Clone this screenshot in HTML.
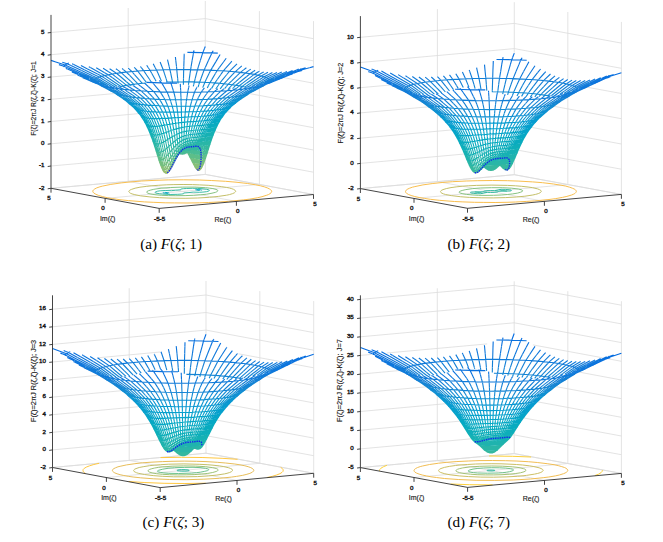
<!DOCTYPE html>
<html><head><meta charset="utf-8"><title>F(ζ; J)</title>
<style>
html,body{margin:0;padding:0;background:#fff}
svg{display:block}
path{fill:none;stroke-linecap:butt;stroke-linejoin:round}
.m path{stroke-width:1.12}
.tk text{font-family:"Liberation Sans",sans-serif;font-size:6.2px;fill:#1a1a1a;stroke:#1a1a1a;stroke-width:.4px}
.tk text.zl,.tk text.al{font-size:7px;stroke-width:.14px}
.cap{font-family:"Liberation Serif",serif;font-size:15.2px;fill:#000}
.it{font-style:italic}
</style></head><body>
<svg width="663" height="542" viewBox="0 0 663 542">
<rect width="663" height="542" fill="#fff"/>
<g><path d="M51 188.3l154.3-13.9M205.3 174.4l108.2 20.1M51 166l106.9-9.6M178.3 154.6l9.5-0.9M207.8 152.6l105.7 19.6M51 143.8l99.4-9M215.1 131.7l98.4 18.3M51 121.5l87.9-7.9M226.4 111.5l87.1 16.2M51 99.3l63.9-5.8M249.1 93.5l64.4 12M51 77l25-2.2M283 77.5l30.5 5.7M51 54.7l154.3-13.9M205.3 40.8l108.2 20.1M51 32.5l154.3-13.9M205.3 18.6l108.2 20.1M128.2 181.4l0-78.2M128.2 67.6l0-59.6M259.4 184.4l0-96.1M259.4 71.2l0-60.1M205.3 174.4l0-15M205.3 46.6l0-45.6M313.5 194.5l0-173.4M236.4 201.4l-108.2-20M105.1 198.4l154.3-14M51 188.3l154.3-13.9M205.3 174.4l108.2 20.1" stroke="#dcdcdc" stroke-width="0.8" fill="none"/>
<path d="M200.5 189.8l-1.7-0.3-2.4-0.1M163.2 192.4l-0.3 0.2 0.1 0.2 1 0.2 1.7 0.3 2.4 0.1M201.3 190.4l0.3-0.2-0.1-0.2-1-0.2M196.7 190.1l-1.2-0.3-0.3-0.2M164.8 192.3l3 0.4 1.2 0.3 0.3 0.2M199.7 190.5l-3-0.4" stroke="#07a9c3" stroke-width="0.95" fill="none"/>
<path d="M206.3 189.2l-4.3-0.5-4.6-0.3-5-0.1-5.7 0.2-3.4 0.2-2 0.3-0.5 0.2 0 0.6-5.3 0.4-4.1 0.5-6.2-0.2-5.1 0.3-2.5 0.4-1.4 0.4-0.8 0.3-0.3 0.4 0.1 0.3 0.4 0.2 1.5 0.5 2.4 0.5 3 0.3 7.6 0.4 7.7-0.2 3.4-0.2 2-0.3 0.5-0.2 0-0.6 5.3-0.4 4.1-0.5 6.2 0.2 3.6-0.2 3.5-0.4 2.2-0.6 0.5-0.2 0.3-0.4-0.1-0.3-0.7-0.4-2.3-0.6" stroke="#33b8a1" stroke-width="0.95" fill="none"/>
<path d="M212.9 188.6l-3.4-0.5-4-0.4-10.6-0.6-12.1 0-12.1 0.4-9.6 0.7-7.3 1.1-2.9 0.7-2.4 0.7-1.5 0.8-0.3 0.3-0.1 0.3 0.3 0.5 0.8 0.5 1.3 0.5 1.9 0.4 4.1 0.7 6.3 0.6 7.1 0.3 7.4 0.1 9.3-0.1 8.7-0.3 7-0.5 5.8-0.6 5.4-1 3.6-0.9 1.1-0.5 0.8-0.5 0.4-0.4-0.1-0.5-0.7-0.5-1.1-0.5-3.1-0.8" stroke="#7fbf7a" stroke-width="0.95" fill="none"/>
<path d="M226.4 187.4l-4.7-0.7-7.1-0.8-6.4-0.6-8.6-0.4-7.2-0.3-9.3-0.1-9.2 0.1-7.1 0.2-8.6 0.5-6.3 0.5-5.7 0.6-6.2 0.8-4.9 1-3.6 1.2-1.4 0.6-0.7 0.5-0.4 0.5-0.2 0.5 0.1 0.5 0.4 0.4 1 0.8 1.7 0.7 2.2 0.6 6.1 1.3 9.6 1.1 9.8 0.8 12.4 0.5 13 0.1 12.6-0.3 11.8-0.7 8.8-0.9 8.3-1.2 2.8-0.6 3-0.9 2-0.9 0.9-0.8 0.3-0.4 0-0.5-0.4-0.7-1.5-1-1.9-0.7-2.4-0.7-3-0.6" stroke="#c1bc60" stroke-width="0.95" fill="none"/>
<path d="M255.5 184.8l-7.9-1.3-11.6-1.3-10.4-0.9-14.3-0.8-12-0.5-15.6-0.2-15.5 0.1-12.2 0.4-14.4 0.7-10.7 0.9-9.7 1-10.4 1.5-8.3 1.7-2.6 0.7-3.2 1.1-2.2 1.2-1 0.8-0.6 0.8-0.1 0.8 0.4 0.8 0.7 0.8 2 1.2 2.9 1.2 3.8 1.1 4.7 1.1 5.5 0.9 6.2 1 9.5 1 16 1.3 8.7 0.4 12 0.5 9.3 0.1 12.5 0.1 12.4-0.2 9.1-0.3 11.6-0.6 8.3-0.5 14.9-1.5 6.5-0.8 7.5-1.3 4.7-1.1 4.8-1.5 1.8-0.7 1.4-0.8 1.3-1.2 0.4-0.8-0.1-0.8-0.6-0.8-0.4-0.4-1.2-0.8-1.6-0.8-3.2-1.2-4.1-1.1-5-1" stroke="#f8ba45" stroke-width="0.95" fill="none"/>
<g class="m">
<path d="M196.8 168.1l0.9 1.8 0.9 0.6 0.3-0.4M196 167.7l0.8 1.7 0.8 0.6 0.4-0.4M195.4 167.5l0.4 0.8 0.8 0.5M164.3 171.7l-1.1-0.9-0.5-1M165.1 172.9l-1.1-0.8-1-2.1M165.9 173.4l-1-0.8-1.2-2.5M168.1 171.5l-0.4 1-0.8 0.7-1-0.8-0.9-2M169.1 170.8l-0.4 0.9-0.8 0.7-0.9-0.9-0.4-1M169 170.9l-0.4-0.5M200.8 168l0.4-0.3M198.7 168.1l0.5 0.8 1 0.6 1.1-1.1 0.5-1M197.6 168l0.9 1.7 0.9 0.6 1.1-1 0.5-1.1M196.8 168.1l-0.8-0.4-0.3-0.4M197.6 168l-0.8 0.1M197.7 169.9l-0.9-0.5-1-1.1-0.8-1.2M167.3 172.6l0.4-0.1 1-0.8 1.1-1.4M199.6 168l-0.4 0.9-0.7 0.8-0.8 0.2M198.6 170.5l-1-0.5-1.3-1.7M164.3 171.7l0.8 1.2 0.8 0.5 1-0.2 1-0.8 1.4-2M200.8 168l-0.6 1.5-0.8 0.8-0.8 0.2M163 170.4l1 1.7 0.9 0.5 1-0.2 1.1-0.9 0.6-0.7M201.5 168l-0.2 0.4-0.8 0.9-0.4 0.1" stroke="#9abf6f"/>
<path d="M195.5 163.3l1.3 4.8M194.7 163.1l1.3 4.6M194 162.9l1 3.8 0.4 0.8M193.3 162.7l0.7 2.4 0.7 1.5 0.4 0.2M192.8 162.6l0.8 1.9 0.7 0.2M192.7 162l0.3 0.1M161.1 165.1l-0.2-0.5M162.9 169.3l-0.4-0.3-1.3-2.5-0.6-1.6M162.7 169.8l-0.8-1.5-1.1-3.1M163 170l-1.7-4.7M163.7 170.1l-1.3-4.3M165 170.4l-1.5-4.7M166.6 170.5l-0.6-1.4-0.9-3.1M170.5 168.6l-0.7 1.7-0.8 0.6M168.6 170.4l-0.4-0.4-1-2.4-0.4-1.7M171.7 166.4l-0.8 2-0.7 0.5-0.7-0.9-0.7-1.9M171.8 166.3l-0.3 0.1-0.3-0.4M201.2 163.6l0.5 0.1 0.4-0.4M199.1 163.9l1.2 1.8 1 0.4 1.2-1.1 1.1-2.1M197.8 163.5l1 2.5 1 1.6 1 0.4M201.2 167.7l0.8-0.7 1.3-2.6 0.6-1.6M197 163.4l1.2 3.9 0.5 0.8M201.8 167.4l0.8-1.6 1.1-3.3M196.1 163.2l1.5 4.8M201.5 167.1l0.3-0.5M195.9 165.3l-0.7-0.4-0.9-0.9-1.2-1.7M197.8 163.5l-0.5 1.1-0.6 0.6-0.8 0.1M195.7 167.3l-1.7-2.2-1.7-3.3M169.5 169.8l1-1.2 1.6-2.8M199.3 163.9l-0.5 2.1-0.6 1.3-0.6 0.7M195 167.1l-2.6-5.1M169.8 170.3l2.3-4.2M200.6 164.1l-0.3 1.6-0.7 2.3M195.2 166.6l-0.2-0.5M194.3 164.7l-0.3-0.5M169.3 170.4l2.5-4.4M201.7 163.7l-0.9 4.3M162.3 168l0.7 2.4M167.6 170.8l1.9-2.8 1.1-2M202.8 163.6l-0.8 3.4-0.5 1M160.9 165.5l1 2.8 0.8 1.2 1 0.6 1.1-0.2 1.2-0.8 2.1-2.7M203.6 163.4l-0.3 1-0.7 1.4-0.8 0.8" stroke="#87bf77"/>
<path d="M194.3 158.5l1.2 4.8M193.6 158.2l1.1 4.9M193 158.1l1 4.8M192.4 158.5l0.9 4.2M191.7 158.2l1.1 4.4M191 158l0.8 2.9 0.6 1.1 0.3 0M190.4 157.9l0.7 1.4M160.9 164.6l-1.9-4.5M160.6 164.9l-1.7-4.8M160.8 165.2l-1.5-4.8M161.3 165.3l-1.2-4.3M162.4 165.8l-1.3-4.9M163.5 165.7l-1.1-4.3M165.1 166l-1.1-4.5M166.8 165.9l-1.1-4.6M171.8 165.9l-0.1 0.5M168.8 166.1l-1.2-4.4M172.8 164.3l-0.7 1.8-0.3 0.2M171.2 166l-0.3-0.5-1.2-3.9M174.2 161.6l-0.8 2-0.5 0.2-0.6-1-0.3-1.1M199.3 159.3l0.6 0.9 1 0.9 1.1 0 1.3-1.1 0.8-1.5M198.2 159.4l1.4 3 1 1.1 0.6 0.1M202.1 163.3l0.9-0.7 1.4-2.5 0.6-1.4M197.2 159.2l1.9 4.7M203.6 162.9l1.9-4.6M196.5 159.2l1.3 4.3M203.9 162.8l1.6-4.8M195.7 158.6l1.3 4.8M203.7 162.5l1-3.3M195 158.4l1.1 4.8M195.1 161.7l-0.8-0.3-0.8-0.7-2.3-3.3M197.2 159.2l-0.4 1.1-0.5 0.9-0.6 0.5-0.6 0M193.1 162.3l-2.8-5M198.7 159.4l-0.5 2.7-0.4 1.4M192.3 161.8l-2.5-4.9M172.1 165.8l2.6-4.7M199.9 159.6l-0.6 4.3M192.4 162l-2.4-5.1M172.1 166.1l2.4-4.6M201 159.6l-0.4 4.5M171.8 166l2.3-4.6M202.1 159.5l-0.4 4.2M170.6 166l2.2-4.2M203.3 159.5l-0.5 4.1M160.5 163.6l0.4 1.9M168.1 166.4l2.8-4.5M204.5 159.1l-0.9 4.3M159.2 160.7l0.4 1.7 0.8 1.7 0.9 1.2 1.1 0.5 1.1-0.1 1.3-0.8 1.4-1.3 1.4-1.9M205.3 158.8l-0.4 1.3-0.8 1.3" stroke="#73bf7f"/>
<path d="M193.2 153.8l1.1 4.7M192.5 153.6l1.1 4.6M192 153.7l1 4.4M191.3 153.6l1.1 4.9M190.7 153.4l1 4.8M190 153.4l1 4.6M189.2 153.1l1.2 4.8M188.5 153l0.8 2.9 0.5 0.6M187.9 153l0.1 0.4 0.4 0.3M158.2 156.5l-0.6-1.6M159 160.1l-1.6-4.9M158.9 160.1l-1.3-4.5M159.3 160.4l-1.2-4.4M160.1 161l-1.3-5.1M161.1 160.9l-1.1-4.5M162.4 161.4l-1.1-5M164 161.5l-1.1-4.6M165.7 161.3l-1-4.5M167.6 161.7l-1-4.8M169.7 161.6l-0.9-4.3M174.4 160.7l-0.2 0.9M172 161.7l-1.1-4.6M175.4 159.1l-0.7 1.8-0.4 0.1-0.5-1.1-0.7-2.7M176.7 157l-0.6 1.3-0.3-0.1-0.4-1.1M199.3 154.9l0.7 0.7 1.1 0.5 1.1-0.3 1.3-1.2M197.9 154.7l1 1.8 1.1 1.4 1.1 0.7 1.1-0.1 1.2-1.2 1.7-2.9M197.1 154.9l2.2 4.4M204.1 158.5l0.6-0.9 1.6-3.7M196.3 154.6l1.9 4.8M205 158.7l1.9-5.2M195.6 154.2l1.6 5M205.5 158.3l1.6-5M195 154.3l1.5 4.9M205.5 158l1.4-4.9M194.4 154.2l1.3 4.4M193.7 153.8l1.3 4.6M193.4 154.4l-0.7-0.2-1.5-1.1M194.4 154.2l-0.5 0.2-0.5 0M194.2 157.9l-0.7-0.2-1.6-1.5-2.5-3.2M196.6 154.5l-0.4 1.6-0.4 0.9-0.4 0.6-0.6 0.3-0.6 0M191.2 157.4l-3-4.9M197.9 154.7l-0.3 3.1-0.4 1.4M190.3 157.3l-2.6-4.8M174.1 161.2l0.6-1M175.9 158.1l0.9-1.5M199 155.1l-0.3 4.3M189.8 156.9l-2.3-4.4M174.7 161.1l2.3-4.2M200 155.1l-0.1 4.5M190 156.9l-2.5-4.7M174.5 161.5l2.5-4.6M201.1 154.9l-0.1 4.7M174.1 161.4l2.4-4.5M202.2 154.8l-0.1 4.7M172.8 161.8l2.6-4.7M203.5 155.1l-0.2 4.4M170.9 161.9l2.6-4.6M204.9 154.9l-0.4 4.2M158.5 157.5l0.7 3.2M167.6 161.7l3.3-4.6M206.2 154.5l-0.2 1.7-0.7 2.6M157.7 156.2l1 2.1 1 1 1.1 0.6 1.3-0.1 1.3-0.7 2.3-1.9M206.8 153.7l-0.7 1.3" stroke="#5dbe89"/>
<path d="M183 153.9l0.8-0.3M191.3 149.3l0.3 0.3 0.9 1.9 0.7 2.3M190.7 149.1l0.4 0.4 0.8 1.9 0.6 2.2M190.5 149.3l0.7 1.8 0.8 2.6M190.1 149.5l0.4 1.1 0.8 3M189.8 150.1l0.9 3.3M189.2 150.4l0.8 3M188.7 151l0.5 2.1M188.1 151.1l0.4 1.9M187.5 151.6l0.4 1.4M181.5 153.9l-0.9-0.3M181.5 153.9l-1-0.3M181.4 153.9l-1.9-0.7M181.4 153.9l-2-0.7M181.4 153.9l-2-0.6M181.4 153.9l-2.1-0.6M181.4 153.9l-2.1-0.6M181.4 153.9l-1.1-0.2-1.6-0.6M181.4 154l-1.1-0.3-1.6-0.6M181.4 154l-1.1-0.2-1.5-0.6M181.4 154l-1-0.2-1.6-0.6M157.6 154.9l-1.5-4.3M181.4 154l-1-0.2-1.5-0.6M157.4 155.2l-1.4-4.6M181.4 154l-0.9-0.2-1.5-0.5M157.6 155.6l-1.3-4.4M181.5 154l-1-0.2-1.4-0.5M158.1 156l-1.2-4.5M181.5 154l-0.9-0.1-1.8-0.8M158.8 155.9l-1.2-4.6M181.5 154l-0.8-0.1-1.8-0.8M160 156.4l-1.2-4.6M181.6 154l-0.8-0.1-1.7-0.7M161.3 156.4l-1.1-4.6M181.6 154l-0.7-0.1-1.6-0.7M162.9 156.9l-0.9-4.5M181.7 154l-1.4-0.4-1.1-0.7M164.7 156.8l-1-4.7M181.7 154l-1.2-0.3-1-0.7M166.6 156.9l-0.9-4.5M181.8 154l-1.2-0.3-1.1-1M168.8 157.3l-0.9-4.6M181.8 154l-1-0.3-1.2-1.3M170.9 157.1l-0.8-4.3M181.9 154.1l-0.8-0.4-1.3-1.6M173.1 157.2l-0.8-4.4M182 154.1l-0.4-0.1-0.7-0.7-0.8-1.5M176.8 156.6l-0.1 0.4M175.4 157.1l-1-4.6M182 154.1l-0.2-0.1-0.6-0.7-0.8-1.9M178.2 154.3l-0.4 1.2-0.3 0.4-0.2-0.3-0.7-3.1M182.1 154.1l-0.5-0.7-0.7-2.3M179.4 152.5l-0.2 1-0.2 0.2-0.4-1.6M182.2 154.1l-0.3-0.7-0.4-2.7M182.2 154.1l-0.1-3.4M182.3 154.1l0.2-0.7 0.3-2.8M182.4 154.1l0.4-0.7 0.6-2.8M182.4 154.1l0.3-0.1 0.4-0.7 0.9-2.7M182.5 154.1l0.3-0.1 0.6-0.7 1.3-2.7M182.6 154.1l0.4-0.1 0.7-0.7 1.6-2.7M182.6 154l0.5 0 0.9-0.7 1-1.2 0.9-1.6M182.7 154l0.5-0.1 1.1-0.6 1.1-1.2 1.1-1.6M182.8 154l0.6-0.1 1.2-0.6 1.2-1.3 1.2-1.6M182.8 154l0.7-0.1 1.3-0.7 1.4-1.2 1.3-1.6M182.9 154l0.7-0.1 1.5-0.7 1.4-1.2 1.5-1.7M182.9 154l0.8-0.1 1.6-0.7 1.6-1.3 1.6-1.6M182.9 154l0.9-0.1 1.7-0.7 1.7-1.3 1.4-1.4M183 154l0.9-0.1 1.8-0.8 1.7-1.3 1.5-1.4M183 154l1-0.1 1.8-0.8 1.9-1.3 1.5-1.4M183.1 154l0.9-0.2 2-0.8 1.9-1.3 1.6-1.4M183.1 154l1-0.2 2-0.8 2-1.3 1.6-1.5M183.1 154l1-0.2 2.1-0.8 2-1.4 1.7-1.4M183.1 154l1.1-0.2 2-0.9 2.1-1.4 1.8-1.4M197.7 150.4l1 0.8 1.1 0.5 1 0 1.1-0.5 0.8-0.9M183.1 154l1.1-0.2 2.1-0.9 2.1-1.4 1.7-1.5M196.4 150.2l2.5 2.6 1.1 0.7 1 0.3 1.1-0.4 1.3-1.3 1.4-2.2M183.1 154l1.1-0.3 2.1-0.9 2.1-1.4 2.1-1.7M195.8 150.2l3.5 4.7M203.5 154.6l1.4-2.2 1.2-2.4M183.1 153.9l1.1-0.2 2.1-0.9 2.1-1.5 2.1-1.7M195.1 150l0.7 0.9 2.1 3.8M205.1 154.4l2.2-5.1M183.1 153.9l1.1-0.2 2.1-0.9 4.1-3.2M194.6 150l1.1 1.7 1.4 3.2M206.3 153.9l1.7-4.5M183.1 153.9l1-0.2 2.1-1 2.7-2.1M189.6 150.1l0.7-0.6M193.8 149.7l0.7 0.8 1.8 4.1M206.9 153.5l1.5-4.3M183.1 153.9l1-0.2 2-1 2.7-2.1M189.8 149.7l0.4-0.2M193.5 149.9l0.7 1 1.4 3.3M207.1 153.3l1.3-4.4M183.1 153.9l1.9-0.7 1.7-1M192.9 149.6l1 1.6 1.1 3.1M206.9 153.1l1.3-4.5M183 153.9l1-0.3 1.4-0.7M192.2 149.4l0.3 0.3 1 1.8 0.9 2.7M183 153.9l1.8-0.7M191.8 149.4l0.3 0.3 0.9 1.9 0.7 2.2M183 153.9l-1.6 0 1.1 0.2 0.6-0.1-0.1-0.1M183.8 153.6l-0.4-0.1M180.9 153.6l-0.5 0.1 0.1 0.1 1.6 0.2 1.8-0.1 0.3-0.2-0.4-0.1M184.7 153.1l-0.3 0M179.9 153.1l-0.6 0.2 0.3 0.2 2.6 0.2 2.7-0.2 0.3-0.2-0.5-0.2M178.8 153.1l2.1 0.2 3.1 0 2-0.3 0.3-0.2-0.3-0.2M179.5 152.7l3.1 0.1 2.6-0.1 1.9-0.3 0.3-0.2-0.3-0.2M179.8 152.1l3.3 0.1 3.1-0.2 2-0.4 0.2-0.2-0.3-0.2M180.4 151.4l6.4-0.2 2.1-0.3 0.5-0.3 0-0.2M191.6 149.6l-1.1-0.3M192.9 149.6l-1.3 0M192.5 151.5l-1.3-0.4-1.4-1M194.6 150l-0.7 1.2-0.9 0.4-0.5-0.1M191.2 153.1l-2.3-2.3M195.8 150.2l-0.3 2.3-0.6 1.3-0.5 0.4M189.4 153l-1.3-1.9M196.8 150.5l0 2.3-0.2 1.7M188.2 152.5l-0.6-0.8M197.7 150.4l0.2 1.3 0 3M187.7 152.5l-0.3-0.5M176.8 156.6l1.3-1.9 2.2-2.9M198.6 150.8l0.3 2 0.1 2.3M177 156.9l2.2-3.4 1.4-1.7M199.6 150.6l0.4 4.5M177 156.9l2-3.2 1.1-1.5M200.6 150.5l0.5 4.4M176.5 156.9l2.9-4.5M201.8 150.7l0.4 4.1M175.4 157.1l2.9-4.5M203.2 150.4l0.3 4.7M173.5 157.3l3.1-4.8M204.8 150.4l0.1 4.5M170.9 157.1l2.9-4.3M206.5 150.2l-0.3 4.3M156.5 151.3l0.7 3.3 0.5 1.6M165.7 157.2l3.9-4.5M208 149.8l-0.7 2.9-0.5 1M157.8 151.9l1.2 0.5 1.3-0.1 0.5-0.1" stroke="#48bb94"/>
<path d="M191 149l0.3 0.3M156.1 150.6l-1.6-4.9M156 150.6l-1.4-4.5M156.3 151.2l-1.5-4.9M156.9 151.5l-1.4-5.1M157.6 151.3l-1.2-4.5M158.8 151.8l-1.1-4.6M160.2 151.8l-1.1-4.5M162 152.4l-1.2-5M163.7 152.1l-1-4.6M165.7 152.4l-0.9-4.4M167.9 152.7l-0.9-4.6M170.1 152.8l-0.9-4.9M172.3 152.8l-0.7-4.5M174.4 152.5l-0.6-4.2M176.6 152.5l-0.6-4.7M178.6 152.1l-0.5-4.2M181.5 150.7l-0.1-0.4M180.8 150.9l-0.2 0.9-0.1 0-0.4-4.2M182.1 150.7l0-0.8M182 150.3l-0.1-2.4M182.8 150.6l0.1-1.4M183.2 148.8l0.1 0.5 0.2-1.8M183.4 150.6l0.5-2M184.4 148.5l0.3 0 0.3-1.1M184 150.6l0.5-1.5 0.5-0.9 0.2-0.1 0.7 0.1 0.4-0.7M184.7 150.6l0.6-1.6 0.6-0.9 0.3-0.2 1 0 0.6-0.7M185.3 150.6l0.8-1.6 0.7-1 0.4-0.2 1.2-0.1 0.6-0.5M185.9 150.5l0.9-1.5 0.9-1 0.5-0.3 1.4-0.1 0.7-0.5M186.5 150.5l1-1.6 1.1-1 0.5-0.2 1.7-0.2 0.5-0.3M187 150.4l1.2-1.6 1.2-1 0.6-0.2 1.9-0.2 0.6-0.3M187.5 150.4l1.4-1.6 1.3-1 0.7-0.3 2-0.2 0.7-0.3M188 150.3l1.5-1.6 1.4-1 0.8-0.3 2.2-0.2 1.1-0.6M188.5 150.3l1.5-1.7 1.6-1 0.8-0.2 2.4-0.3 1.2-0.5M188.6 150.5l2-1.9 1.6-1.1 0.9-0.2 2.5-0.2 1.3-0.5M188.9 150.4l2.1-1.9 1.8-1 0.9-0.2 2.7-0.1 0.9-0.2 0.9-0.5M189.2 150.4l2.2-1.9 1-0.6 0.9-0.4 0.9-0.1 2.8 0.1 1-0.2 0.9-0.4 0.7-0.6M189.5 150.3l2.3-1.9 0.9-0.5 1-0.3 1 0 2.9 0.4 1-0.1 0.9-0.3 1.1-0.8 0.7-0.9M189.7 150.2l2.4-1.8 1-0.5 1-0.2 1 0.1 3 1 1 0.1 1-0.3 1-0.7 1.8-2.2M189.9 150.2l2.4-1.8 1-0.4 1.1 0 1 0.3 3.1 1.6 1 0.2 1-0.1 1.1-0.7 1.2-1.3 1.7-2.5M190.1 150.1l1.3-1.1 1.1-0.6 1-0.2 1.1 0.1 1 0.5 2.1 1.6M202.7 150.3l1.9-2.5 1.3-2.5M190.1 150l1.4-1 1.1-0.5 1-0.2 1.1 0.4 1.7 1.5M204.8 149.9l2.3-4.6M190.5 149.7l1.1-0.7 1-0.5 1.1 0 1.1 0.6 1 1.1M206.1 150l2.1-4.9M190.5 149.6l1.1-0.7 1-0.3 1.1 0.2 1 0.8 0.4 0.4M207.3 149.3l1.9-4.7M190.4 149.6l1.1-0.7 1-0.2 1.1 0.3 1 1M208 149.4l1.6-4.8M190.3 149.5l1.1-0.6 1-0.2 1 0.5 0.4 0.5M208.4 149.2l1.6-5M190.2 149.5l1-0.6 1-0.1 1 0.6 0.3 0.5M208.4 148.9l1.5-4.8M191.4 148.8l0.5 0 1 0.8M208.2 148.6l0.5-1.7M191.1 148.8l0.5 0 0.6 0.6M191.2 148.8l0.6 0.6M181.1 150.7l6.9-0.4 2.3-0.4 0.2-0.2-0.3-0.2M182.1 149.9l6.1-0.4 3.1-0.4 0.3-0.1-0.4-0.1M182.9 149.2l5.3-0.4 3.9-0.4 0.5 0.1-0.2 0.2-1.2 0.1M183.9 148.6l8.8-0.7 0.6 0.1 0.4 0.5-0.3 0.7-0.5 0.4M184.5 148.3l8.8-0.8 0.8 0.2 0.5 0.6 0.2 0.8-0.2 0.9M184.7 148.2l7.7-0.8 1.8 0 0.9 0.4 0.3 0.5 0.2 0.5 0.2 1.4M184.9 148.2l2.7-0.4 5.6-0.5 1.4 0 1.1 0.4 0.4 0.4 0.3 0.7 0.4 1.7M180.4 151.3l1.2-1.1M182.4 149.6l2-1.1 2.4-0.6 8-0.7 1.3 0.3 0.5 0.4 0.8 1.5 0.3 1M180.3 151.8l1.7-1.5 1.3-1 2.6-1.1 2.5-0.5 6.4-0.6 1.6 0.1 0.6 0.3 0.6 0.5 0.5 0.8 0.5 2M180.6 151.8l1.4-1.4 1.3-1.1 1.4-0.8 2.8-0.9 3.4-0.4M194.1 146.9l2.4-0.1 0.8 0.2 0.7 0.3 0.6 0.6 0.5 1 0.5 1.7M180.1 152.2l1.8-2 1.5-1.2 1.5-0.9 1.4-0.6M198.5 146.7l1 0.9 0.6 1 0.5 1.9M179.4 152.4l2.5-2.8 1.6-1.3 1.2-0.7M200.2 146.4l0.9 1.5 0.7 2.8M178.3 152.6l1.9-2.5 2.5-2.4M202.3 146.5l0.5 1.5 0.4 2.4M176.6 152.5l1.7-2.4 2.1-2.3M204.2 146l0.4 1.8 0.2 2.6M173.8 152.8l3.5-4.6M206.3 145.8l0.2 4.4M169.6 152.7l3.8-4.5M208.4 145.7l-0.4 4.1M154.7 146.3l0.4 1.5 0.7 1.7 0.9 1.4 1.1 1M160.8 152.2l1-0.3 1.6-1 3.6-2.8M209.8 144.7l-0.4 1-0.7 1.2" stroke="#35b89f"/>
<path d="M154.5 144.7l-1.4-3.9M154.5 145.7l-1.6-4.8M154.6 146.1l-1.7-5M154.8 146.3l-1.3-4.4M155.5 146.4l-1.3-4.4M156.4 146.8l-1.2-4.6M157.7 147.2l-1.2-4.5M159.1 147.3l-1.1-4.5M160.8 147.4l-1-4.4M162.7 147.5l-1-4.6M164.8 148l-1-4.9M167 148.1l-0.9-4.5M169.2 147.9l-0.8-4.4M171.6 148.3l-0.8-4.4M173.8 148.3l-0.6-4.6M176 147.8l-0.5-4.3M178.1 147.9l-0.4-4.2M180.1 147.6l-0.3-4.4M181.9 147.9l-0.1-4.5M183.5 147.5l0.2-4.2M185 147.4l0.5-4.1M186.3 147.5l0.9-4.3M187.8 147.2l1.1-3.9M189 147.2l0.6-1.1 1-3.1M190.3 147.1l0.7-1.1 1.2-3.1M191.3 147.2l1.1-1.3 1.4-3.2M192.5 147.1l1.2-1.3 1.6-3.2M193.6 147l0.6-0.5 0.8-0.9 1.7-3.1M195 146.6l1.1-1.1 1.9-3.2M196 146.6l1.2-1.2 2-3.2M196.9 146.6l1.3-1.1 2.2-3.3M198.2 146.5l0.9-0.9 1.1-1.3 1.4-2.4M199.6 146.3l1.4-1.6 1.8-2.9M201.3 145.9l1.7-2.4 1.3-2.2M202.9 145.7l2.6-4.3M204.5 145.5l2.3-4.4M205.9 145.3l2.1-4.3M207.1 145.3l2.1-4.6M208.2 145.1l2-4.8M209.2 144.6l1.8-4.8M209.6 144.6l1.8-4.8M210 144.2l1.6-4.9M209.9 144.1l1.5-4.9M190.9 147.2l3.2-0.3M186.3 147.5l2.9-0.6 7.2-0.6 0.9 0 1.2 0.4M184.7 147.6l1.9-0.8 1.5-0.4 8-0.9 2.1 0 0.9 0.1 0.8 0.5 0.3 0.3M182.7 147.7l2.5-1.6 1.7-0.6 1.6-0.4 9.7-1 2 0.2 0.8 0.4 0.7 0.7 0.6 1.1M180.4 147.8l1.5-1.3 1.7-1.3 1.8-0.9 1.8-0.6 1.7-0.4M200.9 142.3l1.4 0.5 0.7 0.7 0.7 1 0.5 1.5M177.3 148.2l2.6-2.7 2.9-2.1M205.2 141.8l0.6 1.4 0.5 2.6M173.4 148.2l2.3-2.6 2-1.9M208.1 141.5l0.2 1.2 0.1 3M154.1 143.5l0.6 2.8M167 148.1l4.8-4.4M210.6 140.9l-0.2 1.7-0.6 2.1M154 142.1l1.5 1.3 1.3 0.4 1.5 0.1 2.5-0.7" stroke="#29b6a7"/>
<path d="M153.1 140.8l-1.8-4.8M152.9 140.9l-1.8-4.7M152.9 141.1l-1.5-4.5M153.5 141.9l-1.6-4.8M154.2 142l-1.4-4.4M155.2 142.2l-1.4-4.4M156.5 142.7l-1.4-5.1M158 142.8l-1.2-4.5M159.8 143l-1.2-4.7M161.7 142.9l-1.1-4.5M163.8 143.1l-1-4.6M166.1 143.6l-0.9-4.4M168.4 143.5l-0.8-4.6M170.8 143.9l-0.7-4.6M173.2 143.7l-0.7-4.6M175.5 143.5l-0.5-4.3M177.7 143.7l-0.4-4.4M179.8 143.2l-0.2-4.1M181.8 143.4l0-4.4M183.7 143.3l0.2-4.2M185.5 143.3l0.4-4.4M187.2 143.2l0.7-4.4M188.9 143.3l0.9-4.7M190.6 143l1-4.3M192.2 142.9l1.3-4.3M193.8 142.7l1.4-4.3M195.3 142.6l1.6-4.3M196.7 142.5l1.8-4.4M198 142.3l2-4.3M199.2 142.2l2.2-4.4M200.4 142.2l2.5-4.9M201.6 141.9l2.5-4.5M202.8 141.8l2.6-4.7M204.3 141.3l2.2-4.2M205.5 141.4l2.3-4.5M206.8 141.1l2.2-4.5M208 141l2.2-4.7M209.2 140.7l2-4.6M210.2 140.3l2-4.7M211 139.8l1.8-4.5M211.4 139.8l1.8-4.9M211.6 139.3l1.8-4.9M211.4 139.2l1.7-4.8M188.9 143.3l10.3-1.1 1.7 0.1M182.8 143.4l2.8-1.5 3.8-1 11.1-1.1 2.3 0.1 0.9 0.4 0.8 0.6 0.7 0.9M177.7 143.7l2.1-1.7 2-1.3 2.1-1.1 1.5-0.5M205.8 137.4l0.5 0.2 0.7 0.8 0.6 1.1 0.5 2M171.8 143.7l3.4-2.9 2.1-1.5M210.3 136.7l0.4 2.5-0.1 1.7M151.5 136.5l0.5 1.8 0.6 1.6 0.8 1.5 0.6 0.7M160.8 143.2l2.8-1.2 4.5-2.8M213 135.4l-0.5 1.2-0.6 1" stroke="#1fb3ae"/>
<path d="M151.3 136l-2-4.9M151.1 136.2l-1.8-4.8M151.4 136.6l-1.6-4.4M151.9 137.1l-1.7-4.8M152.8 137.6l-1.7-5M153.8 137.8l-1.6-5M155.1 137.6l-1.4-4.4M156.8 138.3l-1.5-4.9M158.6 138.3l-1.3-4.6M160.6 138.4l-1.2-4.5M162.8 138.5l-1-4M165.2 139.2l-1.1-4.9M167.6 138.9l-0.9-4.4M170.1 139.3l-0.8-4.5M172.5 139.1l-0.7-4.6M175 139.2l-0.6-4.4M177.3 139.3l-0.4-4.5M179.6 139.1l-0.2-4.8M181.8 139l0-4.5M183.9 139.1l0.2-4.8M185.9 138.9l0.4-4.3M187.9 138.8l0.6-4.6M189.8 138.6l0.8-4.1M191.6 138.7l1.1-4.4M193.5 138.6l1.2-4.5M195.2 138.4l1.5-4.5M196.9 138.3l1.7-4.5M198.5 138.1l1.8-4.5M200 138l2-4.6M201.4 137.8l2.1-4.5M202.9 137.3l2-4.1M204.1 137.4l2.4-4.7M205.4 137.1l2.5-4.7M206.5 137.1l2.6-4.9M207.8 136.9l2.4-4.7M209 136.6l2.5-4.9M210.2 136.3l2.4-4.8M211.2 136.1l2.2-4.7M212.2 135.6l2-4.6M212.8 135.3l2.1-4.9M213.2 134.9l2-4.9M213.4 134.4l1.8-4.8M213.1 134.4l0.3-1M185.4 139.1l2.5-0.8 2-0.3 12-1.2 2.5 0 1.4 0.6M177.3 139.3l2.2-1.4 2.3-1.1 2.2-0.9 2.2-0.7 3.8-0.7M205.8 133.2l1.5 0.1 1 0.4 0.8 0.6 0.7 0.9 0.5 1.5M168.1 139.2l4.1-2.5 3.3-1.8M213.1 131.9l0.1 2.3-0.2 1.2M150.4 132.8l1.1 0.9 1.3 0.7 1.5 0.4 1.6 0.2 1.8-0.1 2.4-0.5" stroke="#16b1b4"/>
<path d="M147.8 127.1l-0.5-1M149.3 131.1l-2.2-4.6M149.3 131.4l-1.9-4.1M149.8 132.2l-2.2-4.9M150.2 132.3l-2-4.8M151.1 132.6l-1.7-4.3M152.2 132.8l-1.7-4.4M153.7 133.2l-1.6-4.4M155.3 133.4l-1.5-4.4M157.3 133.7l-1.5-4.5M159.4 133.9l-1.3-4.3M161.8 134.5l-1.3-4.5M164.1 134.3l-1.1-4.3M166.7 134.5l-1-4.4M169.3 134.8l-0.9-4.5M171.8 134.5l-0.8-4.6M174.4 134.8l-0.6-4.6M176.9 134.8l-0.4-4.4M179.4 134.3l-0.3-4M181.8 134.5l-0.1-4.3M184.1 134.3l0.1-4.4M186.3 134.6l0.4-4.6M188.5 134.2l0.6-4M190.6 134.5l0.9-4.6M192.7 134.3l1.1-4.6M194.7 134.1l1.3-4.5M196.7 133.9l1.5-4.5M198.6 133.8l1.7-4.5M200.3 133.6l1.9-4.5M202 133.4l2.1-4.5M203.5 133.3l2.3-4.6M204.9 133.2l2.4-4.6M206.5 132.7l2.2-4.2M207.9 132.4l2.3-4.3M209.1 132.2l2.5-4.4M210.2 132.2l2.6-4.6M211.5 131.7l2.5-4.5M212.6 131.5l2.5-4.7M213.4 131.4l2.6-5.1M214.2 131l2.5-5.1M214.9 130.4l2.3-4.8M215.2 130l2.2-4.7M215.2 129.6l1.9-4.3M190 134.5l15.8-1.3M175.5 134.9l3.8-1.7 2.4-0.9 4.9-1.2 4.7-0.6 8.8-0.7 6.9-0.7 2.7-0.1 1 0.2 0.9 0.4 0.7 0.6 0.5 0.8 0.3 0.9M148.2 128.1l0.7 2.3 0.7 1.3 0.8 1.1M160.1 134.4l3.8-1.2 7.8-2.9M216.4 126.4l0 0.7-0.3 0.7-0.5 0.7" stroke="#0eaeba"/>
<path d="M146.5 124.5l-1.7-3M147.1 126.5l-2.3-4.5M147.4 127.3l-2.3-4.8M147.6 127.3l-1.7-3.8-0.6-1M148.2 127.5l-1.4-3.1-0.8-1.5M149.4 128.3l-1.4-3.2-0.8-1.5M150.5 128.4l-1-2.7-1.1-2M152.1 128.8l-1-2.7-1-2M153.8 129l-0.9-2.7-0.8-1.6M155.8 129.2l-0.9-2.8-0.7-1.6M158.1 129.6l-1.5-4.4M160.5 130l-1.3-4.5M163 130l-1.2-4.4M165.7 130.1l-1.2-4.3M168.4 130.3l-1-4.5M171 129.9l-0.8-4M173.8 130.2l-0.7-4.1M176.5 130.4l-0.5-4.4M179.1 130.3l-0.3-4.6M181.7 130.2l0-4.4M184.2 129.9l0.2-4M186.7 130l0.5-4.6M189.1 130.2l0.7-4.4M191.5 129.9l0.9-4.3M193.8 129.7l1.2-4.3M196 129.6l1.4-4.3M198.2 129.4l1.6-4.3M200.3 129.3l1.8-4.4M202.2 129.1l2.1-4.4M204.1 128.9l2.2-4.4M205.8 128.7l2.4-4.4M207.3 128.6l2.6-4.5M208.7 128.5l2.7-4.6M210.2 128.1l2.9-4.7M211.6 127.8l3-4.8M212.8 127.6l2.8-4.6M214 127.2l1.4-2.4 1.5-2.4M215.1 126.8l2.7-4.6M216 126.3l2.7-4.4M216.7 125.9l2.7-4.7M217.2 125.6l2.5-4.7M217.4 125.3l2.3-4.6M217.1 125.3l1.5-3.2M171.7 130.3l7.3-2.2 5.4-1.1 5.3-0.7 12.2-0.9 9.2-1 2.5 0 1.8 0.4 0.5 0.4 0.4 0.6 0.1 0.6M145.3 122.9l1.5 1.5 1.2 0.7 1.5 0.6 1.6 0.4 3.8 0.3 2.1-0.1 4.8-0.7" stroke="#09abbf"/>
<path d="M144.8 121.5l-0.5-1-2.6-3.8M144.8 122l-3.1-4.8M145.1 122.5l-3.2-5M145.3 122.5l-2.6-4.3M146 122.9l-2.5-4.5M147.2 123.6l-2.4-4.5M148.4 123.7l-2.3-4.6M150.1 124.1l-2.3-4.6M152.1 124.7l-2.2-4.8M154.2 124.8l-2.1-4.7M156.6 125.2l-1.9-4.4M159.2 125.5l-1.9-4.8M161.8 125.6l-1.6-4.3M164.5 125.8l-1.4-4.5M167.4 125.8l-1.3-4.3M170.2 125.9l-1-4.5M173.1 126.1l-0.8-4.7M176 126l-0.6-4.4M178.8 125.7l-0.3-4.1M181.7 125.8l-0.1-4.5M184.4 125.9l0.2-4.3M187.2 125.4l0.4-4.1M189.8 125.8l0.8-4.6M192.4 125.6l1-4.1M195 125.4l1.2-4.1M197.4 125.3l1.6-4.1M199.8 125.1l1.8-4.1M202.1 124.9l2-4.1M204.3 124.7l2.2-4.1M206.3 124.5l2.4-4.2M208.2 124.3l2.6-4.3M209.9 124.1l2.8-4.3M211.4 123.9l3.3-4.8M213.1 123.4l3.1-4.5M214.6 123l2.9-4.2M215.6 123l3.4-4.7M216.9 122.4l2.2-3.2 1.1-1.4M217.8 122.2l1.9-2.9 1.5-1.9M218.7 121.9l1.4-2.5 1.8-2.3M219.4 121.2l0.9-1.6 2.1-2.8M219.7 120.9l0.5-1 2.6-3.7M219.7 120.7l3.1-4.9M219.4 120.5l0.3-0.5M144.3 120.5l0.3 1 0.7 1.4M161.8 125.6l10.9-1.9 5.9-0.9 6-0.7 7.6-0.5M213.8 119.6l3.4-0.4 2.5 0.1 0.4 0.1 0.2 0.2-0.1 0.3-0.8 0.6" stroke="#06a8c4"/>
<path d="M141.7 116.7l-2.3-3.2M138.6 112.6l-0.4-0.4M141.7 117.2l-2-2.9-1.5-1.8M141.9 117.5l-1.6-2.5-1.5-1.7M142.7 118.2l-1.5-2.4-1.9-2.3M143.5 118.4l-1.2-1.9-1.8-2.3M144.8 119.1l-1.1-2-2.1-2.8M146.1 119.1l-0.8-1.5-2.1-2.8M147.8 119.5l-0.7-1.5-1.9-2.8M149.9 119.9l-0.8-1.6-1.9-2.9M152.1 120.1l-0.7-1.6-1.5-2.4M154.7 120.8l-0.9-2.2-1.5-2.5M157.3 120.7l-0.9-2.1-1-1.9M160.2 121.3l-1-2.7-1-2.1M163.1 121.3l-1-2.9-0.7-1.6M166.1 121.5l-1.4-4.3M169.2 121.4l-1.3-4.4M172.3 121.4l-0.9-4.1M175.4 121.6l-0.7-4.5M178.5 121.6l-0.3-4.1M181.6 121.3l-0.1-4M184.6 121.6l0.3-4.5M187.6 121.3l0.6-3.8M190.6 121.2l0.9-3.8M193.4 121.5l1.3-4.3M196.2 121.3l1.6-4.3M199 121.2l1.9-4.3M201.6 121l2.2-4.4M204.1 120.8l2.5-4.4M206.5 120.6l2.8-4.5M208.7 120.3l3.1-4.5M210.8 120l3.3-4.5M212.7 119.8l3.5-4.6M214.7 119.1l3.4-4.2M216.2 118.9l3.6-4.4M217.5 118.8l3.8-4.5M219 118.3l3.8-4.7M220.2 117.8l3.6-4.4M221.2 117.4l3.7-4.6M221.9 117.1l3.5-4.5M222.4 116.8l2.8-3.9 0.8-0.8M222.8 116.2l2.3-3.3 1.2-1.3M222.8 115.8l2-3M192.2 121.6l11.9-0.8 9.7-1.2M139.4 113.5l0.3 0.8 0.6 0.7 2 1.5 3 1.1 3.8 0.7 4.7 0.3 5.4 0 17.3-1M224.5 113.2l0.7-0.3-0.4-0.1" stroke="#06a4c9"/>
<path d="M138.2 112.2l-4.3-4.8M138.2 112.5l-3.9-4.4M138.8 113.3l-4.2-5M139.3 113.5l-3.7-4.5M140.5 114.2l-3.7-4.6M141.6 114.3l-3.6-4.6M143.2 114.8l-3.3-4.6M145.2 115.2l-3.2-4.6M147.2 115.4l-2.9-4.4M149.9 116.1l-3-4.8M152.3 116.1l-2.3-4M155.4 116.7l-2.5-4.4M158.2 116.5l-2.1-4.1M161.4 116.8l-2-4.3M164.7 117.2l-1.8-4.6M167.9 117l-1.3-3.8M171.4 117.3l-1.1-4.1M174.7 117.1l-0.7-3.9M178.2 117.5l-0.5-4.4M181.5 117.3l-0.1-4.2M184.9 117.1l0.3-4.1M188.2 117.5l0.7-4.6M191.5 117.4l1.1-4.6M194.7 117.2l1.4-4.1M197.8 117l1.8-4.1M200.9 116.9l2.1-4.2M203.8 116.6l2.6-4.3M206.6 116.4l2.9-4.3M209.3 116.1l2.9-4M211.8 115.8l3.2-4M214.1 115.5l3.5-4.1M216.2 115.2l3.8-4.3M218.1 114.9l4-4.3M219.8 114.5l4.3-4.4M221.3 114.3l4.5-4.6M222.8 113.6l4.3-4.2M223.8 113.4l4.5-4.5M224.9 112.8l4.6-4.6M225.4 112.6l4.7-4.8M226 112.1l4.3-4.6M226.3 111.6l4.3-4.9M226.7 110.5l0.4-0.4M176.5 117.6l21.5-1.1 8.9-0.6 9.7-1.2 7.9-1.5" stroke="#06a0cd"/>
<path d="M133.9 107.4l-0.8-0.8-4.4-3.8M134.3 108.1l-0.8-0.9-4.4-3.7M134.6 108.3l-4.7-4.2M135.6 109l-5.1-4.7M136.8 109.6l-4.7-4.5M138 109.7l-4.6-4.4M139.9 110.2l-4.5-4.4M142 110.6l-4.1-4.2M144.3 111l-3.7-4M146.9 111.3l-3.4-3.9M150 112.1l-3.7-4.6M152.9 112.3l-3.1-4.3M156.1 112.4l-2.9-4.2M159.4 112.5l-2.4-3.9M162.9 112.6l-1.9-3.6M166.6 113.2l-1.7-4.2M170.3 113.2l-1.5-4.4M174 113.2l-0.9-3.8M177.7 113.1l-0.5-4M181.4 113.1l0-4M185.2 113l0.3-4M188.9 112.9l0.8-3.9M192.6 112.8l1.3-4M196.1 113.1l1.7-4.2M199.6 112.9l2.1-4.1M203 112.7l2.4-3.9M206.4 112.3l2.6-3.8M209.5 112.1l1-1.5 2.2-2.6M212.2 112.1l1.4-1.8 2.3-2.5M215 111.8l1.5-1.8 2.5-2.5M217.6 111.4l1.5-1.8 3-2.7M220 110.9l1.6-1.6 2.9-2.7M222.1 110.6l1.7-1.7 3.1-2.7M224.1 110.1l1.6-1.6 3.5-2.9M225.8 109.7l1.6-1.6 3.6-3M227.1 109.4l1.7-1.7 3.5-2.9M228.3 108.9l1.6-1.6 3.6-2.9M229.5 108.2l1.2-1.3 4.2-3.3M230.1 107.8l1.1-1.2 4-3.3M230.3 107.5l1.2-1.3 4.4-3.7M231.4 105.9l0.9-0.8M133.1 106.6l0.4 0.6 0.7 0.7 2.3 1.2 3.4 1.1 4.4 0.8 5.4 0.6 6.1 0.3 17.9 0.2 23-0.6 10.6-0.6 6.3-0.6 8-1 5.8-1.2 3.3-1.2 0.5-0.3 0.3-0.4-0.1-0.3" stroke="#079cd0"/>
<path d="M128.7 102.8l-4-3.4-1.5-1M129.1 103.5l-4-3.4-1.9-1.4M129.9 104.1l-3.9-3.4-2-1.3M130.5 104.3l-3.4-3-1.9-1.3M132.1 105.1l-3.5-3.2-1.9-1.3M133.4 105.3l-3-2.8-1.9-1.4M135.4 105.8l-2.8-2.8-1.9-1.4M137.9 106.4l-2.9-2.9-1.8-1.4M140.6 107l-2.8-3-1.9-1.5M143.5 107.4l-2.7-3-1.8-1.5M146.3 107.5l-2.2-2.7-1.4-1.2M149.8 108l-2.2-2.9-1.3-1.2M153.2 108.2l-1.9-2.8-1.2-1.3M157 108.6l-1.8-3-1.1-1.3M161 109l-1.7-3.2-0.7-0.9M164.9 109l-2-4M168.8 108.8l-1.4-3.7M173.1 109.4l-1.2-4.3M177.2 109.1l-0.6-4M181.4 109.1l-0.2-4M185.5 109l0.4-4M189.7 109l0.9-3.9M193.9 108.8l1.3-3.8M197.8 108.9l1.9-4M201.7 108.8l2.3-4.1M205.4 108.8l2.9-4.3M209 108.5l3.4-4.2M212.7 108l3.5-4M215.9 107.8l4-4.1M219 107.5l4.3-4.1M222.1 106.9l4.3-3.9M224.5 106.6l3.8-3.4 1.5-1M226.9 106.2l4-3.4 1.4-1M229.2 105.6l4-3.3 1.4-1M231 105.1l4.1-3.3 1.5-1M232.3 104.8l4.5-3.6 1.5-0.9M233.5 104.4l4.6-3.7 1.4-0.9M234.9 103.6l4.1-3.4 1.5-1M235.2 103.3l4.5-3.7 1.4-0.9M235.9 102.5l4-3.4 1.9-1.3M124.6 99.1l0.1 0.3 0.4 0.7 0.9 0.6 2.6 1.2 4 1.1 2.4 0.5 5.8 0.9 6.8 0.7 11.7 0.7 8.5 0.3 13.5 0.1 13.5-0.2 8.6-0.3 12-0.8 6.9-0.8 6-0.9 6.8-1.4 1.7-0.6 2.2-1 0.7-0.6 0.2-0.5" stroke="#0a96d1"/>
<path d="M236.3 88.6l0.4-0.4M232.6 88.6l1.2-1.3M228.4 88.9l1.9-2.1M224.6 88.7l1.9-2.3M220.2 88.9l2.1-2.8M215.8 89l2.2-3.3M211.6 88.4l1.8-3M207.3 87.9l1.3-2.7M202.7 87.6l1.1-2.6M198.1 87.2l0.8-2.9M193.3 86.4l0.4-1.7M188.5 85.2l0-0.6M183.4 84.7l0-0.6M123.2 98.7l-6.9-4.6M124 99.4l-6.8-4.6M125.2 100l-6.7-4.6M126.7 100.6l-6.3-4.4M128.5 101.1l-6.4-4.5M130.7 101.6l-6.1-4.4M133.2 102.1l-5.6-4.3M135.9 102.5l-5-4M139 102.9l-4.5-3.8M142.7 103.6l-4.8-4.4M146.3 103.9l-4.2-4.2M150.1 104.1l-3.6-3.9M154.1 104.3l-3-3.7M158.6 104.9l-2.7-3.9M162.9 105l-2.4-4.1M167.4 105.1l-1.8-4M171.9 105.1l-1.2-3.8M176.6 105.1l-0.7-3.6M181.2 105.1l-0.1-3.5M185.9 105l0.4-3.5M190.6 105.1l1-3.8M195.2 105l1.5-3.8M199.7 104.9l2.1-4M204 104.7l2.6-3.7M208.3 104.5l3-3.7M212.4 104.3l3.6-4M216.2 104l4.3-4.1M219.9 103.7l4.4-4M223.3 103.4l5-4.2M226.4 103l5.7-4.4M229.8 102.2l5.2-3.9M232.3 101.8l5.8-4.1M234.6 101.3l6.3-4.3M236.6 100.8l6.5-4.4M238.3 100.3l6.8-4.6M239.5 99.8l6.8-4.5M240.5 99.2l6.9-4.5M241.1 98.7l7-4.7" stroke="#0f90d2"/>
<path d="M236.7 88.2l2.6-2.4 3.7-2.9M233.8 87.3l2.1-2.1 3.7-3M230.3 86.8l2-2.1 3.5-3.1M226.5 86.4l1.8-2.2 3.4-3.3M222.3 86.1l1.8-2.4 2.8-3.1M218 85.7l1.6-2.4 2.6-3.2M213.4 85.4l1.5-2.5 2.4-3.4M208.6 85.2l1.4-2.6 1.8-3M203.8 85l1.1-2.7 1.5-3.2M198.9 84.3l2-5.5M193.7 84.7l1.5-6.1M188.5 84.6l0.8-5.7M183.4 84.1l0.1-5.3M178.1 83.5l-0.4-4.7M172.7 82.9l-0.8-4M167.1 81.9l-1-3.3M161.4 81.1l-0.9-2.1M156.1 81.3l-1.1-2M151 81.7l-1.2-2M146.5 82.5l-2.1-2.7M142.3 83.3l-2.7-3M138.7 84.7l-3.7-3.9M134.6 85.1l-3.8-3.7M131.3 86l-1.2-1.3-3.7-3M127.5 86.1l-4.6-3.7M124.4 86.6l-4.7-3.5M120.8 86.5l-3.9-2.7M117.4 86.5l-3.4-2.2M114.4 86.5l-2.5-1.5M111.3 86.4l-1-0.6M116.3 94.1l-3-2-4.6-2.5M117.2 94.8l-2.9-2-4.7-2.5M118.5 95.4l-2.8-1.9-4.8-2.6M120.4 96.2l-2.9-2-4.6-2.5M122.1 96.6l-2.4-1.8-4.1-2.2M124.6 97.2l-2.3-1.8-4.2-2.3M127.6 97.8l-2.4-1.8-4.1-2.3M130.9 98.5l-2.3-1.9-3.5-2.1M134.5 99.1l-2.3-2-3.5-2.2M137.9 99.2l-1.7-1.6-3.4-2.3M142.1 99.7l-1.7-1.6-2.9-2.2M146.5 100.2l-1.6-1.7-2.7-2.2M151.1 100.6l-1.5-1.8-2.1-2M155.9 101l-1.4-1.9-2-2.2M160.5 100.9l-0.9-1.5-1.7-2.3M165.6 101.1l-0.7-1.6-1.2-2M170.7 101.3l-1.4-3.8M175.9 101.5l-0.8-4.1M181.1 101.6l-0.1-4.1M186.3 101.5l0.6-4M191.6 101.3l1.1-3.7M196.7 101.2l1.7-3.6M201.8 100.9l0.9-1.5 1.3-1.9M206.6 101l1.2-1.8 1.6-1.8M211.3 100.8l1.5-1.9 2.1-2M216 100.3l1.6-1.7 2.2-1.9M220.5 99.9l1.7-1.7 2.9-2.2M224.3 99.7l2.3-1.9 2.9-2M228.3 99.2l2.3-1.9 3.5-2.2M232.1 98.6l2.3-1.8 3.6-2.2M235 98.3l2.9-2.1 3.5-2M238.1 97.7l2.9-2 4.1-2.3M240.9 97l2.8-1.9 4.2-2.3M243.1 96.4l3-2 4.2-2.2M245.1 95.7l3-1.9 4.2-2.2M246.3 95.3l3.4-2.2 4.6-2.5M247.4 94.7l3.4-2.3 4.8-2.5M248.1 94l3.5-2.3 1.5-0.8M254.1 90.4l2.1-1.2M252.3 86.2l1-0.6M248 87l3.5-2.2M244.4 87.4l4.9-3.4M240.4 88l1.8-1.6 4.3-3.1M239.3 85.8l-7-1.1-8.2-1-9.2-0.8-10-0.6-10.6-0.4-10.9-0.1-17.4 0.2M146.3 83l-8.4 0.8-7.8 0.9-6.6 1.2-3.2 0.7M113.3 92.1l1 0.7 1.4 0.7 1.8 0.7 4.8 1.2 6.3 1.2 7.6 1 8.7 0.9 9.6 0.6 10.4 0.4 16.2 0.3 16.3-0.2 10.4-0.4 9.8-0.6 9-0.8 7.8-1 9.3-1.7 4.4-1.3 2.7-1.4 0.8-0.7M245.9 87.3l-6.6-1.5" stroke="#138ad3"/>
<path d="M243 82.9l7-5.3M239.6 82.2l6.8-5.5M235.8 81.6l6.1-5.5M231.7 80.9l5.4-5.2M226.9 80.6l5.3-5.7M222.2 80.1l4.6-5.6M217.3 79.5l3.7-5.3M211.8 79.6l3.6-6.1M206.4 79.1l2.8-5.8M200.9 78.8l2-5.6M195.2 78.6l1.4-5.6M189.3 78.9l0.8-5.8M183.5 78.8l0.1-5.8M177.7 78.8l-0.6-5.8M171.9 78.9l-1.2-5.8M166.1 78.6l-1.8-5.5M160.5 79l-2.6-5.9M155 79.3l-3.3-6M149.8 79.7l-3.9-5.7M144.4 79.8l-4.3-5.6M139.6 80.3l-5.1-5.7M135 80.8l-5.3-5.4M130.8 81.4l-6.1-5.6M126.4 81.7l-6.3-5.4M122.9 82.4l-7.1-5.5M119.7 83.1l-7.2-5.3M116.9 83.8l-7.8-5.3M114 84.3l-7.9-5.2M111.9 85l-8.1-5.1M110.3 85.8l-8.1-4.8M108 85.9l-7.1-4.1M104.7 85.2l-5.2-2.9M102.2 84.9l-3.1-1.7M99.8 84.3l-0.5-0.3M108.7 89.6l-8.8-4.7M109.6 90.3l-8.4-4.5M110.9 90.9l-7.9-4.2M112.9 91.7l-7.7-4.2M115.6 92.6l-7.7-4.2M118.1 93.1l-7.3-4.1M121.1 93.7l-6.6-3.9M125.1 94.5l-7.1-4.3M128.7 94.9l-6.1-3.9M132.8 95.3l-5.3-3.6M137.5 95.9l-5.2-3.8M142.2 96.3l-4.4-3.7M147.5 96.8l-4.3-3.9M152.5 96.9l-3.2-3.4M157.9 97.1l-2.8-3.7M163.7 97.5l-2.2-3.6M169.3 97.5l-1.3-3.2M175.1 97.4l-0.8-3.4M181 97.5l-0.2-3.5M186.9 97.5l0.5-3.5M192.7 97.6l1.1-3.3M198.4 97.6l1.9-3.6M204 97.5l2.6-3.8M209.4 97.4l3.5-4.1M214.9 96.9l3.8-3.7M219.8 96.7l4.4-3.7M225.1 96l4.7-3.6M229.5 95.8l5.8-4.1M234.1 95.1l5.8-3.8M238 94.6l6.5-4M241.4 94.2l7-4.1M245.1 93.4l7.2-4.1M247.9 92.8l7.8-4.3M250.3 92.2l7.8-4.2M252.3 91.6l8.3-4.5M254.3 90.6l8.3-4.3M255.6 89.9l8.4-4.5M256.2 89.2l0.5-0.2M257.8 88.4l1-0.5M259.8 87.3l2.6-1.4M264 85.1l1-0.6M263.7 83.7l1.5-0.8M259.9 84.7l4.7-2.7M255.8 85.7l7.6-4.5M253.3 85.6l8.4-5.2M251.5 84.8l8-5.1M249.3 84l7.4-5M246.5 83.3l7.1-5.1" stroke="#1484d4"/>
<path d="M250 77.6l4.2-3.2 3.8-2.3M246.4 76.7l3.6-3 3.7-2.5M241.9 76.1l3.5-3.1 3.6-2.6M237.1 75.7l3.3-3.3 3.2-2.5M232.2 74.9l2.9-3.1 3.1-2.7M226.8 74.5l2.6-3.2 2.5-2.5M221 74.2l2.4-3.3 2.3-2.7M215.4 73.5l1.8-3 2.1-2.9M209.2 73.3l1.6-3.2 1.5-2.5M202.9 73.2l1.3-3.3 1.2-2.7M196.6 73l1.7-6.2M190.1 73.1l1-6.5M183.6 73l0.2-6.4M177.1 73l-0.6-6.5M170.7 73.1l-1.5-6.4M164.3 73.1l-1.1-3.4-1.1-2.7M157.9 73.1l-1.4-3.1-1.4-2.6M151.7 73.3l-1.7-3-1.7-2.5M145.9 74l-2.2-3.4-2.2-2.7M140.1 74.2l-2.5-3.2-2.6-2.8M134.5 74.6l-2.7-3.1-2.8-2.6M129.7 75.4l-3.4-3.4-2.9-2.4M124.7 75.8l-3.5-3.2-3.4-2.5M120.1 76.3l-3.7-3-3.4-2.3M115.8 76.9l-3.7-2.9-4-2.5M112.5 77.8l-4.3-3.1-4-2.3M109.1 78.5l-4.4-3-4.1-2.3M106.1 79.1l-4.4-2.8-4.2-2.2M103.8 79.9l-4.6-2.8-4.3-2.1M102.2 81l-5-3-4.8-2.3M100.9 81.8l-5.1-3-4.9-2.1M99.5 82.3l-4.7-2.6-4.9-2.1M99.1 83.2l-4.7-2.6-4.9-2.1M99.3 84l-4.7-2.5-5-2.1M99.9 84.9l-4.6-2.5-5-2M101.2 85.8l-4.7-2.5-4.4-1.8M103 86.7l-4.7-2.5-4.9-2M105.2 87.5l-4.6-2.5-4.3-1.7M107.9 88.4l-4.6-2.6-4.1-1.7M110.8 89l-4.2-2.4-4.2-1.7M114.5 89.8l-4.2-2.4-4.2-1.8M118 90.2l-3.5-2.1-3.6-1.6M122.6 91l-3.5-2.2-3.4-1.6M127.5 91.7l-3.4-2.3-3-1.5M132.3 92.1l-2.9-2.2-3.1-1.6M137.8 92.6l-2.7-2.1-2.5-1.5M143.2 92.9l-2.1-2-2.5-1.6M149.3 93.5l-2-2.2-1.9-1.4M155.1 93.4l-1.4-1.8-1.7-1.5M161.5 93.9l-1.2-2-1.5-1.8M168 94.3l-0.9-2.2-0.9-1.5M174.3 94l-1-3.5M180.8 94l-0.1-3.5M187.4 94l0.6-3.4M193.8 94.3l0.7-2.1 0.8-1.6M200.3 94l1-2 1-1.4M206.6 93.7l1.4-1.9 1.6-1.7M212.9 93.3l1.6-1.8 1.7-1.4M218.7 93.2l2.1-2.1 2.4-1.6M224.2 93l2.7-2.3 2.4-1.5M229.8 92.4l2.9-2.2 2.6-1.4M235.3 91.7l2.9-2 3.2-1.6M239.9 91.3l3.4-2.2 3.2-1.5M244.5 90.6l3.6-2.1 3.6-1.7M248.4 90.1l4-2.3 3.7-1.6M252.3 89.3l4-2.2 3.9-1.6M255.7 88.5l4.1-2.2 4.4-1.8M258.1 88l4.7-2.5 4.4-1.8M260.6 87.1l4.7-2.5 4.4-1.7M262.6 86.3l4.7-2.5 4.4-1.8M264 85.4l4.7-2.5M269.8 82.5l0.6-0.2M271.5 81.8l0.5-0.2M273.1 81.2l0.6-0.3M265 84.5l1-0.5M269.2 82.3l5.4-2.3M267.5 82.6l2.6-1.4 4.9-2.1M265.2 82.9l4.7-2.6 4.9-2.1M264.6 82l4.6-2.6 4.8-2.2M263.4 81.2l4.6-2.7 4.8-2.2M261.7 80.4l4.5-2.8 4.9-2.3M259.5 79.7l4.4-2.9 4.3-2.1M256.7 79l4.5-3 4.1-2.3M253.6 78.2l4.3-3 4.3-2.5M254.2 74.4l-8.8-1.4-5-0.6-11-1.1-12.2-0.8-13-0.6-13.6-0.3-13.8-0.1-13.6 0.2-13.2 0.6-12.4 0.7-16.4 1.6-9.1 1.4-7.4 1.5-5.5 1.6-2 0.9-1.4 0.8-1 0.9-0.4 0.9 0.2 0.9 0.7 0.9 1.2 0.9 1.8 0.9 2.3 0.8 6 1.6 7.9 1.5 9.6 1.3 11 1.1 12.2 0.8 13 0.6 20.5 0.4 20.5-0.3 13.2-0.5 12.4-0.8 11.3-1 9.9-1.2 8.2-1.4 6.5-1.6 2.5-0.9 2-0.8 1.4-0.9M269.7 82l0.4-0.8-0.2-0.9-0.7-0.9-1.2-0.9-1.8-0.9-2.3-0.8-2.7-0.8-7-1.6" stroke="#137fd6"/>
<path d="M258 72.1l1.4-0.9M253.7 71.2l1.4-0.9M249 70.4l1.8-1.3M243.6 69.9l2.8-2.2M238.2 69.1l3.6-3.2M231.9 68.8l5.1-5M225.7 68.2l5.4-6.1M219.3 67.6l4.2-5.6M212.3 67.6l3.6-6M205.4 67.2l2.9-6.4M198.3 66.8l2-6.2M191.1 66.6l1-5.9M183.8 66.6l0.2-5.9M176.5 66.5l-0.7-5.9M169.2 66.7l-1.4-5.8M162.1 67l-2-5M155.1 67.4l-1.9-3.6M148.3 67.8l-1.6-2.5M141.5 67.9l-1.1-1.4M135 68.2l-0.8-0.8M129 68.9l-0.8-0.8M123.4 69.6l-1.3-1.1M117.8 70.1l-1.9-1.4M113 71l-3.4-2.3M108.1 71.5l-5-3.2M104.2 72.4l-8-4.7M100.6 73.2l-10.2-5.6M97.5 74.1l-10.4-5.4M94.9 75l-10.6-5.2M92.4 75.7l-10.8-5.1M90.9 76.7l-10.7-4.9M89.9 77.6l-10.8-4.8M89.5 78.5l-11-4.7M89.6 79.4l-11-4.6M90.3 80.4l-11.1-4.6M92.1 81.5l-9.4-3.8M93.4 82.2l-5.9-2.4M96.3 83.3l-4.2-1.7M99.2 84.1l-2.7-1.1M102.4 84.9l-1.6-0.7M106.1 85.6l-1-0.5M110.9 86.5l-1.5-0.7M115.7 87.2l-2-1M121.1 87.9l-3-1.5M126.3 88.3l-3.6-1.9M132.6 89l-5.1-3M138.6 89.3l-4.9-3.3M145.4 89.9l-4.8-3.7M152 90.1l-3.8-3.6M158.8 90.1l-2.5-3M166.2 90.6l-2.1-3.6M173.3 90.5l-1.1-3.4M180.7 90.5l-0.2-3M188 90.6l0.7-3.3M195.3 90.6l1.5-3.2M202.3 90.6l2.1-2.8M209.6 90.1l1.7-1.7M216.2 90.1l1.6-1.3M223.2 89.5l0.9-0.7M229.3 89.2l1-0.6M235.3 88.8l1-0.6M241.4 88.1l1-0.6M246.5 87.6l2.1-1M251.7 86.8l3.2-1.4M256.1 86.2l5.3-2.3M260.2 85.5l8.1-3.4M264.2 84.5l9.8-4M267.2 83.7l10.4-4.2M269.7 82.9l10.5-4.2M271.7 82l10.9-4.4M273.7 80.9l10.9-4.4M274.6 80l11.1-4.5M275 79.1l11-4.7M274.8 78.2l11.3-4.9M274 77.2l10.8-4.8M272.8 76.3l9-4.2M271.1 75.3l5.9-2.8M268.2 74.7l4.2-2.2M265.3 73.7l2.7-1.4M262.2 72.7l1.5-0.8" stroke="#117bd9"/>
<path d="M231.1 62.1l0.7-0.9M223.5 62l2.7-3.8M215.9 61.6l3.9-6.6M208.3 60.8l2.7-5.8M200.3 60.6l1.8-5.7M192.1 60.7l1.2-6.5M184 60.7l0.2-6.4M175.8 60.6l-0.4-3.6M167.8 60.9l-0.3-1.2M90.4 67.6l-1.6-0.8M87.1 68.7l-6.2-3.2M84.3 69.8l-10.6-5.2M81.6 70.6l-10.7-5M80.2 71.8l-11.3-5.1M79.1 72.8l-11.4-5M78.5 73.8l-11.1-4.7M78.6 74.8l-6.7-2.7M79.2 75.8l-1.7-0.7M133.7 86l-1-0.6M140.6 86.2l-2.3-1.8M148.2 86.5l-3.4-3.1M156.3 87.1l-3-3.6M164.1 87l-1.8-3.1M172.2 87.1l-0.9-2.9M180.5 87.5l-0.2-3.6M188.7 87.3l0.4-1.7M196.8 87.4l0.2-0.5M274 80.5l1.7-0.7M277.6 79.5l6-2.4M280.2 78.7l10.5-4.3M282.6 77.6l11-4.4M284.6 76.5l10.9-4.4M285.7 75.5l11-4.6M286 74.4l11.1-4.6M286.1 73.3l6.5-2.8M284.8 72.4l2.2-0.9" stroke="#0e76dc"/>
<path d="M219.8 55l0.3-0.5M211 55l0.9-2.1 1.3-2.2M202.1 54.9l0.7-2.3 1.8-4.4M193.3 54.2l0.7-3.9M184.2 54.3l0-0.6M73.7 64.6l-1.6-0.8M70.9 65.6l-3.8-1.8-4.8-1.6M68.9 66.7l-3.8-1.7-10.1-3.3M67.7 67.8l-3.8-1.6-5-1.6M67.4 69.1l-1.6-0.7M144.8 83.4l-0.4-0.4M153.3 83.5l-0.7-0.8-1.3-0.9M162.3 83.9l-0.6-1-2.1-2M171.3 84.2l-0.4-1.1-0.4-0.8M290.7 74.4l1.7-0.6M293.6 73.2l3.8-1.5 4.8-1.3M295.5 72.1l3.9-1.6 10.1-2.8M296.7 70.9l3.9-1.6 5-1.4M297.1 69.8l1.6-0.7M217.8 53.1l-15-0.5-15.4-0.2M68.9 63l-1.8 0.8-2 1.2-1.2 1.2-0.4 0.8M146.7 82.4l15 0.5 15.4 0.2M295.6 72.5l1.8-0.8 2-1.2 1.2-1.2 0.4-0.8" stroke="#0971de"/>
<path d="M204.6 48.2l0.7-1.7M55 61.7l-4-1.3M159.6 80.9l-0.4-0.4M309.5 67.7l4-1.1" stroke="#046ce0"/>
</g>
<path d="M167.2 172.7l0.4-0.1 0.4-0.3 0.5-0.4 0.4-0.5 0.5-0.6 0.5-0.7 0.5-0.8 0.5-0.9 0.6-1 0.5-1 0.6-1.1 0.5-1.2 0.6-1.1 0.6-1.2 0.6-1.2 0.6-1.1 0.6-1.2 0.7-1.1 0.6-1.1 0.6-1 0.7-1 0.6-0.9 0.7-0.8 0.6-0.8 0.7-0.7 0.6-0.7 0.7-0.6 0.6-0.5 0.7-0.4 0.7-0.4 0.6-0.3 0.7-0.3 0.6-0.2 0.6-0.2 0.7-0.1 0.6-0.1 0.6-0.1 0.6-0.1 0.6-0.1 0.6 0 0.6-0.1 0.6 0 0.5-0.1 0.6 0 0.5-0.1 0.5 0 0.5-0.1 0.5 0 0.5-0.1 0.4 0 0.5 0 0.4 0 0.4 0 0.4 0.1 0.4 0.1 0.3 0.1 0.3 0.2 0.3 0.2 0.3 0.3 0.3 0.4 0.2 0.4 0.3 0.5 0.2 0.5 0.2 0.7 0.1 0.7 0.2 0.8 0.1 0.8 0.1 0.9 0 1 0.1 1 0 1.1 0 1.1 0 1.1-0.1 1.1 0 1.1-0.1 1.1-0.2 1.1-0.1 1.1-0.1 1-0.2 0.9-0.2 0.9-0.3 0.8-0.2 0.7-0.3 0.6-0.3 0.5-0.3 0.3-0.3 0.3-0.4 0.1-0.3 0-0.4-0.1-0.4-0.3-0.4-0.4" stroke="#1422ee" stroke-width="1.4" stroke-dasharray="1.4 0.9" fill="none"/>
<path d="M51 14.9l0 173.4 108.2 20.1 154.3-13.9M47.7 188.8l3.3-0.5M47.7 166.5l3.3-0.5M47.7 144.2l3.3-0.4M47.7 122l3.3-0.5M47.7 99.7l3.3-0.4M47.7 77.4l3.3-0.4M47.7 55.2l3.3-0.5M47.7 32.9l3.3-0.4M51 188.3l0 4.4M105.1 198.4l0 4.4M159.2 208.4l0 4.4M236.4 201.4l0 4.4M313.5 194.5l0 4.4" stroke="#303030" stroke-width="0.9" fill="none"/>
<g class="tk"><text x="44.4" y="189.5" text-anchor="end">-2</text><text x="44.4" y="167.2" text-anchor="end">-1</text><text x="44.4" y="145" text-anchor="end">0</text><text x="44.4" y="122.7" text-anchor="end">1</text><text x="44.4" y="100.5" text-anchor="end">2</text><text x="44.4" y="78.2" text-anchor="end">3</text><text x="44.4" y="55.9" text-anchor="end">4</text><text x="44.4" y="33.7" text-anchor="end">5</text><text x="49" y="200.3" text-anchor="middle">5</text><text x="102.9" y="210.4" text-anchor="middle">0</text><text x="107.7" y="221" text-anchor="middle" class="al">Im(ζ)</text><text x="159.6" y="220.8" text-anchor="middle">-5-5</text><text x="237.8" y="213.3" text-anchor="middle">0</text><text x="222.9" y="221.6" text-anchor="middle" class="al">Re(ζ)</text><text x="315.1" y="206.1" text-anchor="middle">5</text><text transform="translate(36 98.5) rotate(-90)" text-anchor="middle" class="zl" textLength="74.5" lengthAdjust="spacingAndGlyphs">F(ζ)=2πJ R(ζ,ζ)-K(ζ); J=1</text></g>
<text class="cap" x="171.1" y="249" text-anchor="middle">(a) <tspan class="it">F</tspan>(<tspan class="it">ζ</tspan>; 1)</text></g>
<g><path d="M360.4 188.6l153.9-13.9M514.3 174.7l107.1 19.7M360.4 163.4l104.1-9.4M518.7 150.3l102.7 18.9M360.4 138.2l91.6-8.3M531.1 127.3l90.3 16.7M360.4 112.9l68.2-6.1M553.8 106.3l67.6 12.4M360.4 87.7l29.9-2.7M586.9 87.2l34.5 6.3M360.4 62.5l153.9-13.9M514.3 48.6l107.1 19.7M360.4 37.3l153.9-13.9M514.3 23.4l107.1 19.7M437.4 181.6l0-68M437.4 76.6l0-67.5M567.8 184.6l0-87.6M567.8 79.5l0-67.5M514.3 174.7l0-15M514.3 52.7l0-50.5M621.4 194.4l0-172.5M544.4 201.4l-107-19.8M414 198.4l153.8-13.8M360.4 188.6l153.9-13.9M514.3 174.7l107.1 19.7" stroke="#dcdcdc" stroke-width="0.8" fill="none"/>
<path d="M509.8 189.8l-4.4-0.4-4.3-0.1-6.5 1.3-3.8-0.1-3.8 0.2-2.9 0.4-0.7 0.3 0 0.3-11.8 0.3-0.9 0.2-0.4 0.3 0.2 0.2 0.7 0.3 2.4 0.4 3.6 0.3 3.5 0 6.5-1.3 3.3 0.1 3.6-0.1 3.4-0.4 0.8-0.4 0.2-0.1-0.1-0.2 11.8-0.3 0.9-0.2 0.4-0.3-0.3-0.3-1.4-0.4M502.3 190.5l-2.1-0.5-0.9-0.3M474.9 191.9l4.6 0.6 2.1 0.5 0.9 0.3M506.9 191.1l-4.6-0.6M497.1 190.9l-2.3-0.2M483.5 191.7l1.2 0.4 2.3 0.2M498.3 191.3l-1.2-0.4" stroke="#33b8a1" stroke-width="0.95" fill="none"/>
<path d="M518.3 189l-6.6-0.8-9.4-0.5-10.8 0-10.9 0.3-7.9 0.6-6.8 1-3.1 0.7-2 0.6-1.4 0.7-0.3 0.6 0.2 0.4 0.8 0.4 2.8 0.8 3.6 0.6 5.6 0.5 6.3 0.4 6.6 0.1 8.4-0.1 7.8-0.3 6.3-0.5 5.2-0.6 4.8-0.8 3.2-0.9 1.7-0.8 0.3-0.4-0.1-0.5-0.6-0.4-1-0.4-2.7-0.7" stroke="#7fbf7a" stroke-width="0.95" fill="none"/>
<path d="M532.6 187.7l-4.5-0.7-6.6-0.7-6-0.5-8.1-0.4-15.5-0.3-15.5 0.3-8.1 0.4-6 0.4-5.4 0.6-5.9 0.8-4.7 1-3.3 1-1.4 0.7-0.6 0.4-0.4 0.5-0.1 0.4 0.1 0.5 0.3 0.4 1 0.7 1.6 0.7 2.1 0.6 5.7 1.1 9 1.1 9.1 0.7 11.8 0.4 12.2 0.1 12-0.3 11.1-0.6 8.4-0.8 7.9-1.2 2.7-0.6 2.8-0.8 1.9-0.9 0.8-0.7 0.3-0.4 0-0.5-0.4-0.6-1.5-0.9-1.7-0.7-5.1-1.2" stroke="#c1bc60" stroke-width="0.95" fill="none"/>
<path d="M561 185.2l-7.5-1.2-11-1.3-10-0.8-13.6-0.8-11.5-0.4-14.8-0.2-14.8 0.2-11.6 0.3-13.8 0.7-10.3 0.8-9.3 1-9.9 1.4-8 1.7-2.5 0.6-3.1 1.1-2.2 1.1-0.9 0.8-0.6 0.8-0.1 0.7 0.3 0.8 0.7 0.8 1.8 1.1 2.8 1.1 3.6 1 4.4 1 5.3 0.9 5.9 0.9 9 1 15.3 1.2 8.3 0.4 11.5 0.4 8.8 0.1 11.9 0.1 11.9-0.2 8.6-0.3 11.2-0.6 7.9-0.5 14.3-1.4 6.2-0.8 7.2-1.3 4.5-1 4.7-1.4 1.7-0.7 1.4-0.7 1.2-1.2 0.4-0.7-0.1-0.8-0.5-0.8-0.4-0.4-1.1-0.7-1.6-0.7-3-1.1-3.9-1.1-4.7-0.9" stroke="#f8ba45" stroke-width="0.95" fill="none"/>
<g class="m">
<path d="M491.6 170.2l1.3-0.5M504.6 168.8l0.8 0.9 0.9 0.3 0.9-0.5M491.6 170.2l0.4-0.2M503.8 168.6l0.8 0.8 0.8 0.2 0.4-0.2M491.5 170.2l0.4-0.2M503.3 168.4l0.4 0.4 0.3 0.1M491.5 170.2l0.3-0.2M491.4 170.2l0.3-0.2M491.4 170.2l0.3-0.2M491.3 170.2l0.3-0.2M490.5 170.2l-0.3-0.2M490.4 170.2l-0.3-0.2M490.3 170.2l-0.3-0.2M490.3 170.2l-0.4-0.2M490.3 170.2l-0.4-0.2M490.2 170.2l-1.2-0.6M490.2 170.2l-1.8-0.8M490.1 170.2l-1.8-0.7M490.1 170.2l-1.9-0.7M490.1 170.2l-2-0.7M490.1 170.2l-2.1-0.7M490 170.2l-2-0.6M490 170.2l-2.1-0.6M490 170.3l-2.1-0.7M490 170.3l-2.1-0.6M490 170.3l-2-0.6M490.1 170.3l-2.1-0.6M490.1 170.3l-2-0.6M490.1 170.3l-2-0.5M490.1 170.3l-1.9-0.5M474 171.7l-1-0.4-0.7-0.8M490.2 170.3l-1.9-0.5M474.7 172.4l-0.9-0.3-1.1-1.3M490.2 170.3l-1.7-0.4M476.4 172.3l-0.9 0.5-0.9-0.3-1-1.3M490.2 170.3l-1.6-0.4M477.5 172l-0.3 0.3-0.8 0.4-0.9-0.3-0.9-1.2M490.3 170.3l-1.5-0.4M478.6 171.3l-0.5 0.6-0.7 0.4-0.8-0.3-0.6-0.8M490.3 170.3l-1.4-0.4M478.4 171.6l-0.3-0.2M490.4 170.3l-1.3-0.4M490.4 170.4l-1.1-0.4M490.5 170.4l-1-0.4M490.6 170.4l-0.9-0.4M490.6 170.4l-0.7-0.4M490.7 170.4l-0.6-0.4M490.7 170.4l-0.3-0.4M490.8 170.4l-0.2-0.4M490.9 170.4l-0.1-0.4M491 170.4l0.1-0.4M491 170.4l0.3-0.4M491.1 170.4l0.4-0.4M491.2 170.4l0.6-0.4M491.2 170.4l0.8-0.4M491.3 170.4l0.9-0.4M491.3 170.4l1.1-0.4M491.4 170.3l1.2-0.4M491.5 170.3l1.3-0.4M491.5 170.3l1.5-0.4M491.5 170.3l1.6-0.4M491.6 170.3l1.7-0.4M491.6 170.3l1.8-0.5M491.7 170.3l1.8-0.5M491.7 170.3l1.9-0.5M491.7 170.3l2-0.5M491.7 170.3l2.1-0.6M491.8 170.3l2-0.6M491.8 170.3l2.1-0.6M491.8 170.3l2.1-0.7M491.8 170.2l2.1-0.6M491.8 170.2l2-0.6M491.7 170.2l2.1-0.6M491.7 170.2l2-0.7M491.7 170.2l2-0.7M508.4 168.9l0.5-0.3M491.7 170.2l1.9-0.7M506.2 168.8l0.6 0.6 1 0.2 1-0.5 0.5-0.7M491.6 170.2l1.9-0.8M505.3 168.8l0.9 0.9 0.9 0.3 0.9-0.5 1.1-1.5M491.6 170.2l-1.6 0.1 1.2 0.1 0.5-0.1-0.1-0.1M489.4 169.9l-0.4 0.1 0.2 0.1 1.7 0.2 1.7-0.2 0.2-0.1-0.3-0.1M504.6 168.8l-1.3-0.5M505.3 168.8l-0.7 0M505.4 169.7l-0.8-0.3-1.9-1.5M476.4 172.3l0.8 0 0.9-0.4 1-0.6M507.1 169l-0.9 0.7-0.8 0M506.3 170l-1.4-0.7M503.7 168.3l-0.7-0.8M474 171.7l0.7 0.7 0.8 0.4 0.9-0.1 1-0.4 1.4-1.1M508.4 168.9l-0.6 0.7-0.7 0.4-0.8 0M472.8 171l1 1.1 0.8 0.4 0.9-0.1 1.1-0.4 0.7-0.5M509.1 168.7l-0.3 0.4-0.8 0.4-0.8 0" stroke="#48bb94"/>
<path d="M501.1 163.9l0.9 0.9 2.6 4M500.8 164.1l0.5 0.6 2.5 3.9M500.3 164l3 4.4M500.1 164.3l1.9 2.9 0.7 0.7 0.7 0.1M500 164.9l1 1.3 0.6 0.5 0.3 0M499.6 164.7l0.9 0.7M488.2 169.5l-0.5-0.3M488.1 169.5l-0.5-0.3M486.8 168.7l-0.4-0.3M488 169.5l-2-1.3-1.7-1.5M488 169.6l-2.1-1.3-1.7-1.5M487.9 169.6l-2.1-1.3-1.7-1.4M487.9 169.6l-2.1-1.2-1.7-1.5M487.9 169.7l-2.1-1.3-2.1-1.7M488 169.7l-2.1-1.2-2.1-1.7M488 169.7l-2.1-1.2-2.4-2M488.1 169.7l-2.1-1.1-2.3-2M471.3 168.1l-0.6-0.6-1.4-2.4M488.1 169.8l-1.9-1.2-2.6-2.2M472.4 170.2l-1.2-1.3-2-3.8M488.2 169.8l-1.9-1.1-2.5-2.2M472.3 170.5l-1.7-2.8-1-2.4M488.3 169.8l-1.8-1.1-2.7-2.4M472.7 170.8l-1.3-2.3-1.2-3M488.5 169.9l-1.8-1.1-2.6-2.5M473.6 171.2l-1.2-2.3-1.2-3M488.6 169.9l-1.6-1.1-2.9-2.8M474.6 171.2l-1.1-2.3-1.1-3M488.8 169.9l-1.6-1.1-3-3.1M478.9 171l-0.3 0.3M476 171.2l-1.4-2.8-0.7-2.2M488.9 169.9l-1.4-1-2.8-3.1M480.1 170l-1 1.3-0.7 0.3M478.1 171.4l-0.4-0.2-0.8-1.3-1.3-3.3M489.1 169.9l-1.3-1-2.8-3.3M481.5 168.6l-0.7 1-0.6 0.7-0.6 0.2-0.7-0.4-0.8-1.3-0.8-2.2M489.3 170l-1.1-1.1-2.3-3.1-0.6-0.5M482.8 167.3l-0.9 1.4-0.6 0.5-0.5 0.1-0.6-0.5-1.1-2.4M489.5 170l-1-1-2.5-3.8M484 166.1l-1 1.5-0.5 0.4-0.5-0.1-0.5-0.6-0.4-0.9M489.7 170l-0.8-1-1.9-3.5M484.2 166.5l-0.4 0.1-0.4-0.1M489.9 170l-0.7-1-1.5-3.5M490.1 170l-0.8-1.7-0.9-2.9M490.4 170l-0.6-1.7-0.6-2.9M490.6 170l-0.7-4.7M490.8 170l-0.1-4.7M491.1 170l0.4-4.7M491.3 170l0.4-1.7 0.5-3.1M491.5 170l0.7-1.7 0.8-3.1M491.8 170l0.9-1.7 1-3.1M492 170l1.1-1.7 1.4-3.2M492.2 170l1.4-1.7 1.6-3.2M492.4 170l1.6-1.8 1.9-3.2M492.6 169.9l0.6-0.4 1.2-1.3 2.1-3.2M492.8 169.9l0.7-0.4 1.3-1.3 2.3-3.3M493 169.9l0.7-0.4 1.4-1.4 2.5-3.1M493.1 169.9l0.8-0.5 1.6-1.3 2.6-3.1M493.3 169.9l0.8-0.5 1.7-1.4 2.8-3.1M493.4 169.8l0.9-0.4 1.8-1.4 2.9-3.2M493.5 169.8l0.9-0.5 1.9-1.4 3.1-3.2M493.6 169.8l1-0.5 1.9-1.4 3.2-3.2M493.7 169.8l1-0.5 2-1.5 3.3-3.2M493.8 169.7l1-0.5 2-1.5 3.4-3.1M493.8 169.7l1.1-0.5 2-1.5 3.5-3.2M493.9 169.7l1-0.6 2.1-1.5 3.5-3.1M493.9 169.6l2.1-1.2 4.9-4.3M493.9 169.6l2.1-1.3 4.9-4.2M507.5 164.3l1.1 0.1 1-0.3M493.8 169.6l2.1-1.3 4.9-4.2M505.3 164.2l2.1 1.2 1 0.2 1.1-0.2 1.1-0.7 0.6-0.8M493.8 169.6l2.1-1.4 4.8-4.1M504.1 164l3.1 2.4 1 0.4 1-0.1 1.1-0.6 1.2-1.5 0.6-1M493.7 169.5l2.1-1.3 4-3.7 1-0.7M503.3 164.1l0.5 0.3 3 2.9 1 0.6 1 0 1.1-0.6 1.2-1.4 1.4-2.5M493.7 169.5l0.5-0.3M495 168.6l0.3-0.2M502.5 163.9l1 0.7 2.9 3.4 1 0.7 1 0.2M508.9 168.6l0.5-0.3 1.2-1.4 2-4M501.6 163.8l0.5 0.2 0.9 0.8 3.2 4M509.3 168.4l0.6-0.8 1.7-3.5M501.2 163.8l0.4 0.2 0.9 0.9 2.8 3.9M488.4 169.4l-0.5 0.2 0.4 0.2 2.5 0.2 2.6-0.2 0.5-0.2-0.4-0.2M487 169l-0.1 0.1 0.1 0.1 0.6 0.2 3.2 0.2 3.3-0.2 0.8-0.2 0-0.1-0.1-0.2M486 168.2l-0.2 0.2 0.1 0.1 0.8 0.3 4.1 0.2 4.1-0.2 1-0.3 0.1-0.2-0.2-0.1M485 167.4l-0.2 0.1 0.1 0.2 1 0.3 4.9 0.3 5-0.3 1.1-0.3 0.1-0.2-0.2-0.2M483.7 166.7l0.7 0.4 1.7 0.2 5.8 0.2 5-0.4 1.1-0.4 0.1-0.1-0.3-0.2M483.8 166.3l3.8 0.3 6.9-0.1 3.9-0.5 0.7-0.3-0.3-0.3M484.2 165.7l3.7 0.1 7.7-0.3 3.8-0.5 0.8-0.3-0.4-0.2M501.1 163.9l-0.3 0M502.5 163.9l-1.4 0M502 164.8l-1.8-0.6M504.1 164l-0.6 0.6-0.5 0.2-1 0M502.8 166.1l-1.4-0.5-1.3-0.9M483.5 166.5l0.9-0.6M505.3 164.2l-0.5 1.1-0.4 0.4-0.9 0.5-0.7-0.1M503.7 167.6l-1.6-0.7-2.4-2.2M481.5 168.6l3.1-2.6M506.4 164.4l-0.3 1.3-0.7 1.3-0.5 0.4-0.5 0.2-0.7 0M503.3 168.3l-1.3-1.1-2.1-2.2M478.5 171.1l1.3-0.7 1-0.8 3.8-3.5M507.5 164.3l-0.3 2.1-0.4 0.9-0.4 0.7-0.5 0.6-0.6 0.2M502.7 167.9l-2.8-3.2M479.1 171.3l2.2-2.1 2.8-2.9M508.6 164.4l-0.4 2.4-0.4 1.1-0.7 1.1M503 167.5l-0.4-0.4M478.8 171.2l4.6-4.7M509.6 164.5l-0.4 2.2-0.8 2.2M472.2 169.8l0.6 1.2M477.3 171.5l1.6-1.4 3.3-3.6M510.6 164.2l-0.3 1.9-0.4 1.2-0.8 1.4M470.7 167.5l0.5 1.4 0.7 1.1 0.8 0.8 0.9 0.4 1 0 1.1-0.5 1.2-0.8 3.7-3.5M511.6 164.1l-0.5 1.8-0.5 1-0.7 0.7-0.8 0.4M469.5 165.6l0.4 1 0.7 1.1 0.8 0.8 1 0.4 1.1 0 1.1-0.5 2.7-1.8M512.2 163.9l-1 1.2-0.4 0.2" stroke="#35b89f"/>
<path d="M468.9 163.5l-0.6-1.1M467.8 161.4l-1-2.2M469.3 165.1l-2.4-5.4M469.2 165.1l-2.1-5.2M469.6 165.3l-2-5M470.2 165.5l-1.8-5M471.2 165.9l-1.7-5M472.4 165.9l-1.7-4.9M473.9 166.2l-1.6-5M475.6 166.6l-1.7-5.4M477.3 166.6l-1.6-5.3M479.1 166.4l-1.4-4.7M486 165.2l-0.5-0.3M484.3 165.8l-0.3 0.3M481.1 166.4l-1.5-5M487 165.5l-0.7-0.7-0.4-0.1-0.4 0.3-1.3 1.5M483.4 166.5l-0.5-0.7-0.5-1.4-0.8-3.2M487.7 165.5l-0.5-0.9-0.4-0.2-0.3 0.1-1.1 0.8-0.3 0-0.4-0.3-0.3-0.8-0.8-2.9M488.4 165.4l-0.6-1.3-0.3-0.1-0.8 0.3-0.3-0.2-0.5-1.3-0.3-1.4M489.2 165.4l-0.5-1.5-0.9-0.9-0.4-1.5M489.9 165.3l-0.2-1.6-0.7-2.4M490.7 165.3l-0.2-4.1M491.5 165.3l0.4-4.4M492.2 165.2l1-4.4M493 165.2l1.3-4.3M493.7 165.2l0.8-2.2 1.1-2.3M494.5 165.1l0.9-2.1 1.4-2.4M495.2 165.1l1.1-2.2 1.6-2.4M495.9 165l1.3-2.2 1.8-2.4M496.5 165l1.5-2.2 2.1-2.5M497.1 164.9l1.7-2.2 2.3-2.5M497.6 165l1.9-2.4 2.6-2.5M498.1 165l2.1-2.5 2.7-2.5M498.6 164.9l2.2-2.4 2.9-2.5M499 164.8l2.4-2.4 3.1-2.4M499.4 164.7l2.5-2.3 3.7-2.7M499.7 164.7l2.6-2.4 4.2-2.6M500 164.6l2.6-2.2 5-2.7M500.2 164.6l1.7-1.5 1-0.6 4.1-1.6 2-1.4M500.4 164.5l1.7-1.4 1-0.5 1.1-0.4 3.1-0.7 1-0.4 1.1-0.7 1.1-1M500.5 164.5l1.7-1.3 1.1-0.5 1-0.2 3.2-0.1 1-0.3 1.1-0.6 1.1-1 1.2-1.5M500.9 164.1l1.4-0.8 1-0.4 1.1 0 3.1 0.4 1.1-0.1 1-0.4 1.2-0.9 1.2-1.6 0.9-1.3M500.9 164.1l1.4-0.8 1-0.2 1.1 0.2 3.1 1M509.6 164.1l1.1-0.8 1.3-1.6 1.9-3.2M500.8 164.1l1.4-0.7 1 0 1.1 0.3 1 0.5M511.2 163.9l0.6-0.7 1.4-2.3 1.4-2.7M500.7 164.1l1.3-0.6 1.1 0.1 1 0.4M512.1 163.6l0.8-1.4 2.1-4.4M500.8 163.8l1-0.2 1 0.2 0.5 0.3M512.5 163.4l2.4-5.6M501 163.7l0.5-0.1 1 0.3M512.6 162.9l2.2-5.6M501.1 163.6l0.5 0.2M485.3 165.3l11.5-0.8 2.8-0.3 1.6-0.3-0.4-0.1M485.1 165l5.6-0.9 6.7-0.5 3.9-0.5 0.8 0 0.2 0.2-0.5 0.3-0.7 0M485.5 164.9l3.2-1 2.9-0.6 10.3-0.9 1 0.1 0.4 0.2-0.1 0.7-0.7 0.5M485.5 165l3-1.4 3.2-0.9 2.1-0.3 8.5-0.7 1.3 0.1 0.6 0.4 0.2 1.1-0.3 0.7M484.4 165.9l3.9-2.4 3.4-1.3 3.4-0.5 7.4-0.7 1.7 0.1 0.8 0.5 0.4 0.9-0.1 1.7M484.6 166l3.5-2.6 1.3-0.6 2.4-1 3.6-0.8 7.9-0.7 1.3 0.1 0.6 0.2 0.8 0.7 0.4 1.2 0 1.9M484.6 166.1l3.4-2.8 2.6-1.5 1.7-0.7M506.1 159.9l0.9 1 0.3 0.6 0.2 0.9 0 1.9M484.1 166.3l3.7-3.3 2.7-1.8M507.8 160l0.5 1.1 0.2 1 0.1 2.3M483.4 166.5l2.8-2.9 2.8-2.3M509.2 160l0.4 1.5 0 3M482.2 166.5l2.2-2.3 3-2.7M510.6 160l0.2 1.9-0.2 2.3M480.6 166.4l5-5M511.9 159.4l0.1 2.3-0.4 2.4M468.9 163.5l0.6 2.1M477.3 166.6l5.4-5M513.4 159l-0.2 1.9-0.3 1.3-0.7 1.7M467.2 159.7l0.6 2.2 0.6 1.3 0.7 1.1 0.9 0.8 1.1 0.3 1.1 0.1 1.3-0.4 1.3-0.7 3.9-2.8M514.6 158.5l-0.6 1.5-0.6 0.9" stroke="#29b6a7"/>
<path d="M466.3 157.1l-0.3-0.5M465.6 155.6l-0.3-0.6M466.8 159.2l-2.2-5.1M466.9 159.7l-2.2-5.3M467.1 159.9l-2.1-5.4M467.6 160.3l-1.9-5.4M468.4 160.5l-1.9-5.5M469.5 160.9l-1.8-5.6M470.7 161l-1.7-5.6M472.3 161.2l-1.6-5.4M473.9 161.2l-1.5-5.3M475.7 161.3l-1.3-4.9M477.7 161.7l-1.3-5.1M479.6 161.4l-1.1-5M481.6 161.2l-1.1-4.9M483.6 161.3l-0.9-5M485.6 161.4l-0.9-5.2M487.4 161.5l-0.7-5M489 161.3l-0.4-4.8M490.5 161.2l-0.1-4.7M491.9 160.9l0.3-4.6M493.2 160.8l0.6-4.6M494.3 160.9l0.6-2 0.5-2.6M495.6 160.7l0.7-2 0.7-2.7M496.8 160.6l0.9-2.1 0.9-2.6M497.9 160.5l1.2-2.1 1-2.7M499 160.4l1.4-2.1 1.2-2.7M500.1 160.3l1.5-2.1 1.4-2.7M501.1 160.2l1.7-2.1 1.5-2.7M502.1 160.1l1.8-2.1 1.6-2.8M502.9 160l2-2.1 1.8-2.8M503.7 160l2.1-2.2 1.9-2.7M504.5 160l2.2-2.1 2-2.8M505.6 159.7l1.8-1.7 2.4-3.3M506.5 159.7l1.6-1.4 1-1.1 1.7-2.4M507.6 159.7l2.1-2 2.2-3.2M509 159.5l1.1-1.1 1.2-1.5 1.7-2.6M510.5 159.4l1.2-1.6 2.5-3.9M511.9 159l3.3-5.5M512.9 159l3-5.4M513.9 158.5l2.8-5.5M514.6 158.2l2.3-5.1M515 157.8l2.2-5.2M514.9 157.8l2.2-5.5M492.3 161.1l3.4-0.7 7.6-0.7 1.6-0.1 1.2 0.3M490.5 161.2l1.4-0.6 2.8-0.8 9.4-1 1.7 0 0.7 0.1 0.6 0.3 0.7 0.8M489 161.3l3-1.5 2.9-0.9 10-1 1.8 0 1.4 0.4 0.5 0.5 0.6 1.2M487.4 161.5l3.1-2.1 3.1-1.2 3.1-0.7 9-0.8 1.9 0 1.5 0.5 0.6 0.5 0.4 0.7 0.5 1.6M485.6 161.4l3.2-2.5 1.7-0.9 1.6-0.8 3.3-0.9M509.1 155.2l1.1 0.4 0.6 0.5 0.5 0.8 0.4 0.9 0.2 1.6M482.7 161.6l4.2-3.5 2.7-1.6M512.7 154.8l0.6 2 0.1 2.2M467.1 159.1l0.1 0.6M478.7 161.6l4.3-3.5 2.2-1.7M515 154l0 2.4-0.4 2.1M465.2 155.1l0.8 2.5 0.6 1.2 0.8 1 1 0.7 1.1 0.4 1.2 0.1 1.4-0.3 1.5-0.6 1.6-0.9 4.3-2.8M516.7 153.6l-0.9 2-0.6 0.7" stroke="#1fb3ae"/>
<path d="M464.8 154l-2.4-5.3M464.6 154.1l-2.2-5.2M464.7 154.4l-2.2-5.4M465 154.5l-2-5.2M465.7 154.9l-2-5.3M466.5 155l-1.7-4.8M467.7 155.3l-1.8-5.3M469 155.4l-1.5-4.7M470.7 155.8l-1.6-5.1M472.4 155.9l-1.4-4.9M474.4 156.4l-1.4-5.4M476.4 156.6l-1.3-5.5M478.5 156.4l-1.2-5.1M480.5 156.3l-0.9-4.9M482.7 156.3l-0.9-4.9M484.7 156.2l-0.7-5.1M486.7 156.5l-0.5-5.3M488.6 156.5l-0.3-5.1M490.4 156.5l0-5.3M492.2 156.3l0.2-5.1M493.8 156.2l0.5-4.9M495.4 156.3l0.8-5.4M497 156l1-4.7M498.6 155.9l1.2-4.8M500.1 155.7l1.5-4.8M501.6 155.6l1.7-4.8M503 155.5l1.9-4.7M504.3 155.4l2.1-4.8M505.5 155.2l2.4-4.7M506.7 155.1l2.5-4.8M507.7 155.1l3-5.4M508.7 155.1l3.1-5.4M509.8 154.7l3.2-5.4M510.8 154.8l3.1-5.3M511.9 154.5l3.3-5.6M513 154.3l3.1-5.4M514.2 153.9l2.9-5.3M515.2 153.5l2.7-5.2M515.9 153.6l2.8-5.6M516.7 153l2.4-5.2M516.9 153.1l2.5-5.5M517.2 152.6l2.2-5.3M517.1 152.3l1.7-4.2M495.4 156.3l3.2-0.4 8.1-0.8 2.4 0.1M489.6 156.5l2.6-1.2 3.5-0.9 12-1.2 2.2-0.1 0.9 0.1 0.7 0.4 0.7 0.5 0.5 0.7M485.2 156.4l3.3-1.9 1.9-0.9 3.8-1.2 3.7-0.6 11.1-1 2.3-0.1 1.7 0.3 0.7 0.5 0.6 0.6 0.7 1.9M479.5 156.4l4.8-3 3.5-1.8M516.3 149.2l0.5 1.2 0.2 1-0.3 2.2M462.8 149.2l0.5 1.8 0.5 1.3 0.8 1.1 0.9 0.9 1 0.7 1.2 0.3 1.3 0.1 1.5-0.2 1.6-0.4 3.5-1.5 4-1.9M519 148.2l-0.5 1.2-0.5 0.8" stroke="#16b1b4"/>
<path d="M461.6 146.1l-0.2-0.5M460.6 144l-0.3-0.5M462.4 148.7l-2.6-5.6M462.4 148.9l-2.4-5.2M462.5 149l-2.4-5.4M463 149.3l-2.2-5.1M463.7 149.6l-2.1-5.2M464.8 150.2l-2-5.2M465.9 150l-1.7-4.7M467.5 150.7l-1.9-5.5M469.1 150.7l-1.6-5M471 151l-1.7-5.5M473 151l-1.4-4.9M475.1 151.1l-1.3-5M477.3 151.3l-1.1-4.8M479.6 151.4l-1.1-5.1M481.8 151.4l-0.9-5.3M484 151.1l-0.7-4.5M486.2 151.2l-0.5-4.8M488.3 151.4l-0.3-4.8M490.4 151.2l-0.1-4.6M492.4 151.2l0.2-5.1M494.3 151.3l0.5-5M496.2 150.9l0.7-4.9M498 151.3l1-5M499.8 151.1l1.2-5M501.6 150.9l1.5-4.9M503.3 150.8l1.7-4.9M504.9 150.8l1.9-5.1M506.4 150.6l2.2-5.1M507.9 150.5l2.4-5.2M509.2 150.3l2.6-5.2M510.7 149.7l2.5-4.7M511.8 149.7l2.6-4.8M513 149.3l2.8-4.9M513.9 149.5l3.2-5.5M515.2 148.9l2.9-5.1M516.1 148.9l3-5.3M517.1 148.6l2.8-5.1M517.9 148.3l2.9-5.4M518.7 148l2.5-5.1M519.1 147.8l2.6-5.4M519.4 147.6l2.6-5.6M519.4 147.3l2.4-5.4M519.2 147.1l0.6-1.6M487.8 151.6l2.6-1 2-0.6 4.1-0.7 15.2-1.5 2.2 0 0.9 0.2 0.7 0.4 0.8 0.8M479.6 151.4l6.3-2.9 4.4-1.3 2.8-0.6M516.8 144.5l1.4 0.6 0.5 0.5 0.5 1.4-0.2 1.2M460.2 143.5l0.5 1.8 0.6 1 0.8 1 1 0.7 1.2 0.6 1.3 0.4 1.4 0.1 3.4-0.3 3.8-1.1 3.8-1.2M521.6 142.7l-0.5 0.8-0.6 0.5" stroke="#0eaeba"/>
<path d="M459.6 142l-0.6-1M458.5 140l-1.3-2.4M459.8 143.1l-2.6-5M460 143.7l-2.6-5.2M460.1 143.6l-2.3-4.8M460.8 144.2l-2.4-5.1M461.6 144.4l-2.4-5.2M462.8 145l-2.3-5.3M464.2 145.3l-2.2-5.3M465.6 145.2l-1.9-4.9M467.5 145.7l-2-5.4M469.3 145.5l-1.7-4.8M471.6 146.1l-1.6-5.1M473.8 146.1l-1.4-4.9M476.2 146.5l-1.4-5.2M478.5 146.3l-1.1-4.9M480.9 146.1l-0.9-4.6M483.3 146.6l-0.7-5M485.7 146.4l-0.6-5.1M488 146.6l-0.3-5.2M490.3 146.6l-0.1-5.1M492.6 146.1l0.2-4.9M494.8 146.3l0.4-4.9M496.9 146l0.8-4.8M499 146.3l1.1-5.3M501 146.1l1.4-5.2M503.1 146l1.6-5.3M505 145.9l1.9-5.3M506.8 145.7l2.2-5.3M508.6 145.5l2.4-5.3M510.3 145.3l2.5-5.3M511.8 145.1l2.7-5.2M513.2 145l2.9-5.3M514.4 144.9l3.1-5.4M515.8 144.4l2.9-5M517.1 144l3-5.1M518.1 143.8l3.2-5.2M519.1 143.6l3.2-5.3M519.9 143.5l3.2-5.5M520.8 142.9l3.1-5.4M521.2 142.9l3.1-5.6M521.7 142.4l2.9-5.3M522 142l2.6-5.2M521.8 141.9l2.6-5.3M493.1 146.6l3.8-0.6 10.1-0.8 6.4-0.7 2.4-0.1 1 0.1M478 146.5l7.5-2.3 7.2-1.4 4.8-0.6 11-0.8 8.4-0.9 2.3-0.1 1.6 0.3 0.8 0.7 0.2 0.5-0.2 0.8M457.4 138.5l0.9 1.4 0.9 0.7 1.1 0.7 1.2 0.5 1.5 0.4 1.6 0.2 3.7-0.1 6.5-1" stroke="#09abbf"/>
<path d="M457.2 137.6l-3.2-5.2M457.2 138.1l-3.2-5.4M457.4 138.5l-3.2-5.5M457.8 138.8l-3.1-5.6M458.4 139.1l-2.8-5.3M459.2 139.2l-2.7-5.3M460.5 139.7l-2.6-5.3M462 140l-2.5-5.3M463.7 140.3l-2.4-5.3M465.5 140.3l-2.2-5.2M467.6 140.7l-1.9-5M470 141l-2-5.4M472.4 141.2l-1.8-5.1M474.8 141.3l-1.4-4.9M477.4 141.4l-1.4-5.1M480 141.5l-1.2-4.9M482.6 141.6l-1-5.2M485.1 141.3l-0.6-4.6M487.7 141.4l-0.4-5M490.2 141.5l0-5.1M492.8 141.2l0.2-4.4M495.2 141.4l0.5-4.8M497.7 141.2l0.8-4.8M500.1 141l1.1-4.8M502.4 140.9l1.4-4.8M504.7 140.7l1.6-4.6M506.9 140.6l1.8-4.7M509 140.4l2.1-4.7M511 140.2l2.3-4.7M512.8 140l2.5-4.7M514.5 139.9l2.7-4.7M516.1 139.7l3.1-5.2M517.5 139.5l3.3-5.2M518.7 139.4l3.5-5.4M520.1 138.9l3.6-5.3M521.3 138.6l3.4-5.1M522.3 138.3l3.5-5.3M523.1 138l3.5-5.3M523.9 137.5l3.4-5.2M524.3 137.3l3.5-5.5M524.6 137.1l3.2-5.3M524.6 136.8l3.2-5.5M456.9 136.7l0.3 1.4 0.2 0.4M474.8 141.3l7.5-1.4 7.9-1.1 5.3-0.5 14.8-1 11.8-1.4 1.7-0.1 1 0.3 0.1 0.2 0 0.3-0.8 0.5M456.8 134.4l3 0.8 4.3 0.4" stroke="#06a8c4"/>
<path d="M454 132.4l-0.9-1.4-3.1-4.2M454 132.7l-3.7-5.2M454.2 133l-3.7-5.3M454.7 133.2l-3.4-4.9M455.6 133.8l-3.5-5.4M456.5 133.9l-3.1-4.9M457.9 134.4l-3-5M459.5 134.7l-2.8-4.9M461.3 135l-2.6-4.9M463.3 135.1l-2.4-4.7M465.7 135.7l-2.5-5.1M468 135.6l-2.2-4.8M470.6 136.1l-1.9-4.8M473.4 136.4l-1.8-4.9M476 136.3l-1.5-4.9M478.8 136.6l-1.3-5.1M481.6 136.4l-1-5.1M484.5 136.7l-0.7-5M487.3 136.4l-0.4-4.5M490.2 136.4l-0.1-4.7M493 136.8l0.2-5.2M495.7 136.6l0.7-5.1M498.5 136.4l0.9-5.1M501.2 136.2l1.3-5M503.8 136.1l1.5-4.5M506.3 136.1l1.9-5M508.7 135.9l2.3-5M511.1 135.7l2.5-5M513.3 135.5l2.8-5.1M515.3 135.3l3-5M517.2 135.2l3.3-5.1M519.2 134.5l3.3-4.7M520.8 134.3l3.7-5.1M522.2 134l2.1-2.9 1.8-2.2M523.7 133.6l1.9-2.7 1.8-2.3M524.7 133.5l2-2.8 2.1-2.6M525.8 133l1.7-2.4 2.2-2.7M526.6 132.7l1.6-2.2 2.2-2.8M527.3 132.3l1.3-1.9 2.6-3.3M527.8 131.8l1-1.4 2.7-3.6M527.8 131.8l0.9-1.4 3.1-4.2M527.8 131.3l3.7-5.3M453.1 130.6l0.3 1.1 0.5 0.8 1.7 1.3 1.2 0.6M464.1 135.6l6.4-0.1 16.7-1.3 22.8-1.3 9.2-1 9.2-1.6" stroke="#06a4c9"/>
<path d="M450 126.8l-1.7-2.2-2.8-3M450.3 127.5l-1.7-2.3-2.7-3M450.5 127.7l-1.3-1.9-2.7-3M451.3 128.3l-1.3-1.9-3-3.5M452.1 128.4l-1-1.4-2.9-3.5M453.4 129l-0.9-1.5-3-3.8M454.9 129.4l-0.9-1.5-2.8-3.7M456.7 129.8l-0.9-1.5-2.7-3.7M458.7 130.1l-0.8-1.5-2.6-3.6M460.9 130.4l-0.8-1.5-2.3-3.4M463.2 130.6l-0.7-1.5-2.1-3.4M465.8 130.8l-0.7-1.6-1.7-3.1M468.7 131.3l-0.9-2.1-1.5-2.9M471.6 131.5l-0.9-2.2-1.2-2.7M474.5 131.4l-1.8-4.7M477.5 131.5l-1.6-5M480.6 131.3l-1.1-4.3M483.8 131.7l-0.9-5M486.9 131.9l-0.5-5.2M490.1 131.7l-0.1-4.5M493.2 131.6l0.3-4.5M496.4 131.5l0.6-4.5M499.4 131.3l1-4.4M502.5 131.2l1.3-4.5M505.3 131.6l1.8-4.9M508.2 131.1l2.1-4.6M511 130.9l2.3-4.6M513.6 130.7l2.9-5M516.1 130.4l3.2-4.9M518.3 130.3l2.2-3.2 1.4-1.9M520.5 130.1l2.3-3.3 1.4-1.8M522.5 129.8l2.4-3.4 1.6-1.7M524.5 129.2l2.4-3.1 1.5-1.7M526.1 128.9l2.5-3.1 1.5-1.7M527.4 128.6l2.6-3.1 1.7-1.8M528.8 128.1l2.4-3 2-2M529.7 127.9l2.5-3 2-2.1M530.4 127.7l2.5-3.1 2.1-2.2M531.2 127.1l2.2-2.8 2.3-2.5M531.5 126.8l2.1-2.7 2.3-2.6M531.8 126.2l1.7-2.4 2.8-3M448.2 124.2l0.4 1 1.4 1.2 2.5 1.1 1.5 0.4 1.8 0.4 4.3 0.6 5 0.3 5.6 0.1 12.7-0.2 16.6-0.6 15.3-0.9 7.5-0.8 5.8-1 2.6-0.7 1.7-0.5 0.7-0.5-0.1-0.3" stroke="#06a0cd"/>
<path d="M444.7 120.1l-0.4-0.4M445.5 121.6l-3.5-3.9-1.3-1.2M445.9 122.2l-3.5-3.9-1.8-1.6M446.5 122.8l-3.4-3.9-1.8-1.6M447 122.9l-3-3.5-1.7-1.5M448.2 123.5l-2.9-3.5-1.7-1.6M449.5 123.7l-2.7-3.2-1.7-1.7M451.2 124.2l-2.6-3.3-1.6-1.6M453.1 124.6l-2.4-3.2-1.6-1.7M455.3 125l-2.3-3.3-1.5-1.6M457.8 125.5l-2.2-3.4-1.5-1.8M460.4 125.7l-2.1-3.3-1.1-1.4M463.4 126.1l-2.1-3.5-1-1.4M466.3 126.3l-1.8-3.5-1-1.5M469.5 126.6l-1.7-3.6-0.9-1.5M472.7 126.7l-2-4.6M475.9 126.5l-1.5-4.4M479.5 127l-1.4-4.8M482.9 126.7l-0.9-4.6M486.4 126.7l-0.5-4.6M490 127.2l-0.1-5.1M493.5 127.1l0.3-5.1M497 127l0.8-5M500.4 126.9l1.3-5M503.8 126.7l1.7-4.9M507.1 126.7l2.1-5.1M510.3 126.5l2.5-5M513.3 126.3l3-5M516.5 125.7l3.1-4.6M519.3 125.5l3.3-4.7M521.9 125.2l3.7-4.7M524.2 125l4.1-4.8M526.5 124.7l4.3-4.9M528.4 124.4l4.6-5M530.1 124.1l4.8-5.1M531.7 123.7l4.9-5.1M533.2 123.1l4.8-4.9M534.2 122.8l4.1-4.2 1.3-1.2M535 122.4l4.1-4.3 1.3-1.1M535.7 121.8l3.9-4.1 1.3-1.2M535.9 121.5l4-4.2 1.3-1.2M536.3 120.8l0.4-0.4M537.4 119.5l0.8-0.9M442 117.7l0.4 0.6 0.7 0.6 0.9 0.5 2.8 1.1 3.9 0.9 4.9 0.7 5.7 0.5 6.5 0.4 18.3 0.3 19-0.4 10.5-0.6 6.3-0.6 5.6-0.7 6.6-1.2 4.2-1.2 1.3-0.9 0.3-0.4" stroke="#079cd0"/>
<path d="M440.7 116.5l-6.2-5.6M440.6 116.7l-5.7-5.2M441.3 117.3l-5.6-5.2M442.3 117.9l-5.5-5.2M443.6 118.4l-5.3-5.1M445.1 118.8l-5-4.9M447 119.3l-4.8-4.9M449.1 119.7l-4.5-4.8M451.5 120.1l-4.2-4.7M454.1 120.3l-3.8-4.5M457.2 121l-4.1-5.2M460.3 121.2l-3.7-5.1M463.5 121.3l-3.2-4.8M466.9 121.5l-2.8-4.8M470.7 122.1l-2.6-5.1M474.4 122.1l-2.1-4.9M478.1 122.2l-1.5-4.9M482 122.1l-1.1-4.7M485.9 122.1l-0.6-4.6M489.9 122.1l-0.2-4.6M493.8 122l0.4-4.5M497.8 122l0.8-4.6M501.7 121.9l1.3-4.6M505.5 121.8l1.6-4.2M509.2 121.6l2.1-4.2M512.8 121.5l2.5-4.4M516.3 121.3l2.9-4.5M519.6 121.1l3.4-4.6M522.6 120.8l4-4.8M525.6 120.5l4.3-4.8M528.3 120.2l4.7-5M530.8 119.8l5-5M533 119.4l5.4-5.2M534.9 119l5.7-5.2M536.6 118.6l5.6-5M538 118.2l5.8-5.1M539.6 117.4l5.5-4.9M540.4 117l5.7-5M540.9 116.5l6.2-5.4M541.2 116.1l6.2-5.6" stroke="#0a96d1"/>
<path d="M434.5 110.9l-6.6-5M434.9 111.5l-6.5-5M435.7 112.1l-6.4-4.9M436.8 112.7l-0.8-0.8-5.7-4.3M438.3 113.3l-0.8-0.8-5.6-4.2M440.1 113.9l-0.8-0.8-5.6-4.4M442.2 114.4l-0.8-0.8-5.4-4.4M444.6 114.9l-0.8-0.8-4.9-4.1M447.3 115.4l-0.8-0.9-4.8-4.2M450.3 115.8l-0.8-0.9-4.3-4M453.1 115.8l-4.5-4.6M456.6 116.1l-4-4.3M460.3 116.5l-3.8-4.6M464.1 116.7l-3.1-4.3M468.1 117l-2.8-4.6M472.3 117.2l-2.3-4.6M476.6 117.3l-1.7-4.3M480.9 117.4l-1.3-4.5M485.3 117.5l-0.7-4.6M489.7 117.5l-0.1-4.5M494.2 117.5l0.4-4M498.6 117.4l0.9-4M503 117.3l1.3-4M507.1 117.6l2.1-4.7M511.3 117.4l2.5-4.5M515.3 117.1l3.2-4.7M519.2 116.8l3.5-4.5M523 116.5l3.9-4.5M526.6 116l4.4-4.7M529.9 115.7l4.6-4.6M533 115.2l5.2-4.8M535.8 114.8l5.3-4.7M538.4 114.2l5.8-4.8M540.6 113.8l5.9-4.7M542.2 113.6l1.2-1.2 5.3-3.9M543.8 113.1l1.3-1.2 5.6-4.2M545.1 112.5l1.3-1.1 5.8-4.3M546.1 112l1.3-1.2 5.6-4.1M547.1 111.1l6.6-5M547.4 110.5l2.8-2.2M553.5 105.8l0.5-0.3M433.6 110.1l0.5 0.7 0.8 0.6 1.1 0.5 3.3 1.2 4.5 1 5.7 0.8 6.7 0.8 11.7 0.7 8.5 0.4 13.3 0.1 13.5-0.2 8.6-0.3 11.9-0.9 6.9-0.7 6-0.9 6.8-1.5 1.7-0.5 2.3-1.1 0.6-0.5 0.3-0.6" stroke="#0f90d2"/>
<path d="M547.3 96l1.4-1.2M543.3 96.4l2-2.2M539 96.7l2.7-3M534.8 96.8l2.9-3.6M530.3 97l3.2-4.3M526.1 96.6l2.9-4.4M521.6 96.4l2.6-4.6M517 96.1l2.3-4.6M512.4 95.5l1.7-4.3M507.6 94.8l1.2-3.9M502.7 94.2l0.7-3.4M497.6 93l0.3-2.4M492.3 91.8l0-1.2M427.9 105.9l-5.2-3.9M428.4 106.5l-6.1-4.5-1-0.7M429.3 107.2l-6.1-4.5-1-0.6M430.3 107.6l-5.7-4.3-1-0.6M431.9 108.3l-5.5-4.3-1-0.6M433.7 108.7l-5.1-4-1-0.7M436 109.2l-4.9-3.9-1-0.7M438.9 110l-4.9-4.1-0.9-0.7M441.7 110.3l-4.4-3.9-0.9-0.7M445.2 110.9l-4.3-4-0.9-0.7M448.6 111.2l-3.7-3.8-1-0.7M452.6 111.8l-3.5-4-1-0.7M456.5 111.9l-3-3.7-0.8-0.8M461 112.4l-2.8-3.8-0.8-0.9M465.3 112.4l-2.2-3.5-0.7-0.9M470 112.6l-2.2-4M474.9 113l-1.8-4.2M479.6 112.9l-1.1-4M484.6 112.9l-0.6-3.9M489.6 113l-0.1-4M494.6 113.5l0.4-4.5M499.5 113.4l1-4.5M504.3 113.3l1.6-4.5M509.2 112.9l2.1-4.2M513.8 112.9l2.6-4.5M518.5 112.4l2.6-3.8 0.7-0.8M522.7 112.3l3.2-4 0.8-0.8M526.9 112l3.6-4.1 0.8-0.7M531 111.3l3.8-3.8 0.9-0.7M534.5 111.1l4.4-4.1 0.9-0.7M538.2 110.4l4.4-3.9 1-0.7M541.1 110.1l5-4.1 1-0.7M544.2 109.4l5-4 1-0.6M546.5 109.1l6.5-4.9M548.7 108.5l6.6-4.9M550.7 107.7l6.6-4.8M552.2 107.1l6.7-4.8M553 106.7l7.1-5.1M553.7 106.1l7.1-5.2M554 105.5l2.8-2.2M551.1 95.8l0.5-0.3M547.8 95.6l-10.9-1.6-13.3-1.2-15.2-0.8-16.6-0.2M422 101.6l1.2 1.1 1.4 0.6 4 1.4 5.4 1.2 10.9 1.5 8.6 0.8 9.6 0.7 10.3 0.4 16.1 0.3 16.2-0.3 10.4-0.4 9.8-0.6 8.9-0.8 7.8-1 9.4-1.7 4.3-1.3 2.8-1.3 0.7-0.7M549.5 95.9l-1.7-0.3" stroke="#138ad3"/>
<path d="M548.7 94.8l7.2-6.1M545.3 94.2l7.1-6.3M541.7 93.7l6.3-6.2M537.7 93.2l6.1-6.5M533.5 92.7l5.3-6.3M529 92.2l4.5-6.1M524.2 91.8l4.1-6.3M519.3 91.5l3.3-6.2M514.1 91.2l2.9-6.4M508.8 90.9l2.1-6.1M503.4 90.8l1.5-6.2M497.9 90.6l0.8-6.4M492.3 90.6l0.2-6.5M486.8 90.6l-0.5-6.4M481 89.5l-0.9-5.3M475.1 88.6l-1.1-3.9M468.9 87.1l-0.9-2.2M463.3 87.6l-1.3-2.7M458.3 88.6l-1.8-3.1M453.5 89.6l-2.7-3.9M449.5 91l-3.7-4.6M445.4 92l-4.7-5.3M441.7 93l-5.5-5.6M438.3 94l-6.6-6.2M434.4 94.1l-6.8-5.8M430.7 94.4l-6.4-5.3M427.5 94.7l-6.6-5M423.7 94.4l-5.2-3.8M420.6 94.4l-4.4-3.1M417.6 94.2l-3.4-2.3M414.3 93.7l-1.5-1M420.7 100.7l-1.5-1M414.7 97l-2-1.2M421.3 101.3l-8.8-5.2M422.2 102.1l-8.6-5.2M423.6 102.7l-8.7-5.2M425.4 103.4l-8.2-5M427.6 104l-7.9-4.9M430.1 104.6l-7.6-4.8M433.1 105.2l-7.5-4.9M436.4 105.7l-6.8-4.6M440 106.2l-6.3-4.6M443.9 106.7l-5.5-4.4M448.1 107.1l-5-4.3M452.7 107.4l-4.7-4.4M457.4 107.7l-4.1-4.3M462.4 108l-3.3-4.1M467.8 108.6l-2.9-4.5M473.1 108.8l-2.4-4.7M478.5 108.9l-1.6-4.4M484 109l-0.9-4.4M489.5 109l-0.2-4.1M495 109l0.5-4.2M500.5 108.9l1.2-4.4M505.9 108.8l2.1-4.7M511.3 108.7l2.6-4.5M516.4 108.4l3.5-4.7M521.8 107.8l3.8-4.3M526.7 107.5l4.2-4.2M531.3 107.2l4.8-4.3M535.7 106.8l5.5-4.5M539.8 106.3l6-4.5M543.6 105.8l6.3-4.4M547.1 105.3l6.7-4.5M550.2 104.8l7.4-4.8M553 104.2l7.9-5.1M555.3 103.6l8.1-5M557.3 102.9l8.6-5.2M558.9 102.3l8.5-5.2M560.1 101.6l8.7-5.3M560.8 100.9l9-5.5M567.9 92.6l0.5-0.4M563.9 93.5l2.9-2M560.2 94l4.4-3.1M555.6 95l6.7-5M551.6 95.5l7.8-6.2" stroke="#1484d4"/>
<path d="M555.9 88.7l7.2-6M552.4 87.9l6.5-5.9M548 87.5l6.4-6.2M543.8 86.7l5.6-6M538.8 86.4l5.3-6.3M533.5 86.1l5-6.5M528.3 85.5l4.2-6.4M522.6 85.3l3.7-6.6M517 84.8l2.9-6.4M510.9 84.8l2.4-6.7M504.9 84.6l1.6-6.7M498.7 84.2l0.9-6.5M492.5 84.1l0.2-6.4M486.3 84.2l-0.5-6.5M480.1 84.2l-1.2-6.4M474 84.7l-2-6.7M468 84.9l-2.7-6.6M462 84.9l-3.2-6.3M456.5 85.5l-4-6.5M450.8 85.7l-4.4-6.3M445.8 86.4l-5.2-6.5M440.7 86.7l-5.6-6.2M436.2 87.4l-6.2-6.3M431.7 87.8l-6.5-6M427.6 88.3l-6.8-5.8M424.3 89.1l-7.4-5.9M420.9 89.7l-7.5-5.7M418.5 90.6l-8.1-5.8M416.2 91.3l-8.3-5.7M414.2 91.9l-8.3-5.4M412.8 92.7l-8.4-5.4M411.5 93.2l-8.1-5M408.6 92.5l-5.6-3.4M408.7 93.3l-1-0.6M406.7 92.1l-3.6-2.1M412.5 96.1l-8.7-5.2M413.6 96.9l-8.6-5.2M414.9 97.5l-8.2-4.9M417.2 98.4l-8.2-5M419.7 99.1l-8-4.9M422.5 99.8l-7.5-4.8M425.6 100.3l-6.9-4.6M429.6 101.1l-6.8-4.7M433.7 101.6l-6.3-4.5M438.4 102.3l-6.1-4.6M443.1 102.8l-5.5-4.6M448 103l-4.7-4.3M453.3 103.4l-4.1-4.3M459.1 103.9l-3.7-4.5M464.9 104.1l-3.1-4.4M470.7 104.1l-2.3-4.2M476.9 104.5l-1.7-4.4M483.1 104.6l-1-4.5M489.3 104.9l-0.2-4.7M495.5 104.8l0.6-4.6M501.7 104.5l1.3-4.4M508 104.1l1.9-4.1M513.9 104.2l2.7-4.4M519.9 103.7l3.2-4.2M525.6 103.5l3.8-4.3M530.9 103.3l4.6-4.5M536.1 102.9l5.2-4.5M541.2 102.3l5.5-4.4M545.8 101.8l6.1-4.5M549.9 101.4l6.8-4.8M553.8 100.8l7.3-4.8M557.6 100l7.4-4.7M560.9 99.1l7.5-4.6M563.4 98.6l8.1-4.9M565.9 97.7l8.1-4.8M567.4 97.1l8.6-5.1M568.8 96.3l8.6-5.1M569.8 95.4l7-4.2M576.1 90l2.6-1.5M572.5 91.1l5.5-3.5M568.4 92.2l8.4-5.4M566.8 91.5l8.2-5.6M564.6 90.9l8.2-5.8M562.3 90l7.7-5.7M559.4 89.3l7.4-5.8M562.6 83l-8.7-1.3-4.9-0.6-10.9-1.1-12.1-0.8-13-0.6-13.5-0.3-13.7 0-13.6 0.2-13.1 0.6-12.3 0.7-16.4 1.7-9.1 1.3-7.4 1.5-5.5 1.6-2 0.8-1.5 0.9-0.9 0.9-0.5 0.9 0.2 0.8 0.6 0.9 1.2 0.9 1.8 0.8 2.2 0.9 2.8 0.8 6.9 1.5 8.7 1.4 10.2 1.1 11.6 1 12.5 0.6 13.3 0.5 20.5 0.1 20.2-0.5 12.8-0.6 11.8-0.9 10.6-1.1 9.1-1.4 7.4-1.5 5.5-1.6 2-0.8 1.8-1.2M578.2 89.2l-0.1-0.4-0.6-0.9-1.2-0.9-1.8-0.8-5-1.6-6.9-1.6" stroke="#137fd6"/>
<path d="M563.1 82.7l4.7-3.2M558.9 82l4.7-3.4M554.4 81.3l5-3.9M549.4 80.7l5.6-4.8M544.1 80.1l6.4-6.1M538.5 79.6l6-6.6M532.5 79.1l5.1-6.4M526.3 78.7l4.5-6.7M519.9 78.4l3.7-6.8M513.3 78.1l2.7-6.6M506.5 77.9l2-6.8M499.6 77.7l1.1-6.4M492.7 77.7l0.2-6.6M485.8 77.7l-0.7-6.6M478.9 77.8l-1.6-6.8M472 78l-2.4-6.9M465.3 78.3l-2.9-6.3M458.8 78.6l-3-4.9M452.5 79l-3-4.1M446.4 79.4l-3-3.5M440.6 79.9l-3.2-3.3M435.1 80.5l-3.8-3.5M430 81.1l-4.8-4M425.2 81.8l-6.3-4.8M420.8 82.5l-8.5-6M416.9 83.2l-9.4-6.1M413.4 84l-9.7-5.9M410.4 84.8l-10.4-6M407.9 85.6l-10.4-5.7M405.9 86.5l-11.1-5.9M404.4 87.3l-11.2-5.7M403.4 88.2l-11.1-5.5M403 89.1l-11.3-5.4M403.1 90l-11.2-5.3M403.8 90.9l-11.2-5.3M405 91.7l-11.1-5.1M406.7 92.6l-10.1-4.7M409 93.4l-7.9-3.6M411.7 94.2l-6.2-2.9M415 95l-5.3-2.5M418.7 95.7l-4.7-2.3M422.8 96.4l-4.6-2.4M427.4 97.1l-5-2.7M432.3 97.7l-5.5-3.2M437.6 98.2l-6.3-3.9M443.3 98.7l-6.2-4.3M449.2 99.1l-5.2-4M455.4 99.4l-4.3-3.8M461.8 99.7l-3.5-3.8M468.4 99.9l-2.7-3.8M475.2 100.1l-1.8-3.7M482.1 100.1l-1.1-4M489.1 100.2l-0.2-3.6M496.1 100.2l0.6-4M503 100.1l1.4-3.7M509.9 100l2.4-4M516.6 99.8l2.8-3.6M523.1 99.5l2.9-2.8M529.4 99.2l2.9-2.4M535.5 98.8l2.9-2.1M541.3 98.4l3.1-2.1M546.7 97.9l3.8-2.3M551.9 97.3l4.7-2.7M556.7 96.6l6.2-3.2M561.1 96l8.4-4.3M565 95.3l9.3-4.6M568.4 94.5l10-4.7M571.5 93.7l10-4.7M574 92.9l10.7-5M576 92l10.8-5M577.4 91.2l10.9-5.1M584.3 87.5l5.4-2.5M579.3 89.2l0.6-0.3M580.9 88.4l9.2-4.4M578.7 88.5l11.2-5.5M578 87.6l11.2-5.6M576.8 86.8l11.1-5.8M575 85.9l10.2-5.5M572.8 85.1l7.9-4.5M570 84.3l6.3-3.8M566.8 83.5l5.3-3.4" stroke="#117bd9"/>
<path d="M544.5 73l1.2-1.3M537.6 72.7l3-3.7M530.8 72l4.2-6.3M523.6 71.6l3.6-6.7M516 71.5l2.8-6.6M508.5 71.1l2-6.9M500.7 71.3l1.1-7.1M492.9 71.1l0.3-7.2M485.1 71.1l-0.6-6.5M477.3 71l-0.7-3.4M469.6 71.1l-0.4-1.1M407.5 77.1l-2-1.3M403.7 78.1l-5.6-3.5M400 78.8l-9.8-5.7M397.5 79.9l-10.9-6M394.8 80.6l-10.5-5.5M393.2 81.6l-10.7-5.4M392.3 82.7l-11.2-5.5M391.7 83.7l-11.3-5.5M391.9 84.7l-10.8-5.1M392.6 85.6l-5.9-2.7M393.9 86.6l-2.1-1M437.1 94.4l-1-0.6M444 95.1l-2.8-2.2M451.1 95.6l-4.3-3.9M458.3 95.9l-3.9-4.2M465.7 96.1l-2.7-3.8M473.4 96.4l-2.1-4.1M481 96.1l-1-3.4M488.9 96.6l-0.3-4.1M496.7 96.2l0.6-3.4M504.4 96.4l0.8-2.1M512.3 96l0.3-0.5M574.3 90.7l2-1M578.4 89.8l5.3-2.5M581.5 89l10.1-4.7M584.7 87.9l10.3-4.8M586.8 87l10.9-5M588.3 86.1l11.4-5.3M589.7 85l10.8-5.1M590.1 84l11.3-5.4M589.9 83l10.8-5.2M589.2 82l5.9-3M587.9 81l2.1-1.1" stroke="#0e76dc"/>
<path d="M527.2 64.9l1.7-3.2M518.8 64.9l2-5 1.3-2.2M510.5 64.2l1.3-4.5 0.8-2.2M501.8 64.2l1.3-7M493.2 63.9l0.1-3M386.6 73.9l-5.2-2.9M384.3 75.1l-7.8-4.2-4.3-1.6M382.5 76.2l-8-4.1-4.5-1.6M381.1 77.2l-7.9-3.9-4.4-1.6M380.4 78.2l-5.4-2.6M454.4 91.7l-1.5-1.7M463 92.3l-2-2.9-1.3-1M471.3 92.3l-1.3-2.6-1.1-1.3M480 92.7l-0.8-2.9-0.5-1M488.6 92.5l-0.1-1.8M595 83.1l5.4-2.5M597.7 82l7.6-3.6 4.3-1.3M599.7 80.8l7.6-3.5 4.5-1.5M600.5 79.9l8.1-3.8 4.4-1.4M601.4 78.6l5.4-2.5M526.7 60.2l-14.9-0.5-15.3-0.2M378.2 70.2l-1.7 0.7-2 1.2-1.3 1.2-0.4 0.8M455.1 89.2l14.9 0.5 15.3 0.2M603.6 79.2l1.7-0.8 2-1.1 1.3-1.2 0.4-0.8" stroke="#0971de"/>
<path d="M512.6 57.5l1.7-4.4M372.2 69.3l-0.6-0.2M370 70.5l-9.6-3.5M368.8 71.7l-0.6-0.1M468.9 88.4l-1.4-1.7M609.6 77.1l0.6-0.2M611.8 75.8l9.6-3M613 74.7l0.6-0.2" stroke="#046ce0"/>
</g>
<path d="M474.8 172.5l0.3 0.2 0.4 0.1 0.4 0 0.4-0.1 0.4-0.1 0.5-0.2 0.4-0.2 0.5-0.3 0.5-0.4 0.5-0.5 0.5-0.5 0.5-0.5 0.5-0.6 0.6-0.6 0.6-0.6 0.5-0.6 0.6-0.7 0.6-0.6 0.6-0.7 0.6-0.6 0.7-0.6 0.6-0.6 0.6-0.6 0.7-0.5 0.6-0.6 0.7-0.4 0.6-0.5 0.7-0.4 0.6-0.3 0.7-0.4 0.6-0.3 0.7-0.2 0.6-0.2 0.7-0.2 0.6-0.2 0.7-0.1 0.6-0.1 0.6-0.1 0.7-0.1 0.6-0.1 0.6 0 0.6-0.1 0.6 0 0.5-0.1 0.6 0 0.6 0 0.5-0.1 0.5 0 0.6-0.1 0.5 0 0.4-0.1 0.5 0 0.5-0.1 0.4 0 0.4-0.1 0.4 0 0.4 0 0.4 0 0.3 0.1 0.4 0.1 0.3 0.1 0.3 0.1 0.2 0.2 0.3 0.2 0.2 0.2 0.2 0.3 0.2 0.3 0.2 0.4 0.1 0.4 0.1 0.5 0.1 0.4 0.1 0.6 0 0.5 0 0.6 0 0.5 0 0.6 0 0.6-0.1 0.6-0.1 0.6-0.1 0.6-0.1 0.6-0.2 0.5-0.2 0.5-0.2 0.5-0.2 0.4-0.2 0.3-0.3 0.3-0.3 0.3-0.3 0.2-0.3 0.1-0.3 0-0.4 0-0.4-0.1-0.4-0.2-0.4-0.2" stroke="#1422ee" stroke-width="1.4" stroke-dasharray="1.4 0.9" fill="none"/>
<path d="M360.4 16.1l0 172.5 107.1 19.7 153.9-13.9M357.1 189l3.3-0.4M357.1 163.8l3.3-0.4M357.1 138.6l3.3-0.4M357.1 113.4l3.3-0.5M357.1 88.2l3.3-0.5M357.1 63l3.3-0.5M357.1 37.7l3.3-0.4M360.4 188.6l0 4.4M414 198.4l0 4.4M467.5 208.3l0 4.4M544.4 201.4l0 4.4M621.4 194.4l0 4.4" stroke="#303030" stroke-width="0.9" fill="none"/>
<g class="tk"><text x="353.8" y="189.8" text-anchor="end">-2</text><text x="353.8" y="164.6" text-anchor="end">0</text><text x="353.8" y="139.4" text-anchor="end">2</text><text x="353.8" y="114.1" text-anchor="end">4</text><text x="353.8" y="88.9" text-anchor="end">6</text><text x="353.8" y="63.7" text-anchor="end">8</text><text x="353.8" y="38.5" text-anchor="end">10</text><text x="358.4" y="200.6" text-anchor="middle">5</text><text x="411.8" y="210.4" text-anchor="middle">0</text><text x="416.6" y="221" text-anchor="middle" class="al">Im(ζ)</text><text x="467.9" y="220.7" text-anchor="middle">-5-5</text><text x="546" y="213.3" text-anchor="middle">0</text><text x="531.1" y="221.6" text-anchor="middle" class="al">Re(ζ)</text><text x="623" y="206" text-anchor="middle">5</text><text transform="translate(343.2 103.1) rotate(-90)" text-anchor="middle" class="zl" textLength="80.8" lengthAdjust="spacingAndGlyphs">F(ζ)=2πJ R(ζ,ζ)-K(ζ); J=2</text></g>
<text class="cap" x="478.8" y="249" text-anchor="middle">(b) <tspan class="it">F</tspan>(<tspan class="it">ζ</tspan>; 2)</text></g>
<g><path d="M52.5 467.5l128.6-11.9M186.1 455.1l19.9-1.9M206 453.2l107.7 20.1M52.5 449.9l106.7-9.9M208.5 436.1l105.2 19.6M52.5 432.3l98.2-9.1M216.8 420.1l96.9 18M52.5 414.7l86.2-8M228.6 404.7l85.1 15.8M52.5 397.1l69.3-6.4M244.9 390.1l68.8 12.8M52.5 379.6l46.3-4.3M265 376.3l48.7 9.1M52.5 362l18.4-1.7M97.9 357.8l62.2-5.8M238.5 353.8l43.2 8M291.1 363.6l22.6 4.2M52.5 344.4l153.5-14.3M206 330.1l107.7 20.1M52.5 326.8l153.5-14.3M206 312.5l107.7 20.1M52.5 309.2l153.5-14.2M206 295l107.7 20M129.2 460.4l0-63.6M129.2 358.3l0-70.1M259.8 463.3l0-83.6M259.8 361.2l0-70.1M206 453.2l0-13M206 334.1l0-53.1M313.7 473.3l0-172.2M237 480.4l-107.8-20M106.4 477.5l153.4-14.2M52.5 467.5l128.6-11.9M186.1 455.1l19.9-1.9M206 453.2l107.7 20.1" stroke="#dcdcdc" stroke-width="0.8" fill="none"/>
<path d="M188.1 469.9l-3-0.3-3.8 0-3.1 0.3-1 0.3-0.2 0.2 0.6 0.4 1.8 0.2 2.5 0.2 3 0 2.4-0.2 1.6-0.3 0.3-0.2 0-0.2-1.1-0.4" stroke="#33b8a1" stroke-width="0.95" fill="none"/>
<path d="M205.5 468.3l-5.5-0.7-7-0.3-8.7 0.1-9.8 0.3-6.4 0.6-5.4 0.9-4.2 1.1-0.8 0.4-0.2 0.3-0.1 0.2 0.3 0.4 0.8 0.3 2.2 0.6 3.2 0.4 4.9 0.4 9.8 0.2 13.1-0.4 4.7-0.4 3.9-0.5 4-0.8 3.1-0.7 1.1-0.6 0.3-0.4-0.1-0.2-1-0.6-2.2-0.6" stroke="#65be86" stroke-width="0.95" fill="none"/>
<path d="M212.7 467.7l-7-1-10.1-0.6-11.9-0.2-11.6 0.3-9.3 0.7-4.4 0.5-3.7 0.6-2.9 0.7-2.2 0.7-1.3 0.8-0.3 0.6 0.1 0.4 0.3 0.3 0.8 0.5 2.9 0.9 4.6 0.8 5.9 0.6 6.8 0.4 8.3 0.2 8.4-0.1 8-0.2 7.4-0.5 6.3-0.7 4.9-0.9 3.5-1 1.3-0.6 0.5-0.5 0.2-0.4-0.2-0.5-0.7-0.5-1.1-0.5-3.5-0.8" stroke="#97bf70" stroke-width="0.95" fill="none"/>
<path d="M223.8 466.6l-4.4-0.7-6.4-0.7-5.9-0.5-7.9-0.4-15.3-0.4-15.2 0.3-8 0.5-5.8 0.4-5.4 0.6-5.7 0.9-4.6 0.9-3.2 1.1-1.3 0.6-0.6 0.5-0.3 0.4-0.2 0.5 0.2 0.4 0.3 0.5 1.1 0.6 1.5 0.7 2.1 0.6 5.7 1.1 8.7 1.1 9 0.7 11.5 0.5 12 0 11.8-0.2 11-0.7 8.2-0.8 7.7-1.2 2.6-0.6 2.7-0.8 1.8-0.9 0.8-0.7 0.2-0.4 0-0.5-0.4-0.7-1.5-0.8-1.8-0.7-5-1.2" stroke="#c1bc60" stroke-width="0.95" fill="none"/>
<path d="M241 465l-6.2-1-9.2-1-8.3-0.7-11.3-0.7-9.5-0.3-12.2-0.2-12.3 0.2-9.6 0.3-11.4 0.6-8.5 0.6-7.6 0.9-8.3 1.2-6.5 1.4-2.1 0.5-2.5 1-1.8 0.9-0.8 0.6-0.4 0.7-0.1 0.6 0.3 0.7 0.6 0.6 1.5 1 2.3 0.9 3 0.9 3.7 0.8 4.4 0.8 4.9 0.7 7.5 0.8 12.7 1 16.4 0.7 17.2 0.2 16.9-0.5 15.7-0.9 11.8-1.2 5.2-0.7 5.9-1 3.7-0.9 3.8-1.1 2.6-1.3 1-1 0.3-0.6-0.1-0.7-0.8-0.9-0.9-0.6-1.3-0.7-2.5-0.9-3.3-0.9-3.9-0.8" stroke="#e6b950" stroke-width="0.95" fill="none"/>
<path d="M237.6 459.3l-15.5-1-20-0.8-20.8-0.2-20.8 0.3M99.1 463.3l-5.3 1.2-4.2 1.3-3.3 1.3-2.1 1.3-0.9 0.9-0.2 0.5-0.1 0.9 0.1 0.5 0.6 0.9 0.5 0.4 1.3 0.9M128.6 481.5l15.5 1 20 0.8 20.8 0.2 20.8-0.3M267.1 477.5l5.3-1.2 4.2-1.3 3.3-1.3 2.1-1.3 0.9-0.9 0.2-0.5 0.1-0.9-0.1-0.5-0.6-0.9-0.5-0.4-1.3-0.9" stroke="#ffc436" stroke-width="0.95" fill="none"/>
<g class="m">
<path d="M183.8 455.5l0.4-0.2M185.1 454.9l0.4-0.2M183.8 455.5l0.4-0.2M183.7 455.5l0.4-0.2M183.7 455.5l0.3-0.2M183.6 455.5l0.3-0.2M183.6 455.5l0.2-0.2M183.5 455.5l0.3-0.2M182.7 455.5l-0.3-0.2M182.6 455.5l-0.3-0.2M182.5 455.5l-0.3-0.2M182.5 455.5l-0.4-0.2M182.4 455.5l-0.3-0.2M182.4 455.5l-0.4-0.2M182.4 455.5l-1.4-0.5M182.3 455.5l-1.8-0.7M182.3 455.5l-1.9-0.7M179.4 454.2l-1-0.8M182.3 455.5l-2-0.7-2-1.4M182.3 455.5l-2.1-0.7-2-1.3M177.5 452.9l-2-2M182.2 455.5l-1-0.2-2.1-1-2-1.6-2.1-2.1M182.2 455.6l-1-0.3-2.1-1-2.1-1.6-2.1-2M182.2 455.6l-1-0.3-2.1-0.9-2.1-1.6-2.1-2M182.2 455.6l-1-0.2-2.1-1-2.1-1.5-2.1-2M182.2 455.6l-1-0.2-2.1-1-2.1-1.5-2.4-2.2M182.3 455.6l-1.1-0.2-2-0.9-2.1-1.5-2.4-2.2M182.3 455.6l-1-0.2-2-0.9-2.1-1.4-2.3-2.2M182.3 455.6l-1-0.2-1.9-0.8-2-1.5-2.3-2.1M182.3 455.6l-0.9-0.2-1.9-0.8-1.9-1.4-2.2-2.1M182.4 455.6l-1-0.1-1.8-0.9-1.8-1.4-2.1-2.1M182.4 455.6l-0.9-0.1-1.7-0.8-1.7-1.4-2-2.1M182.4 455.6l-0.8-0.1-1.6-0.8-1.6-1.4-2.1-2.2M182.5 455.6l-0.8-0.1-1.5-0.8-1.5-1.3-1.9-2.2M182.5 455.7l-0.7-0.2-1.4-0.7-1.4-1.4-1.7-2.1M182.6 455.7l-0.7-0.2-1.2-0.7-1.3-1.3-1.6-2.2M182.6 455.7l-0.5-0.2-1.2-0.7-1.1-1.3-1.4-2.2M182.7 455.7l-0.5-0.1-1-0.8-1-1.3-1.2-2.1M182.8 455.7l-0.5-0.1-0.8-0.7-0.8-1.4-0.9-1.7M182.8 455.7l-0.3-0.1-0.7-0.7-1.4-3.1M182.9 455.7l-0.3-0.1-0.5-0.7-1.1-3M183 455.7l-0.6-0.8-0.7-3M183 455.7l-0.3-0.8-0.4-3M183.1 455.7l-0.1-3.8M183.2 455.7l0.1-0.8 0.3-3M183.2 455.7l0.5-0.8 0.6-3.1M183.3 455.7l0.2-0.1 0.5-0.7 0.9-3.1M183.4 455.7l0.3-0.1 0.6-0.7 1.2-3.1M183.4 455.7l0.4-0.1 0.8-0.7 0.8-1.3 0.7-1.8M183.5 455.7l0.4-0.1 1-0.8 0.9-1.3 0.9-1.8M183.5 455.7l0.6-0.1 1-0.8 1.1-1.3 1.1-1.8M183.6 455.7l0.6-0.2 1.2-0.7 1.2-1.3 1.2-1.9M183.7 455.7l0.6-0.2 1.4-0.7 1.3-1.4 1.3-1.8M183.7 455.6l0.7-0.1 1.5-0.8 1.5-1.3 1.4-1.9M183.8 455.6l0.7-0.1 1.6-0.8 1.6-1.4 1.6-1.8M183.8 455.6l0.8-0.1 1.7-0.8 1.7-1.4 1.7-1.9M183.8 455.6l0.9-0.1 1.8-0.8 1.8-1.5 1.7-1.9M183.9 455.6l0.9-0.1 1.9-0.9 1.8-1.4 1.9-1.9M183.9 455.6l1-0.2 1.9-0.8 1.9-1.5 2-1.9M183.9 455.6l1-0.2 2-0.9 2-1.4 2-2M183.9 455.6l1.1-0.2 2-0.9 2-1.5 2.1-1.9M184 455.6l1-0.2 2.1-0.9 2-1.6 2.1-1.9M184 455.6l1-0.2 2.1-1 2.1-1.5 2.1-2M184 455.6l1-0.3 2.1-0.9 2.1-1.6 2.1-2M184 455.6l1-0.3 2.1-1 2.1-1.5 2.1-2M184 455.5l1-0.2 2.1-1 2.1-1.6 2.4-2.4M183.9 455.5l1.1-0.2 2-1 2.1-1.7 2.4-2.3M183.9 455.5l2-0.7 2.4-1.6M189 452.6l1.3-1.4M183.9 455.5l2-0.7 1.3-0.9M183.9 455.5l0.9-0.3 1.4-0.8M183.8 455.5l0.5-0.1M185.2 455l0.5-0.3M183.8 455.5l-1.6 0.1 1.2 0.1 0.5-0.1-0.1-0.1M181.5 455.2l-0.3 0.1 0.2 0.1 1.5 0.2 1.7-0.1 0.4-0.1-0.2-0.2M180.5 454.8l-0.4 0.2 0.6 0.2 2.6 0.1 2.4-0.2 0.4-0.2-0.6-0.2M179.4 454.2l-0.3 0.1 0 0.1 0.7 0.3 3.2 0.2 3.3-0.2 0.8-0.3-0.3-0.2M178.4 453.4l-0.4 0.3 0.7 0.3 3.9 0.3 4.3-0.2 1.2-0.3 0.1-0.2-0.2-0.1M177.3 452.6l-0.3 0.1 0 0.2 1.1 0.4 4.9 0.3 5-0.3 1.1-0.4 0.1-0.1-0.2-0.2M176.1 451.6l-0.2 0.2 0.2 0.3 1.1 0.3 2.5 0.3 3.3 0.1 3.3-0.1 2.5-0.3 1.4-0.4 0.1-0.2-0.3-0.2M174.9 451l1.5 0.5 3.4 0.3M191.3 450.7l-0.2-0.1" stroke="#35b89f"/>
<path d="M194.6 448l2.1 1.1 0.9 0.1 0.4-0.2M194.3 448l1.6 0.8 0.8 0.1M193.9 447.9l1.2 0.5 0.7 0M175 450.6l-0.4-0.4M174.9 450.7l-0.7-0.7M174.9 450.8l-0.7-0.7M174.9 450.9l-0.7-0.7M174.6 450.7l-0.7-0.7M174.7 450.8l-0.7-0.7M163.4 446.6l-0.9-1.1M174.9 450.9l-1-0.9M164.8 448.8l-0.7-0.6-1.7-2.4M175.1 451l-1-0.9M165.7 450.1l-1.1-0.8-1.1-1.5-1.1-1.8M175.4 451.1l-1.1-1M166.7 451l-0.4-0.1-1-0.8-1.2-1.5-1.3-2.2M175.7 451.1l-1.5-1.2M167.9 451.6l-0.9-0.2-1-0.7-1.1-1.5-1.4-2.7M176.1 451.2l-1.5-1.2-0.4-0.2M169.9 451.3l-1.3 0.6-0.8-0.2-1-0.7-1-1.5-1.4-2.7M176.3 451.1l-1.2-1.1-0.8-0.3-0.4-0.1M170.7 451.4l-1.2 0.5-0.9-0.2-0.8-0.7-1-1.4-1.3-2.8M176.8 451.2l-1.1-1.1-0.8-0.4-0.7-0.1M172.6 450.4l-1.5 1.1-0.7 0.2-0.8-0.2-0.8-0.7-0.9-1.5-1-2.2M177.3 451.3l-1-1.2-0.7-0.4-0.7-0.1-0.7 0.2-2.1 1.3-0.7 0.1-0.7-0.2-0.7-0.7-0.9-1.5-0.7-1.6M177.8 451.3l-0.9-1.2-0.6-0.4-0.7-0.2-0.6 0.1-1.9 1-0.6 0-0.7-0.3-0.6-0.8-1.2-2.5M178.4 451.3l-0.8-1.2-0.6-0.5-0.6-0.3-0.5 0-1.7 0.7-0.6-0.1-0.6-0.4-0.6-0.9-0.6-1.4M179 451.4l-0.7-1.3-1-0.9-0.5-0.1-1.5 0.1-0.5-0.2-0.5-0.5-0.7-1.3M179.8 451.8l-1.2-2.4-0.9-0.7-1.2-0.2-0.4-0.4-0.7-1M180.4 451.8l-0.7-1.7-0.6-1.3-1.7-1.6M181 451.9l-1-3.3-1.1-1.6M181.7 451.9l-0.7-3.5-0.6-1.6M182.3 451.9l-0.6-4.9M183 451.9l-0.1-4.9M183.6 451.9l0.4-5.1M184.3 451.8l0.8-5.1M184.9 451.8l1.2-5.2M185.5 451.8l1.6-4.9M186.1 451.8l2-5M186.7 451.7l2.3-4.9M187.3 451.7l2.7-5M187.8 451.6l3-5M188.3 451.6l3.4-5.1M188.8 451.5l3.7-5M189.3 451.5l3.9-5.1M189.7 451.4l4.2-5.1M190 451.3l4.8-5.4M190.4 451.3l4.9-5.4M190.7 451.2l2.8-3.2 2.3-2.1M190.9 451.1l3-3.1 2.6-2.3M191.1 451.1l3-3.1 3.1-2.5M191.2 451l3.1-3.1 2.1-1.5 1.5-0.9M191.3 450.9l2.1-2.1 2.1-1.6 3.6-1.9M191.3 450.8l2.1-2 2.1-1.5 4.2-1.7 1.1-0.5M191.3 450.8l2.1-2 2.1-1.4 1.1-0.4 3.1-0.7 1.1-0.5 1.4-1M191.6 450.3l1.7-1.6 1.1-0.7 1-0.5 1.1-0.3 3.1-0.2 1-0.4 1.1-0.6 1.4-1.4M191.5 450.3l1.7-1.6 1-0.7 1-0.4 1.1-0.1 3 0.1 1.1-0.2 1-0.5 1.1-1 1.2-1.7M192.3 449.2l1.7-1.2 1-0.3 1-0.1 3 0.6 1-0.1 1-0.5 1.1-0.9 1.7-2.6M193.2 448.3l0.5-0.3 1-0.3 0.9 0.1 3 0.9 1-0.1 0.9-0.4 1.1-0.9 1.1-1.6 1.1-1.9M194.3 447.8l0.9 0.1 2.9 1.1 0.9 0 0.9-0.3 1-0.9 1.4-2.1M194.3 447.8l0.4 0.1 2.7 1.2 0.9 0.1 0.9-0.3 1-0.9M175 450.6l-0.1 0.2 0 0.2M179.8 451.8l4.5 0 3.5-0.2 2.9-0.4 0.6-0.3 0-0.2M173.9 450l1.2 0.6 1.9 0.2 6.7 0.1 6.4-0.5 2-0.4 0.3-0.2-0.2-0.2M174.2 449.9l1.5 0.2 1.9 0 10-0.4 4.6-0.6 1.2-0.3-0.4-0.1M174.3 449.7l2 0 6.6-0.7 6-0.4 4.8-0.6M173.8 449.6l1.8-0.1 7.3-1.3 7.3-0.6 4.3-0.5 0.9 0 0.1 0.3-0.5 0.3-0.7 0.1M174.2 449.8l7.6-2.2 5.3-0.7M194.2 446.2l1.7 0 0.6 0.4 0.1 0.4-0.3 0.5-0.7 0.3-0.9 0.1M195 448.2l-1.1-0.3M172.6 450.4l1.8-0.5 5.1-2.2 2.2-0.7M197.4 445.8l0.2 1-0.6 1-0.8 0.4-1.2 0M195.9 448.7l-2-0.8M171.5 451.1l2.2-0.8 5.9-3.1M198.6 445.6l-0.1 1.5-0.5 1-0.9 0.6-1.2 0M196.7 449.1l-0.8-0.3-1.3-0.7M169.5 451.6l0.8 0 1.8-0.5 6.4-3.9M199.7 445.3l-0.1 1.7-0.6 1.2-0.9 0.8-1.4 0.1M197.6 449.2l-1.8-0.8M167.5 451.3l1.1 0.6 0.9 0 0.9-0.2 2.1-1.1 4.9-3.4M200.8 445.5l-0.4 1.9-0.8 1.2-0.6 0.4-0.7 0.2-0.7 0M165.4 449.6l0.9 1.3 0.7 0.5 0.8 0.3 0.8 0 1-0.2 2.2-1.2 4.3-3.1M201.8 445.1l-0.4 1.8-0.9 1.3-0.6 0.5-1.1 0.2M164 447.8l0.6 1.5 0.7 0.8 0.7 0.6 0.8 0.3 1 0 1-0.2 1.2-0.5 4.3-3M202.8 445l-0.7 1.7-0.5 0.6-0.7 0.5-0.7 0.2M162.8 446.3l0.7 1.5 0.6 0.8 0.8 0.6 0.9 0.3 1 0.1 1.1-0.3 1.2-0.5 2.2-1.3M203.5 444.6l-0.8 1.1-0.6 0.5M163.3 446.7l1.3 0.6 1.1 0 0.8-0.1" stroke="#29b6a7"/>
<path d="M162.5 445.5l-3-5.3M162.4 445.8l-2.9-5.3M162.4 446l-2.7-5.5M162.8 446.4l-2.5-5.6M163.5 446.5l-2.4-5.6M164.4 446.8l-2.2-5.6M165.5 446.8l-2.1-5.3M166.9 447.1l-1.9-5.2M168.4 447.2l-1.8-5.2M170 447l-1.8-5M171.8 447.2l-1.7-5M173.6 447.2l-1.7-5.3M175.4 447.1l-0.7-2-0.8-3.1M177.4 447.2l-0.7-1.6-0.9-3.6M178.9 447l-0.5-1.4-0.7-3.6M180.4 446.8l-0.5-2-0.4-2.7M181.7 447l-0.6-5.2M182.9 447l-0.1-5.3M184 446.8l0.3-4.7M185.1 446.7l0.7-4.9M186.1 446.6l1.2-4.7M187.1 446.9l1.6-5.2M188.1 446.8l2-5.2M189 446.8l2.5-5.3M190 446.7l1.6-2.7 1.2-2.6M190.8 446.6l1.9-2.7 1.4-2.6M191.7 446.5l2-2.7 1.6-2.6M192.5 446.5l2.2-2.9 1.7-2.6M193.2 446.4l2.4-2.9 1.8-2.6M193.9 446.3l2.5-2.8 2-2.7M194.8 445.9l2.3-2.5 2.1-2.6M195.3 445.9l2.5-2.5 2.5-3M195.8 445.9l3.5-3.3 1.7-2M196.5 445.7l3.3-2.9 2.4-2.8M197.2 445.5l3-2.3 1.1-1 1.6-2.1M197.9 445.5l1.6-1 2.1-1.7 2.3-2.9M199.1 445.3l1.6-0.9 1.1-0.9 1.1-1.2 1.8-2.6M200.8 445.1l1-0.8 1.2-1.2 2.6-3.9M202.2 444.8l2-2.4 1.9-3.2M203.1 444.6l0.9-1.3 2.5-4.3M203.7 444.2l3-5.4M203.8 444.1l2.9-5.6M203.8 443.8l0.8-1.6M205.3 440.6l0.3-0.5M187.1 446.9l7.1-0.7M181.7 447l3.4-0.7 10.3-1 1.5 0.1 0.5 0.4M179.6 447.2l3.2-1.2 2.5-0.5 10.3-1.1 1.3 0 1 0.2 0.3 0.2 0.4 0.8M178.5 447.2l3-1.5 3.9-1.1 11-1.1 1.4-0.1 1 0.4 0.7 0.7 0.2 0.8M177.4 447.2l4-2.2 2.8-1 4.1-0.8 8.9-0.8 1.5 0 1.1 0.4 0.7 0.9 0.3 1.8M176.1 447.2l3.8-2.4 1.4-0.8 3-1 4.3-0.8 9.5-0.9 1.6 0 0.6 0.2 1 0.7 0.5 1.3 0 1.6M174.3 447.3l2.4-1.7 3-1.9 3.6-1.6M201.9 440.5l0.4 0.4 0.6 1.4 0 1.7-0.1 1M162.4 445l0.4 1.3M171.3 447.5l4.9-3.4 3.3-2M204 440.2l0.2 1.3 0 0.9-0.2 0.9-0.5 1.3M161 442.8l0.5 1.6 0.6 1.1 1.2 1.2M166.5 447.2l1.7-0.6 1.3-0.7 5.9-3.6M205.6 439.7l-0.2 1.3-0.3 0.9-1 1.4M159.7 440.6l0.9 1.8 0.8 0.9 0.9 0.6 1 0.3 1.2 0.1 1.2-0.2 1.4-0.4 3-1.5M206.5 439.2l-0.9 0.9" stroke="#1fb3ae"/>
<path d="M159.7 440l-2.9-5.6M159.5 440.2l-2.8-5.7M159.5 440.5l-2.5-5.5M159.7 440.5l-2.4-5.6M160.3 440.8l-2.2-5.2M161.1 440.9l-2.1-5.3M162.2 441.2l-2-5.2M163.4 441.5l-1.9-5.4M165 441.9l-1.9-5.3M166.6 442l-1.9-5.7M168.2 442l-1.6-5.5M170.1 442.2l-1.6-5.7M171.9 441.9l-1.3-5.1M173.9 442l-1.2-5M175.8 442l-1.1-5.3M177.7 442l-0.9-5M179.5 442.1l-0.6-4.9M181.1 441.8l-0.3-4.8M182.8 441.7l-0.1-4.7M184.3 442.1l0.2-5M185.8 441.8l0.6-5.1M187.3 441.9l0.9-5.5M188.7 441.7l1.1-4.9M190.1 441.6l1.4-5M191.5 441.5l1.6-4.9M192.8 441.4l1.9-4.9M194.1 441.3l2.1-4.9M195.3 441.2l2.4-5M196.4 441l2.6-4.9M197.4 440.9l2.8-5M198.4 440.8l3.2-5.4M199.2 440.8l3.5-5.5M200.3 440.4l3.3-5.1M201 440.6l3.7-5.6M202.2 440l3.5-5.3M202.9 440.1l3.6-5.5M203.9 439.9l3.5-5.7M204.7 439.7l3.3-5.4M205.6 439.2l3-5.2M206.1 439.2l3-5.5M206.5 439l2.9-5.6M206.7 438.8l2.8-5.9M206.7 438.5l1.5-3.5M208.7 434l0.5-1.1M183.3 442.1l4.1-1 11.6-1.2 1.6 0.1 1.3 0.5M179.5 442.1l3.3-1.4 3.3-0.9 3.2-0.5 10.7-1 1.8 0 0.7 0.2 1.1 0.8 0.4 0.9M175.4 442.3l3.8-2.2 1.8-0.7 3.5-1.2 5.2-0.8 11.4-1.1 1.9 0 1.4 0.4 0.9 1 0.2 0.7 0.1 1.3M159.1 438.5l0.6 2.1M170.1 442.2l7-3.7 3.2-1.4M206.7 434.8l0.5 0.9 0 1.5-0.2 0.9-0.5 1.1M157.2 434.5l0.5 2 0.5 1.1 0.7 1 0.8 0.7 1 0.6 1.1 0.3 1.2 0.1 2.8-0.4 3.3-1.3 3.6-1.6M209 434l-0.5 1-0.5 0.6" stroke="#16b1b4"/>
<path d="M156 432l-1.9-3.5M156.8 434.4l-3-5.9M156.7 434.5l-2.7-5.5M157 435l-2.7-5.7M157.3 434.9l-2.4-5.3M158.1 435.6l-2.5-5.9M159 435.6l-2.3-5.4M160.2 436l-2.2-5.5M161.5 436.1l-2-5.4M163.1 436.6l-2-5.9M164.7 436.3l-1.7-5.2M166.6 436.5l-1.5-5M168.5 436.5l-1.3-4.9M170.6 436.8l-1.3-5.2M172.7 437l-1.2-5.6M174.7 436.7l-0.9-4.8M176.8 437l-0.8-5.2M178.9 437.2l-0.6-5.4M180.8 437l-0.3-5.2M182.7 437l0-5.1M184.5 437.1l0.3-5.6M186.4 436.7l0.5-5M188.2 436.4l0.7-4.9M189.8 436.8l1.2-5.5M191.5 436.6l1.4-5.4M193.1 436.6l1.8-5.6M194.7 436.5l2-5.6M196.2 436.4l2.3-5.7M197.7 436.2l2.5-5.6M199 436.1l2.7-5.7M200.2 435.9l2.9-5.5M201.6 435.4l2.8-5.2M202.7 435.3l2.9-5.2M203.6 435.3l3.1-5.3M204.7 435l3.2-5.4M205.7 434.7l3.2-5.5M206.5 434.6l3.4-5.7M207.4 434.2l3.3-5.6M208 434.3l3.2-5.8M208.6 434l3.1-5.6M209.1 433.7l3-5.7M209.4 433.4l3-6M209.5 432.9l2.7-5.7M180.3 437.1l2.4-0.7 3.8-0.9 15.9-1.6 2.9 0.1 0.7 0.2 0.7 0.6M172.7 437l5.9-2.3 2-0.6 4.1-1 4.1-0.6 9.3-0.7 7-0.8 1.9 0 1.3 0.5 0.7 0.9 0.2 0.6-0.2 1M154.9 429.9l0.6 2.1 0.6 1 0.7 0.9 0.9 0.7 1.1 0.5 1.2 0.3 1.3 0.2 1.5-0.1 3.3-0.6 9.4-3M211.4 428.9l-0.3 1-0.7 0.7" stroke="#0eaeba"/>
<path d="M154.1 428.5l-3.2-5.8M153.8 428.5l-3-5.5M154 429l-3-5.7M154.3 429.3l-2.9-5.7M154.9 429.6l-2.6-5.3M155.6 429.7l-2.5-5.4M156.7 430.2l-2.4-5.4M158 430.5l-2.3-5.4M159.5 430.7l-2.2-5.4M161.1 430.7l-2-5.3M163 431.1l-1.9-5.2M165.1 431.5l-1.9-5.6M167.2 431.6l-1.7-5.4M169.3 431.6l-1.5-5.4M171.5 431.4l-1.2-5.1M173.8 431.9l-1.1-5.4M176 431.8l-0.8-5.3M178.3 431.8l-0.6-5.2M180.5 431.8l-0.3-5M182.7 431.9l-0.1-5.4M184.8 431.5l0.2-4.8M186.9 431.7l0.5-5.2M188.9 431.5l0.8-5.2M191 431.3l1-5.2M192.9 431.2l1.4-5.2M194.9 431l1.6-5.2M196.7 430.9l1.9-5.2M198.5 430.7l2.1-5.2M200.2 430.6l2.3-5.3M201.7 430.4l2.6-5.3M203.1 430.4l2.9-5.5M204.4 430.2l2.9-5.1M205.6 430.1l3.3-5.7M206.7 430l3.4-5.7M207.9 429.6l3.2-5.4M208.9 429.2l3.4-5.5M209.9 428.9l3.1-5.2M210.7 428.6l3.1-5.2M211.2 428.5l3.3-5.5M211.7 428.4l3.4-6M212.1 428l3.2-5.9M212.4 427.4l3-5.6M212.2 427.2l1.3-2.6M214.4 423l0.8-1.6M175.5 431.9l4.9-1.2 4.5-0.8 4.3-0.5 10.1-0.8 7.7-0.9 2-0.1 1.5 0.3 0.4 0.2 0.5 0.8M152.3 425.1l0.7 1.8 1.4 1.6 1 0.6 1.1 0.5 2.8 0.6 1.6 0 3.6-0.4 15.7-3M213.5 423.9l0.3 0.1 0.1 0.6-0.2 0.2-0.8 0.4" stroke="#09abbf"/>
<path d="M148.4 418.1l-0.6-1M150.9 422.7l-3.4-5.3M150.8 423l-3.3-5.4M151 423.3l-3.3-5.5M151.4 423.6l-3-5.1M152.3 424.3l-3.2-5.8M153.1 424.3l-2.9-5.2M154.3 424.8l-2.7-5.3M155.7 425.1l-2.6-5.2M157.3 425.3l-2.4-5.2M159.1 425.4l-2.3-5.1M161.1 425.9l-2.1-5.3M163.2 425.9l-2-5.4M165.5 426.2l-1.8-5.2M167.8 426.2l-1.5-5.1M170.3 426.3l-1.3-4.8M172.7 426.5l-1.1-4.9M175.2 426.5l-0.9-5.2M177.7 426.6l-0.6-5M180.2 426.8l-0.4-5.5M182.6 426.5l-0.1-4.8M185 426.7l0.2-5.2M187.4 426.5l0.5-5.2M189.7 426.3l0.9-5.1M192 426.1l1.2-5.1M194.3 426l1.5-5.1M196.5 425.8l1.7-5M198.6 425.7l2-5.1M200.6 425.5l2.3-5.1M202.5 425.3l2.5-5.1M204.3 425.1l2.8-5.1M206 424.9l2.9-5.1M207.3 425.1l3.3-5.6M208.9 424.4l3.2-5.1M210.1 424.3l3.4-5.3M211.1 424.2l3.5-5.3M212.3 423.7l3.6-5.4M213 423.7l3.7-5.5M213.8 423.4l3.8-5.8M214.5 423l3.7-5.7M215.1 422.4l3.3-5.2M215.3 422.1l3.4-5.4M215.4 421.8l3.3-5.6M180.2 426.8l7.2-0.8 13.4-1 10.6-1.3 2.1 0.2M149.1 419.4l0.3 1.2 0.5 0.7 1.6 1.4 1 0.5 2.8 0.8 1.6 0.2 3.7 0.2 4.2-0.3 17.7-1.9 20.1-1.3 6-0.7 7.4-1.1 1 0 0.1 0.1-0.3 0" stroke="#06a8c4"/>
<path d="M147.8 417.1l-0.6-0.9M147.5 417.4l-2.2-3.4-1.7-2.2M147.5 417.6l-1.9-2.9-2.1-2.7M147.7 417.8l-1.6-2.5-2-2.7M148.4 418.5l-1.5-2.6-2.3-3.2M149.1 418.5l-1.2-2-2.3-3.2M150.2 419.1l-1.1-2.1-2.4-3.5M151.6 419.5l-1.1-2.1-2.3-3.5M153.1 419.9l-1-2.1-2.1-3.5M154.9 420.1l-1-2-2-3.5M156.8 420.3l-0.9-2-1.9-3.4M159 420.6l-1-2.2-1.6-3.1M161.2 420.5l-2.3-5.1M163.7 421l-2.1-5.3M166.3 421.1l-2-5.4M169 421.5l-1.7-5.5M171.6 421.6l-1.3-5.1M174.3 421.3l-1-4.9M177.1 421.6l-0.8-5.5M179.8 421.3l-0.4-4.7M182.5 421.7l0-5.2M185.2 421.5l0.3-5.2M187.9 421.3l0.7-5.1M190.6 421.2l1-5.1M193.2 421l1.3-5M195.8 420.9l1.6-5.1M198.2 420.8l2-5M200.6 420.6l2.2-5M202.9 420.4l2.5-5.1M205 420.2l2.8-5.1M207.1 420l2.9-5.1M208.9 419.8l3.2-5.2M210.6 419.5l3.5-5.2M212.1 419.3l3.6-5.2M213.5 419l3.8-5.2M214.6 418.9l4-5.4M215.9 418.3l4.2-5.5M216.7 418.2l4.2-5.5M217.6 417.6l4.3-5.6M218.2 417.3l2.6-3.7 1.5-1.8M218.4 417.2l2.6-3.7 1.7-2.2M218.7 416.7l2.2-3.4 1.7-2.2M218.7 416.2l2.6-3.9M145.3 413.7l0.3 1 1.3 1.2 2.2 1.1 1.4 0.4 1.6 0.4 3.8 0.5 6.9 0.1 31.4-1.3 10.7-0.7 6.6-0.8 5.1-0.9 3.8-0.9 0.6-0.3-0.4-0.3" stroke="#06a4c9"/>
<path d="M143.2 410.7l-2.8-3.5M143.6 411.8l-3.1-4-1.6-1.7M143.5 412l-2.7-3.6-1.5-1.7M144.1 412.6l-2.7-3.6-1.5-1.7M144.6 412.7l-2.3-3.2-1.9-2.1M145.6 413.3l-2.2-3.3-2-2.2M146.7 413.5l-2-3-1.8-2.3M148.2 413.9l-1.9-2.9-1.8-2.3M150 414.3l-1.9-3-1.7-2.2M151.9 414.6l-1.7-2.9-1.8-2.4M154 414.9l-1.6-3-1.3-1.8M156.4 415.3l-1.6-3.1-1.2-2M158.9 415.4l-1.5-3.1-1.1-1.9M161.6 415.7l-2.3-4.8M164.3 415.7l-2-4.7M167.3 416l-1.9-5.1M170.3 416.5l-1.6-5.5M173.3 416.4l-1.1-4.9M176.3 416.1l-0.8-4.7M179.4 416.6l-0.5-5.2M182.5 416.5l-0.1-5.2M185.5 416.3l0.3-5M188.6 416.2l0.7-5M191.6 416.1l1.1-5M194.5 416l1.5-5.1M197.4 415.8l1.8-4.9M200.2 415.8l2.2-5.1M202.8 415.6l2.6-5.1M205.4 415.3l2.8-5M207.8 415.1l3.2-5.1M210 414.9l3.5-5.1M212.1 414.6l3.7-5.1M214.1 414.3l3.9-5.2M215.7 414.1l4.2-5.3M217.3 413.8l4.3-5.3M218.6 413.5l4.5-5.3M220.1 412.8l4.6-5.4M220.9 412.7l4.8-5.7M221.9 412l4.5-5.3M222.3 411.8l4.5-5.4M222.7 411.3l3.1-3.9 1.6-1.7M222.6 411.1l3.1-4 1.6-1.8M140.4 407.2l0.1 0.6 0.3 0.6 1.5 1.1 2.4 1 3.4 0.8 4.3 0.6 5 0.4 11.8 0.3 23.2-0.4 9.5-0.5 5.7-0.4 7.5-0.9 5.7-1 2.7-0.7 1.7-0.7 0.6-0.6-0.1-0.3" stroke="#06a0cd"/>
<path d="M138.8 405.5l-1.1-1.2M136.5 403l-1.6-1.7M138.9 406.1l-5.1-5.5M139.3 406.7l-5.1-5.5M139.9 407.3l-5-5.6M140.4 407.4l-4.5-5.1M141.4 407.8l-4.7-5.4M142.9 408.2l-4.6-5.3M144.5 408.7l-4.4-5.4M146.4 409.1l-3.4-4.5-0.8-0.9M148.4 409.3l-3.8-5.2M151.1 410.1l-3.6-5.2M153.6 410.2l-3.3-5M156.3 410.4l-3-5M159.3 410.9l-2.8-5.3M162.3 411l-2.4-5.2M165.4 410.9l-2-4.9M168.7 411l-1.7-4.9M172.2 411.5l-1.5-5.4M175.5 411.4l-1-5.2M178.9 411.4l-0.4-4.6M182.4 411.3l-0.1-4.6M185.8 411.3l0.3-4.6M189.3 411.2l0.7-4.6M192.7 411.1l1-4.6M196 410.9l1.5-4.5M199.2 410.9l1.9-4.7M202.4 410.7l2.2-4.7M205.4 410.5l2.6-4.7M208.2 410.3l3-4.8M211 410l3.3-4.8M213.5 409.8l3.7-5M215.8 409.5l4-5M218 409.1l4.2-5M219.9 408.8l4.5-5.1M221.6 408.5l4.8-5.3M223.1 408.2l4.9-5.4M224.7 407.4l4.7-5M225.7 407l4.8-5.1M226.4 406.7l5.4-5.6M226.8 406.4l5.5-5.8M227.4 405.7l5.1-5.5M227.3 405.3l0.4-0.4M228.9 403.6l1.1-1.3M231.2 401l0.4-0.4M134.1 400.4l0.1 0.6 0.4 0.6 0.7 0.5 2.3 1.1 3.3 1 4.4 0.8 5.4 0.6 9.5 0.7 16.6 0.4M230.9 401.7l1-0.7 0.2-0.4" stroke="#079cd0"/>
<path d="M130.8 397.3l-0.9-0.7M133.8 400.6l-5.9-5.4M134.2 401.2l-6.2-5.7M134.9 401.7l-6.1-5.6M135.9 402.3l-6-5.6M136.7 402.4l-5.3-5.2M138.3 402.9l-5.1-5M140.1 403.3l-4.8-4.9M142.2 403.7l-4.5-4.7M144.6 404.1l-4.2-4.7M147.5 404.9l-4.5-5.4M150.3 405.2l-4.1-5.3M153.3 405.4l-3.7-5.1M156.5 405.6l-3.2-4.9M159.9 405.8l-2.8-4.9M163.4 406l-2.4-4.7M167 406.1l-1.9-4.7M170.7 406.1l-1.4-4.4M174.5 406.2l-0.9-4.4M178.5 406.8l-0.6-5M182.3 406.7l-0.1-4.7M186.1 406.7l0.4-4.7M190 406.6l0.8-4.9M193.7 406.5l1.4-4.9M197.5 406.4l1.8-4.9M201.1 406.2l2.4-5M204.6 406l2.9-5.1M208 405.8l3.4-5.3M211.2 405.5l3.8-5.3M214.3 405.2l3.9-5M217.2 404.8l4.2-5M219.8 404.5l4.7-5.2M222.2 404.1l5.2-5.3M224.4 403.7l5.5-5.4M226.4 403.2l5.7-5.5M228 402.8l6-5.6M229.4 402.4l6.2-5.7M230.5 401.9l6-5.4M231.8 401.1l5.6-5.2M232.3 400.6l5.7-5.2M232.5 400.2l5.9-5.4M176.8 406.7l16.9-0.2 10.9-0.5 6.6-0.5 6-0.7 7.2-1.1 3.6-0.9 2.9-1.1" stroke="#0a96d1"/>
<path d="M127.8 394.6l-0.4-0.4M127.9 395.2l-2.1-1.9-5-3.9M128 395.5l-1.7-1.6-4.7-3.6M128.8 396.1l-1.7-1.6-4.6-3.6M129.9 396.7l-1.7-1.6-4.5-3.6M131.4 397.2l-1.7-1.5-4.6-3.7M133.2 397.9l-1.6-1.7-4.7-3.8M135.3 398.4l-1.6-1.7-4.5-3.7M137.7 399l-1.6-1.8-4-3.4M140.4 399.4l-1.5-1.7-4-3.6M143 399.5l-1.1-1.4-3.5-3.3M146.2 399.9l-1.1-1.4-3.3-3.4M149.6 400.3l-1-1.4-3-3.4M153.3 400.7l-1-1.5-2.8-3.6M157.1 400.9l-0.9-1.4-2.3-3.3M161 401.3l-0.7-1.6-2.1-3.4M165.1 401.4l-2.2-4.6M169.3 401.7l-1.8-5M173.6 401.8l-1.3-5M177.9 401.8l-0.7-4.6M182.2 402l-0.1-4.7M186.5 402l0.4-4.8M190.8 401.7l1.1-4.9M195.1 401.6l1.6-4.9M199.3 401.5l2-4.8M203.5 401.2l2.4-4.7M207.5 400.9l3.1-4.9M211.4 400.5l3.4-4.6M215 400.2l1.1-1.4 2.6-3.1M218.2 400.2l1.4-1.8 3.2-3.4M221.4 399.8l1.6-1.8 3.3-3.2M224.5 399.3l1.6-1.7 3.4-3.1M227.4 398.8l1.6-1.7 3.8-3.3M229.9 398.3l1.6-1.6 4.1-3.5M232.1 397.7l1.7-1.6 4.1-3.3M234 397.2l1.7-1.6 4.6-3.6M235.6 396.7l1.8-1.6 4.7-3.7M236.5 396.5l2.2-2 4.6-3.5M237.4 395.9l2.2-1.9 4.7-3.6M238 395.4l2.2-2 4.8-3.7M238.4 394.8l1.2-1.2M241.8 391.8l3.7-2.9M125.8 393l0 0.3 0.5 0.6 0.8 0.6 2.6 1.2 4 1 2.4 0.5 5.8 0.9 6.7 0.8 11.7 0.8 8.5 0.3 13.4 0.2 13.4-0.2 8.6-0.4 11.9-0.8 6.9-0.8 6-0.9 6.7-1.5 3-1.1 0.9-0.5 0.7-0.9" stroke="#0f90d2"/>
<path d="M239.4 378.7l0.4-0.5M235.4 379l1.1-1.3M231 379.4l1.9-2.3M226.8 379.5l2.2-2.9M222.8 379.1l1.9-2.9M218.4 378.8l1.9-3M214 378.5l1.6-3.1M209.2 378.3l1.5-3.2M204.6 377.5l1-2.7M199.8 376.9l0.6-2.3M194.7 376.2l0.4-1.7M189.6 375l0.1-0.6M120.8 389.4l-6.8-5.3M121.6 390.3l-7.1-5.5M122.5 390.9l-7-5.4M123.7 391.5l-6.8-5.3M125.1 392l-6.4-5.1M126.9 392.4l-6-4.9M129.2 393l-5.8-4.8M132.1 393.8l-5.7-5M134.9 394.1l-5.2-4.8M138.4 394.8l-5.1-5M141.8 395.1l-4.6-4.8M145.6 395.5l-4.1-4.7M149.5 395.6l-3.6-4.4M153.9 396.2l-3.3-4.7M158.2 396.3l-2.7-4.5M162.9 396.8l-2.3-4.7M167.5 396.7l-1.7-4.4M172.3 396.8l-1.2-4.4M177.2 397.2l-0.7-4.7M182.1 397.3l-0.1-4.8M186.9 397.2l0.5-4.7M191.9 396.8l0.9-4.4M196.7 396.7l1.5-4.4M201.3 396.7l2.1-4.6M205.9 396.5l2.6-4.6M210.6 396l2.9-4.4M214.8 395.9l3.5-4.7M218.7 395.7l4.2-4.9M222.8 395l4.4-4.6M226.3 394.8l5-4.9M229.5 394.5l5.5-5.1M232.8 393.8l5.7-4.9M235.6 393.2l6-4.9M237.9 392.8l6.4-5.2M240.3 392l6.4-5M242.1 391.4l6.5-5.1M243.3 391l6.9-5.3M244.3 390.4l7-5.4M245 389.7l7.1-5.4M250.5 385l0.5-0.4" stroke="#138ad3"/>
<path d="M239.8 378.2l7.2-6.3M236.5 377.7l6.8-6.4M232.9 377.1l6.5-6.6M229 376.6l5.7-6.5M224.7 376.2l5.3-6.6M220.3 375.8l4.8-6.9M215.6 375.4l4-6.6M210.7 375.1l3.6-6.9M205.6 374.8l2.9-6.9M200.4 374.6l2.1-6.7M195.1 374.5l1.5-7M189.7 374.4l0.8-7M184.3 373.8l0.1-6.4M178.6 372l-0.4-4.6M172.8 371l-0.7-3.5M166.8 370.1l-0.6-2.2M160.4 368.7l-0.2-0.6M155.1 369.7l-0.8-1.6M150 370.7l-1.2-2M145.3 371.7l-2-2.9M141.2 373.2l-2.9-3.7M137.1 374.2l-3.9-4.5M133.3 375.2l-4.5-4.7M129.5 375.8l-5.1-4.9M126 376.4l-5.3-4.7M122.4 376.7l-5.4-4.5M119.2 377l-5.1-4M115.8 377l-4.3-3.2M112.3 376.8l-2.8-2.1M109.2 376.5l-1.5-1M114 384.1l-0.5-0.3M108.9 380.9l-4-2.6M114.5 384.8l-9-5.7M115.5 385.5l-8.6-5.4M116.9 386.2l-8.4-5.3M118.7 386.9l-8.4-5.4M120.9 387.5l-7.9-5.1M123.4 388.2l-7.7-5.3M126.4 388.8l-7.2-5M129.7 389.3l-6.7-4.9M133.3 389.8l-6.5-5M137.2 390.3l-5.9-4.9M141.5 390.8l-5.3-4.7M145.9 391.2l-4.6-4.6M150.6 391.5l-4.2-4.8M155.5 391.8l-3.6-4.7M160.6 392.1l-2.8-4.5M165.8 392.3l-2.2-4.7M171.1 392.4l-1.6-4.9M176.5 392.5l-0.8-4.6M182 392.5l-0.2-4.6M187.4 392.5l0.6-4.6M192.8 392.4l1.3-4.9M198.2 392.3l2-4.9M203.4 392.1l2.7-4.7M208.5 391.9l3.4-4.7M213.5 391.6l3.8-4.5M218.3 391.2l4.4-4.6M222.9 390.8l5.2-4.8M227.2 390.4l5.8-4.9M231.3 389.9l6-4.8M235 389.4l6.6-4.9M238.5 388.9l7.2-5.2M241.6 388.3l7.4-5.1M244.3 387.6l8-5.2M246.7 387l8-5.2M248.6 386.3l8.6-5.4M250.2 385.7l8.5-5.4M251.3 385l8.9-5.7M252.1 384.3l9-5.8M257 375.3l1-0.7M252.7 376.3l3.2-2.5M248.1 377.3l5.1-4M243.7 378.1l6.8-5.7M239.8 378.2l-10.8-1.6-13.4-1.2-15.2-0.8-14-0.2M114 384.1l0.5 0.7 1 0.7 1.4 0.7 4 1.3 5.5 1.3 6.9 1 8.2 1 14 1 10.3 0.5 16.2 0.2 16.2-0.2 10.3-0.4 14.4-1.1 8.4-0.9 7.2-1 3.1-0.6 5.1-1.3 3.5-1.3 1.1-0.7 0.8-0.7 0.1-0.4M241.3 378.5l-1.5-0.3" stroke="#1484d4"/>
<path d="M247 371.9l7.2-6.3M243.3 371.3l6.7-6.4M239.4 370.5l6.1-6.3M234.7 370.1l5.8-6.5M230 369.6l5.2-6.5M225.1 368.9l4.5-6.3M219.6 368.8l4.1-6.6M214.3 368.2l3.3-6.4M208.5 367.9l2.7-6.4M202.5 367.9l2.2-6.6M196.6 367.5l1.5-6.4M190.5 367.4l0.8-6.4M184.4 367.4l0.1-6.5M178.2 367.4l-0.5-6.4M172.1 367.5l-1.1-6.4M166.2 367.9l-1.9-6.7M160.2 368.1l-2.5-6.7M154.3 368.1l-3-6.4M148.8 368.7l-3.8-6.6M143.3 368.8l-4.3-6.3M138.3 369.5l-5-6.6M133.2 369.7l-5.4-6.2M128.8 370.5l-6.1-6.5M124.4 370.9l-6.4-6.2M120.7 371.7l-7-6.3M117 372.2l-7.2-6.1M114.1 373l-7.7-6.1M111.5 373.8l-8.1-6.1M109.5 374.7l-8.6-6.2M107.7 375.5l-8.7-6.1M106 375.9l-8.5-5.7M103.1 375.4l-6.5-4.3M100.3 374.6l-4.1-2.6M104.9 378.3l-0.5-0.3M98.4 374.2l-2-1.3M105.5 379.1l-8.4-5.3M106.9 380.1l-8.6-5.4M108.5 380.9l-8.4-5.3M110.3 381.5l-8-5.1M113 382.4l-7.9-5.2M115.7 382.9l-7.4-4.9M119.2 383.8l-7.2-5M123 384.4l-6.8-4.9M126.8 384.8l-6-4.6M131.3 385.4l-5.6-4.6M136.2 386.1l-5.2-4.7M141.3 386.6l-4.7-4.7M146.4 386.7l-3.9-4.3M151.9 387.1l-3.6-4.7M157.8 387.6l-3.1-4.9M163.6 387.6l-2.3-4.7M169.5 387.5l-1.5-4.4M175.7 387.9l-0.9-4.7M181.8 387.9l-0.1-4.6M188 387.9l0.5-4.7M194.1 387.5l1.2-4.4M200.2 387.4l1.9-4.4M206.1 387.4l2.6-4.7M211.9 387.2l3.3-4.8M217.3 387.1l4.2-5M222.7 386.6l4.4-4.5M228.1 386l4.8-4.4M233 385.5l5.3-4.5M237.3 385.1l6.1-4.7M241.6 384.5l6.5-4.8M245.7 383.7l6.8-4.7M249 383.2l7.3-5M252.3 382.4l7.5-5M254.7 381.8l8.1-5.2M257.2 380.9l8-5.1M258.7 380.3l8.5-5.4M260.2 379.3l8.5-5.3M261.1 378.5l7.5-4.7M268.8 372l1-0.6M264.6 373.5l4.5-3M261 374.3l6.9-4.7M258 374.6l8.2-5.9M255.9 373.8l8-5.9M253.2 373.3l7.9-6.2M250.5 372.4l7.4-6.1" stroke="#137fd6"/>
<path d="M254.2 365.6l5.6-4.1M250 364.9l5.6-4.3M245.5 364.2l5.8-4.9M240.5 363.6l6.4-5.8M235.2 363.1l6.7-6.9M229.6 362.6l6.1-7M223.7 362.2l5.2-7M217.6 361.8l4.4-7M211.2 361.5l3.8-7.4M204.7 361.3l2.8-7.3M198.1 361.1l2-7.5M191.3 361l1.1-7.1M184.5 360.9l0.2-7.5M177.7 361l-0.7-7.2M171 361.1l-1.6-7.4M164.3 361.2l-2.5-7.2M157.7 361.4l-3.3-7M151.3 361.7l-3.6-6.2M145 362.1l-3.6-5.2M139 362.5l-3.7-4.6M133.3 362.9l-4.1-4.3M127.8 363.5l-4.6-4.5M122.7 364l-5.6-4.9M118 364.7l-7.2-5.7M113.7 365.4l-8.9-6.6M109.8 366.1l-9.4-6.4M106.4 366.9l-9.9-6.4M103.4 367.7l-10.1-6.2M100.9 368.5l-10.3-6M99 369.4l-10.5-5.9M97.5 370.2l-10.4-5.6M96.6 371.1l-10.6-5.5M96.2 372l-11-5.6M96.4 372.9l-10.7-5.3M97.1 373.8l-10.7-5.3M98.3 374.7l-10.5-5.2M100.1 375.6l-10.7-5.3M102.3 376.4l-8.9-4.4M105.1 377.2l-7.3-3.6M108.3 378l-6.2-3.2M112 378.8l-5.7-3.1M116.2 379.5l-5.6-3.1M120.8 380.2l-5.9-3.5M125.7 380.8l-6.4-4M131 381.4l-6.7-4.5M136.6 381.9l-6.1-4.5M142.5 382.4l-5.2-4.4M148.3 382.4l-4.2-4.1M154.7 382.7l-3.4-4M161.3 382.9l-2.6-3.8M168 383.1l-1.9-4.2M174.8 383.2l-1-4M181.7 383.3l-0.2-4.1M188.5 383.2l0.7-3.9M195.3 383.1l1.5-3.8M202.1 383l2.2-3.8M208.7 382.7l3.3-4.2M215.2 382.4l3.3-3.4M221.5 382.1l3.3-2.9M227.1 382.1l3.8-3M232.9 381.6l4.1-3M238.3 381l4.7-3.1M243.4 380.4l5.7-3.5M248.1 379.7l7.3-4.1M252.5 379l8.9-4.8M256.3 378.2l9.3-4.8M259.8 377.4l9.9-5M262.8 376.6l10-5M265.2 375.8l10.3-5M267.2 374.9l10.7-5.2M268.7 374l10.6-5.2M279.1 368.4l1.1-0.5M272.1 371.1l8.9-4.4M269.8 371.4l11-5.7M269.1 370.5l10.9-5.8M267.9 369.6l10.7-5.9M266.2 368.7l10.1-5.8M263.9 367.9l8.9-5.3M261.1 367.1l7.3-4.6M257.9 366.3l6.2-4.2M254.6 365.2l-8.7-1.4-5-0.6-10.9-1.1-12.1-0.8-13-0.6-13.5-0.3-13.7 0-13.6 0.2-13.1 0.6-12.3 0.8-16.4 1.6-9 1.4-7.4 1.5-5.4 1.7-2 0.8-1.5 0.9-0.9 0.9-0.4 0.9 0.2 0.9 0.7 0.9 1.2 0.9 1.8 0.8 2.2 0.9 2.8 0.8 7 1.6 8.7 1.3 10.3 1.2 11.6 1 12.5 0.7 13.3 0.4 20.5 0.1 20.2-0.5 12.8-0.6 11.8-0.9 10.6-1.2 9-1.4 7.4-1.5 5.4-1.6 2-0.9 1.8-1.2M270.4 371.5l-0.1-0.5-0.7-0.9-1.2-0.8-1.8-0.9-5-1.7-7-1.5" stroke="#117bd9"/>
<path d="M241.9 356.2l0.5-0.4M235.7 355.6l1.8-2.1M228.9 355.2l3.5-4.6M222 354.8l4.5-7.1M215 354.1l3.5-6.8M207.5 354l2.9-7.2M200.1 353.6l1.9-6.8M192.4 353.9l1-7.1M184.7 353.4l0.2-7M177 353.8l-0.7-7.1M169.4 353.7l-1-4.5M161.8 354l-0.8-2.2M154.4 354.4l-0.2-0.5M104.8 358.8l-0.5-0.3M100.4 359.7l-2.9-2M96.5 360.5l-6.4-4M93.3 361.5l-10.1-6M90.6 362.5l-10.4-5.9M88.5 363.5l-11-6M87.1 364.6l-11.1-5.8M86 365.6l-11.1-5.7M85.2 366.4l-11.1-5.6M85.7 367.6l-11.3-5.6M86.4 368.5l-7.5-3.6M87.8 369.5l-3.8-1.8M89.4 370.3l-0.5-0.2M124.3 376.9l-0.5-0.3M130.5 377.4l-1.8-1.4M137.3 378l-3.5-2.9M144.1 378.3l-4.3-4.1M151.3 378.7l-3.5-4.1M158.7 379.1l-2.9-4.4M166.1 378.9l-2-4.1M173.8 379.2l-1-4M181.5 379.2l-0.2-4.1M189.2 379.3l0.7-4.4M196.8 379.3l1-2.8M204.3 379.2l0.9-1.5M261.4 374.2l0.5-0.3M265.6 373.4l3.1-1.6M269.7 372.4l6.4-3.1M272.8 371.6l10.1-4.9M275.5 370.8l10.7-5.3M277.9 369.7l10.7-5.2M279.3 368.8l11.2-5.5M280.2 367.9l11.1-5.5M281 366.7l11.1-5.6M280.8 365.7l11-5.6M280 364.7l7.3-3.8M278.6 363.7l3.6-1.9M276.3 362.9l1-0.6" stroke="#0e76dc"/>
<path d="M226.5 347.7l0.4-0.5M218.5 347.3l2.2-4.2M210.4 346.8l2.2-5.5 0.8-1.5M202 346.8l1.5-5.8 0.6-1.6M193.4 346.8l1.2-7.4M184.9 346.4l0.1-4.1M176.3 346.7l0-0.6M83.2 355.5l-1-0.7M80.2 356.6l-6.7-3.9M77.5 357.5l-9-5-2.7-1M76 358.8l-9.4-5.1-2.7-1M74.9 359.9l-9.6-5-2.7-1M74.1 360.8l-6.9-3.4M74.4 362l-1-0.5M139.8 374.2l-0.5-0.4M147.8 374.6l-2.3-2.7M155.8 374.7l-2.2-3.3-0.8-0.8M164.1 374.8l-1.4-3.2-0.7-0.9M172.8 375.2l-1.2-4M181.3 375.1l-0.1-2.4M282.9 366.7l1.1-0.5M286.2 365.5l6.5-3.1M288.6 364.5l9.1-4.4 2.7-0.9M290.5 363.3l9.1-4.4 2.3-0.7M291.3 362.4l9.6-4.7 2.7-0.9M292.1 361.1l6.9-3.4M291.8 360.1l1-0.6M218.5 341.5l-15-0.5-15.3-0.2M70.3 351.8l-1.8 0.7-1.9 1.2-1.3 1.2-0.3 0.8M147.7 371.1l15 0.5 15.3 0.2M295.9 360.9l1.8-0.8 1.9-1.2 1.3-1.2 0.3-0.8" stroke="#0971de"/>
<path d="M213.4 339.8l0.5-0.9M204.1 339.4l1.9-5.2M194.6 339.4l0.2-0.9M65.8 351.5l-2.1-0.9M63.9 352.7l-11.4-4.3M62.6 353.9l-2.2-0.8M152.8 370.6l-0.5-0.3M162 370.7l-1.8-2.2M171.6 371.2l-0.2-0.5M300.4 359.2l2.1-0.7M301.9 358.2l11.8-4M303.6 356.8l2.2-0.8" stroke="#046ce0"/>
</g>
<path d="M167 451.4l0.4 0.2 0.4 0.1 0.3 0 0.4 0 0.5 0 0.4-0.1 0.5-0.2 0.4-0.2 0.5-0.3 0.5-0.3 0.5-0.3 0.6-0.3 0.5-0.4 0.6-0.4 0.5-0.4 0.6-0.5 0.6-0.4 0.6-0.5 0.6-0.4 0.6-0.4 0.6-0.5 0.7-0.4 0.6-0.4 0.6-0.3 0.7-0.4 0.6-0.3 0.7-0.3 0.6-0.3 0.7-0.3 0.6-0.2 0.7-0.2 0.7-0.2 0.6-0.1 0.7-0.2 0.6-0.1 0.6-0.1 0.7-0.1 0.6 0 0.6-0.1 0.6-0.1 0.6 0 0.6-0.1 0.6 0 0.6 0 0.6-0.1 0.5 0 0.6-0.1 0.5 0 0.5-0.1 0.5 0 0.5-0.1 0.5 0 0.4-0.1 0.5 0 0.4-0.1 0.4 0 0.4 0 0.3-0.1 0.4 0.1 0.3 0 0.3 0 0.3 0.1 0.3 0.1 0.2 0.1 0.2 0.2 0.2 0.1 0.2 0.2 0.2 0.3 0.1 0.2 0.1 0.3 0.1 0.3 0.1 0.3 0 0.4 0 0.4 0 0.3 0 0.4 0 0.4-0.1 0.4-0.1 0.4" stroke="#1422ee" stroke-width="1.4" stroke-dasharray="1.4 0.9" fill="none"/>
<path d="M52.5 295.3l0 172.2 107.7 20.1 153.5-14.3M49.2 468l3.3-0.5M49.2 450.4l3.3-0.5M49.2 432.8l3.3-0.5M49.2 415.2l3.3-0.5M49.2 397.6l3.3-0.5M49.2 380l3.3-0.4M49.2 362.4l3.3-0.4M49.2 344.8l3.3-0.4M49.2 327.2l3.3-0.4M49.2 309.7l3.3-0.5M52.5 467.5l0 4.4M106.4 477.5l0 4.4M160.2 487.6l0 4.4M237 480.4l0 4.4M313.7 473.3l0 4.4" stroke="#303030" stroke-width="0.9" fill="none"/>
<g class="tk"><text x="45.9" y="468.7" text-anchor="end">-2</text><text x="45.9" y="451.1" text-anchor="end">0</text><text x="45.9" y="433.5" text-anchor="end">2</text><text x="45.9" y="415.9" text-anchor="end">4</text><text x="45.9" y="398.3" text-anchor="end">6</text><text x="45.9" y="380.8" text-anchor="end">8</text><text x="45.9" y="363.2" text-anchor="end">10</text><text x="45.9" y="345.6" text-anchor="end">12</text><text x="45.9" y="328" text-anchor="end">14</text><text x="45.9" y="310.4" text-anchor="end">16</text><text x="50.5" y="479.5" text-anchor="middle">5</text><text x="104.1" y="489.5" text-anchor="middle">0</text><text x="108.9" y="500.1" text-anchor="middle" class="al">Im(ζ)</text><text x="160.6" y="499.9" text-anchor="middle">-5-5</text><text x="238.4" y="492.3" text-anchor="middle">0</text><text x="223.5" y="500.6" text-anchor="middle" class="al">Re(ζ)</text><text x="315.3" y="484.9" text-anchor="middle">5</text><text transform="translate(36 381) rotate(-90)" text-anchor="middle" class="zl" textLength="82.2" lengthAdjust="spacingAndGlyphs">F(ζ)=2πJ R(ζ,ζ)-K(ζ); J=3</text></g>
<text class="cap" x="173.4" y="527.4" text-anchor="middle">(c) <tspan class="it">F</tspan>(<tspan class="it">ζ</tspan>; 3)</text></g>
<g><path d="M360.4 467.6l153.8-14M514.2 453.6l107.2 19.8M360.4 448.9l110.9-10.1M512.2 435l2-0.1M514.2 434.9l107.2 19.8M360.4 430.2l99.9-9.1M523.5 417.9l97.9 18.1M360.4 411.5l85.4-7.8M537.3 401.8l84.1 15.5M360.4 392.8l65.9-6M555.5 386.5l65.9 12.2M360.4 374.1l39.4-3.6M579.1 372.1l42.3 7.9M360.4 355.4l11.5-1M386.9 353l100.3-9.1M532.9 344.9l69.8 12.9M607.6 358.7l13.8 2.6M360.4 336.8l153.8-14M514.2 322.8l107.2 19.8M360.4 318.1l153.8-14M514.2 304.1l107.2 19.8M360.4 299.4l153.8-14M514.2 285.4l107.2 19.8M437.3 460.6l0-65.1M437.3 357.4l0-69.1M567.8 463.5l0-85.1M567.8 360.3l0-69.1M514.2 453.6l0-21.6M514.2 333.4l0-52.1M621.4 473.4l0-172.2M544.5 480.4l-107.2-19.8M414 477.5l153.8-14M360.4 467.6l153.8-14M514.2 453.6l107.2 19.8" stroke="#dcdcdc" stroke-width="0.8" fill="none"/>
<path d="M494.2 470.2l-2-0.2-2.5 0-2 0.2-0.6 0.1-0.2 0.2 0.4 0.2 1.2 0.2 3.6 0.1 2.6-0.4 0.2-0.1 0-0.1-0.7-0.2" stroke="#33b8a1" stroke-width="0.95" fill="none"/>
<path d="M510.5 468.7l-4.8-0.6-6-0.3-8.4-0.1-7.8 0.3-5.6 0.4-4.9 0.7-3.5 0.9-1 0.5-0.3 0.4 0.2 0.4 0.4 0.3 2 0.6 2.6 0.4 4.1 0.4 10 0.2 10.8-0.2 4.5-0.3 3.8-0.5 2.9-0.5 2.6-0.7 1.2-0.6 0.2-0.3 0-0.3-0.3-0.3-0.7-0.3-2-0.5" stroke="#69be84" stroke-width="0.95" fill="none"/>
<path d="M520.1 467.8l-3.1-0.5-4.7-0.5-9.9-0.6-10.8-0.2-11.8 0.3-9.6 0.6-7.5 1-3 0.7-2.2 0.7-1.3 0.8-0.3 0.6 0.4 0.7 0.7 0.4 2.7 0.9 4.3 0.8 6.6 0.7 6.5 0.5 8.3 0.2 8.4 0 8.2-0.2 7.6-0.5 5.6-0.6 5.2-0.8 3.6-1 1.2-0.6 0.6-0.5 0.1-0.5-0.2-0.5-0.9-0.6-1.2-0.4-3.5-0.9" stroke="#9ebe6e" stroke-width="0.95" fill="none"/>
<path d="M533.9 466.6l-4.6-0.8-6.8-0.8-6.1-0.5-8.4-0.4-7-0.3-9.1-0.1-9.1 0.1-7.1 0.2-8.4 0.5-6.2 0.4-5.7 0.6-6.1 0.9-4.9 1-3.4 1.1-1.4 0.7-0.5 0.5-0.4 0.4-0.1 0.5 0.2 0.5 0.4 0.5 1.1 0.7 1.7 0.6 2.2 0.7 5.9 1.2 9.2 1.1 9.4 0.7 12.1 0.5 12.7 0.1 12.6-0.3 11.6-0.6 8.7-0.9 8.2-1.3 2.8-0.6 2.8-0.8 2-1 0.7-0.7 0.3-0.4-0.1-0.5-0.5-0.7-1.6-0.9-1.9-0.7-5.2-1.2" stroke="#c9bc5c" stroke-width="0.95" fill="none"/>
<path d="M554 464.7l-6.8-1-9.9-1.2-9-0.8-12.2-0.7-10.4-0.3-13.3-0.2-13.4 0.1-10.4 0.4-12.5 0.6-9.2 0.7-8.3 0.9-9 1.3-7.1 1.5-2.3 0.6-2.8 1-1.9 1-0.9 0.7-0.5 0.7-0.1 0.7 0.3 0.7 0.6 0.7 1.7 1 2.5 1 3.2 0.9 4 0.9 4.7 0.9 5.4 0.7 8.1 1 13.8 1 17.8 0.8 18.7 0.1 18.4-0.4 17.2-1 12.8-1.3 5.6-0.7 6.5-1.1 4-0.9 4.2-1.3 1.6-0.7 1.2-0.7 1.2-1 0.3-0.7-0.1-0.7-0.8-1-1-0.7-1.4-0.7-2.8-0.9-3.5-1-4.2-0.9" stroke="#f0b94a" stroke-width="0.95" fill="none"/>
<path d="M531.1 457l-18.7-0.7-23.2-0.3M386.9 465.3l-3.6 1.5-2.5 1.5-0.9 1-0.3 0.5-0.2 1M450.7 484l18.7 0.7 23.2 0.2M594.9 475.6l3.6-1.4 2.5-1.5 0.9-1 0.3-0.5 0.2-1" stroke="#fccd2f" stroke-width="0.95" fill="none"/>
<g class="m">
<path d="M491.6 452.9l0.9-0.3M493.3 452.1l0.5-0.3M491.6 452.9l0.8-0.4M491.5 452.9l0.8-0.4M491.5 452.8l0.7-0.3M491.4 452.8l0.7-0.3M490.5 452.8l-0.4-0.3M490.3 452.8l-0.6-0.3M490.3 452.8l-0.7-0.3M490.3 452.9l-0.8-0.4M490.2 452.9l-0.8-0.3M490.2 452.9l-0.9-0.3M488.4 452.1l-0.4-0.3M490.1 452.9l-0.9-0.3M488.3 452.1l-0.9-0.6M490.1 452.9l-1-0.3-1.9-1M486.6 451.1l-0.3-0.3M490.1 452.9l-1-0.3-2-1M486.4 451.1l-0.3-0.2M490.1 452.9l-1.1-0.3-2-0.9-2.7-2.3M490 452.9l-1-0.2-2.1-1-2.7-2.2M490 452.9l-1-0.2-2.1-1-2.8-2.1M490 452.9l-1-0.2-2.1-0.9-2.8-2.2M490 452.9l-1-0.2-2.1-0.9-2.8-2.1M490 452.9l-1-0.2-2.1-0.8-2.8-2.1M490.1 453l-1.1-0.2-2-0.9-2.8-2.1M490.1 453l-1-0.2-2-0.9-2.7-2M490.1 453l-1-0.2-1.9-0.8-2.7-2M490.1 453l-0.9-0.2-1.9-0.8-2.5-2M490.2 453l-1-0.2-1.8-0.8-2.4-1.9M490.2 453l-0.9-0.2-1.7-0.7-2.3-1.9M490.2 453l-0.8-0.1-1.6-0.8-2-1.7M490.3 453l-0.8-0.1-1.5-0.8-1.9-1.7M490.3 453l-0.7-0.1-1.4-0.7-1.7-1.7M490.4 453l-0.7-0.1-1.2-0.7-1.6-1.7M490.4 453l-0.5-0.1-1.2-0.7-1.4-1.7M490.5 453l-0.5-0.1-1-0.7-1.2-1.6M490.6 453l-0.5-0.1-0.8-0.6-1.1-1.7M490.6 453l-0.3-0.1-0.7-0.6-0.9-1.7M490.7 453l-0.3-0.1-0.5-0.6-0.7-1.7M490.7 453l-0.5-0.7-0.5-1.6M490.8 453l-0.3-0.7-0.3-1.6M490.9 453l-0.1-2.3M491 453l0.3-2.3M491 453l0.5-0.7 0.3-1.6M491.1 453l0.2-0.1 0.5-0.6 0.5-1.7M491.2 453l0.3-0.1 0.6-0.6 0.7-1.7M491.2 453l0.4-0.1 0.8-0.6 0.9-1.7M491.3 453l0.4-0.1 1-0.7 1.1-1.6M491.3 453l0.6-0.1 1-0.7 1.4-1.7M491.4 453l0.6-0.1 1.2-0.7 1.5-1.7M491.5 453l0.6-0.1 1.4-0.7 1.6-1.7M491.5 453l0.7-0.1 1.5-0.7 1.8-1.8M491.5 453l0.8-0.1 1.6-0.8 2-1.7M491.6 453l0.8-0.1 1.7-0.8 2.2-1.9M491.6 453l0.9-0.2 1.8-0.7 2.4-2M491.7 453l0.9-0.2 1.8-0.8 2.5-1.9M491.7 453l1-0.2 1.9-0.8 2.6-2M491.7 453l1-0.2 2-0.9 2.7-2M491.7 453l1.1-0.2 2-0.9 2.7-2M491.8 452.9l1-0.2 2.1-0.8 2.7-2.1M491.8 452.9l1-0.2 2.1-0.9 2.8-2.1M491.8 452.9l1-0.2 2.1-0.9 2.8-2.1M491.8 452.9l1-0.2 2.1-1 2.8-2.1M491.8 452.9l1-0.2 2.1-1 2.8-2.2M491.7 452.9l1.1-0.2 2-1 2.8-2.2M491.7 452.9l1-0.3 2-1 2.7-2.2M491.7 452.9l1-0.3 1.9-1M495.3 451.1l0.3-0.3M491.7 452.9l0.9-0.3 1.9-1M491.6 452.9l1-0.3M493.5 452.1l0.4-0.3M491.6 452.9l-1.6 0 1.2 0.1 0.5 0-0.1-0.1M492.5 452.6l-0.7-0.1M490.1 452.5l-1.1 0.2 1.4 0.2 2 0 0.4-0.2-0.3-0.1M493.3 452.1l-0.1 0M488.7 452.1l-0.7 0.2 0.1 0.2 2.5 0.2 2.8-0.2 0.5-0.2-0.6-0.2M487.4 451.5l-0.5 0.3 0.5 0.2 3.4 0.3 3.5-0.2 0.6-0.3-0.4-0.2M486.3 450.8l-0.4 0.2 0 0.2 0.8 0.3 4.1 0.3 4.4-0.4 0.8-0.3-0.5-0.3M485 450.1l-0.2 0.2 0.1 0.1 1 0.3 4.9 0.4 5-0.4 1.1-0.3 0.1-0.2-0.2-0.2" stroke="#35b89f"/>
<path d="M484.3 449.4l-0.7-0.7M484.2 449.5l-1.7-1.8M480.7 445.8l-0.3-0.4M484.1 449.6l-5.2-5.5M484.1 449.6l-5.3-5.3M484.1 449.7l-5.6-5.5M484.1 449.8l-5.5-5.4M484.2 449.8l-5.8-5.4M484.4 449.9l-3.4-3.3-2.3-2M484.5 450l-4.2-4.2-1.5-1.1M484.8 450l-3.2-3.1-2.4-2M485 450.1l-3-3.1-2.3-2M485.3 450.2l-2.9-3.1-2.1-1.9M485.8 450.4l-2.9-3.3-2-1.8M486.1 450.4l-2.6-3.2-1.9-1.9M486.5 450.5l-3.2-4.1-1-1.1M486.9 450.5l-2.9-4.1-0.9-1.1M487.3 450.5l-3.4-5.2M487.8 450.6l-2.8-5M488.2 450.6l-2.3-5M488.7 450.6l-1.9-5.1M489.2 450.6l-1.4-5.2M489.7 450.7l-1-5.3M490.2 450.7l-0.5-5.4M490.8 450.7l-0.1-4.9M491.3 450.7l0.3-4.9M491.8 450.7l0.7-5M492.3 450.6l1.2-4.9M492.8 450.6l1.6-5M493.3 450.6l1.9-5M493.8 450.6l2.3-5.1M494.3 450.5l2.7-5.2M494.7 450.5l3.1-5.3M495.1 450.5l1.7-2.4 1.8-2.9M495.5 450.4l1.8-2.4 2-2.9M495.9 450.4l1.9-2.4 2.1-3M496.3 450.2l2-2.3 2.2-3M496.7 450.1l2-2.3 2.4-3M496.9 450.1l2.2-2.4 2.5-3M497.2 450l2.2-2.4 2.6-3M497.4 449.9l4.9-5.3M497.5 449.9l5.1-5.4M497.6 449.8l5.2-5.4M497.7 449.7l5.2-5.3M497.7 449.7l5.6-5.7M497.7 449.6l5.6-5.6M497.7 449.5l5.5-5.6M497.6 449.5l1.3-1.4M499.6 447.4l3.8-3.8M499.4 447.3l3.7-3.7M484 449.1l-0.3 0.2 0.2 0.2 1.1 0.4 2.5 0.3 3.3 0.1 5.5-0.4 1.5-0.3 0.3-0.3-0.2-0.2M482.8 448.1l-0.1 0.3 0.3 0.2 1.5 0.4 2.5 0.3 3.7 0.1 3.8-0.2 2.6-0.2 1.8-0.4 0.2-0.3-0.2-0.2M481.7 447.1l0 0.3 0.3 0.2 1.7 0.5 2.8 0.2 4.2 0.1 4.3-0.2 3.3-0.3 1.7-0.5 0.2-0.2-0.4-0.3M480.7 445.8l-0.1 0.4 0.2 0.3 1.6 0.6 2.3 0.2 3.6 0.1 5.6-0.1 4.2-0.4 2.8-0.5 0.3-0.3-0.4-0.3M479.6 444.8l-0.1 0.4 0.3 0.3 1.3 0.6 1.6 0.3 2.8 0 7.8-0.2 4.8-0.3 3.8-0.7 0.4-0.2-0.5-0.2M478.8 444.6l0.9 0.6 1 0.3 1.9 0.2 2-0.1M503 443.9l-0.2 0" stroke="#29b6a7"/>
<path d="M478.5 444.2l-0.7-0.6M478.6 444.4l-1.4-1.1M474.1 440.7l-1.8-1.7M478.4 444.4l-3.8-2.8-2.4-2.4M478.7 444.6l-3.7-2.5-1-0.9-1.8-1.8M478.8 444.7l-4.4-3-2-2.1M479.2 444.9l-4.2-2.8-2.3-2.5M479.7 445l-4.1-2.6-2.1-2.4M480.3 445.2l-3.9-2.6-0.9-0.9-1.4-1.9M480.9 445.3l-3.7-2.6-1.9-2.4M481.6 445.3l-3.5-2.6-1.8-2.5M482.3 445.3l-3.2-2.7-1.4-2M483.1 445.3l-2.2-2.2-1.8-2.4M483.9 445.3l-2-2.4-1.3-2.1M485 445.6l-1.9-2.9-1-1.9M485.9 445.6l-2.5-5.1M486.8 445.5l-1.9-4.9M487.8 445.4l-1.4-4.6M488.7 445.4l-0.9-4.9M489.7 445.3l-0.5-4.5M490.7 445.8l-0.1-5.2M491.6 445.8l0.3-5.4M492.5 445.7l0.7-4.9M493.5 445.7l1-5M494.4 445.6l1.3-5M495.2 445.6l1.8-5M496.1 445.5l2.1-5M497 445.3l2.3-4.9M497.8 445.2l2.6-4.9M498.6 445.2l2.9-5M499.3 445.1l3.1-5M499.9 445l3.4-5M500.5 444.9l3.7-5M501.1 444.8l3.8-5M501.6 444.7l4-5M502 444.6l4.5-5.4M502.3 444.6l4.7-5.3M502.6 444.5l5.1-5.6M502.8 444.4l5.2-5.4M502.9 444.4l5.6-5.6M503.3 444l5.6-5.4M503.3 444l4.2-3.7 1.8-1.8M503.2 443.9l4.2-3.5 2.1-2.1M503.4 443.6l3.8-3 2.4-2.4M503.1 443.6l3.7-2.8 1-0.9 1.8-2M503.8 442.8l2.9-2.2M478.5 444.2l0.3 0.4M484.6 445.6l13.4-0.7 3.9-0.6 1.4-0.3-0.3-0.1M477.5 443.5l0.8 0.8 1 0.4 2.6 0.3 8.7-0.8 8-0.5 5.2-0.6M476.7 443.1l0.7 0.6 1 0.5 2 0.3 2.7-0.2 7.5-1.1 8.6-0.6 5.4-0.7 0.6 0 0.2 0.2-1 0.2M475.7 442.4l0.7 0.7 1 0.6 2.3 0.3 1.8-0.2 9.1-1.6 9.2-0.7 5.4-0.7 0.8 0 0.5 0.3-0.4 0.4-0.7 0.1M474.6 441.6l0.8 0.9 1.1 0.6 0.7 0.2 1.7 0.1 2-0.3 7.1-1.6 5.2-0.7M506.1 439.7l0.9 0 0.5 0.4-0.3 0.5-0.8 0.3M473.3 439.8l0.3 0.9 0.8 1 1.2 0.7 1.6 0.3 3-0.3 6.2-1.6M508.6 439l-0.2 0.5-0.6 0.4M472.5 439.3l0.5 0.9 0.4 0.6 1.3 0.7 0.8 0.2 0.9 0.1 2-0.1 3.7-0.9M509.2 438.6l-0.4 0.2M472.7 439.8l1.1 0.6 0.8 0.2 0.9 0.1 2.2-0.1" stroke="#1fb3ae"/>
<path d="M469.5 435l-1.1-1.7M472.3 439l-2.3-2.9-1.8-2.6M472.2 439.2l-1.9-2.4-2.1-3.1M472.2 439.4l-1.5-2-2.3-3.6M472.4 439.6l-1.2-1.6-2.5-4.1M472.7 439.6l-3.3-5.2M473.5 440l-3.5-5.7M474.1 439.8l-3-5.3M475.3 440.3l-3.1-5.6M476.3 440.2l-2.6-5M477.7 440.6l-2.6-5.5M479.1 440.7l-2.4-5.3M480.6 440.8l-2.2-5.2M482.1 440.8l-2-5.1M483.4 440.5l-1.5-4.7M484.9 440.6l-1.4-5.2M486.4 440.8l-1.1-5.3M487.8 440.5l-0.7-4.9M489.2 440.8l-0.4-5M490.6 440.6l-0.1-5.1M491.9 440.4l0.2-4.7M493.2 440.8l0.6-5.3M494.5 440.7l0.9-5.3M495.7 440.6l1.3-5.3M497 440.6l1.6-5.4M498.2 440.5l1.9-5.4M499.3 440.4l2.3-5.4M500.4 440.3l2.6-5.4M501.5 440.2l2.8-5.5M502.4 440.1l2.9-5.1M503.3 440l3.2-5.1M504.2 439.9l3.3-5.2M504.9 439.8l3.8-5.6M505.6 439.7l3.9-5.6M506.5 439.2l3.7-5.1M507 439.3l4.2-5.7M507.7 438.9l3.9-5.1M508 439l2.5-3 1.7-2.5M508.5 438.8l2.2-2.6 2.1-2.9M508.9 438.6l1.9-2.2 2.4-3.3M509.3 438.5l1.4-1.8 2.7-3.8M509.5 438.3l2.3-3 2-3M509.6 438.2l1.9-2.6 2.2-3.5M509.6 437.9l1.5-2.1M511.7 434.9l0.8-1.3M493.2 440.8l7.2-0.5 5.7-0.6M486.4 440.8l5.5-1 9.1-0.7 5.5-0.6 1.5 0 0.3 0.1 0.3 0.4M472.3 439l0.2 0.3M482.1 440.8l4.1-1.1 4.3-0.9 16.9-1.6 1.2 0 0.8 0.2 0.2 0.2 0 0.5-0.4 0.5M471.2 437.7l0.7 1.3 0.8 0.8M477.7 440.6l9.7-2.5 6.2-1 8.7-0.6 6.8-0.8 1 0.2 0.6 0.3 0 0.5-0.1 0.3-0.7 0.5M469.9 435.7l0.4 1.1 0.9 1.2 1.5 0.8 1.9 0.4 1.1-0.1 2.5-0.3 7.4-1.9 5.4-1M510.9 434.1l0.8 0.2 0.3 0.4-0.2 0.6-0.7 0.5M468.5 433.7l0.4 1 1 1.2 1.6 0.9 0.9 0.2 1.1 0.2 2.4-0.2 6-1.2M513.2 433.2l-0.7 0.4" stroke="#16b1b4"/>
<path d="M468.4 433.3l-0.3-0.5M467.4 431.8l-2.8-4.4M468.2 433.5l-3.4-5.4M468.2 433.7l-3.4-5.5M468.4 433.8l-3.3-5.5M468.7 433.9l-2.9-5.1M469.4 434.4l-3.1-5.6M470 434.3l-2.7-5.2M471.1 434.5l-2.6-5.1M472.2 434.7l-2.4-5.1M473.7 435.2l-2.5-5.5M475.1 435.1l-2.1-4.9M476.7 435.4l-2.1-5.3M478.4 435.6l-1.9-5.4M480.1 435.7l-1.7-5.2M481.9 435.8l-1.6-5.6M483.5 435.4l-1.1-4.9M485.3 435.5l-0.9-4.8M487.1 435.6l-0.7-5.2M488.8 435.8l-0.4-5.1M490.5 435.5l-0.1-5.1M492.1 435.7l0.3-5M493.8 435.5l0.5-4.9M495.4 435.4l0.8-4.9M497 435.3l1.1-5M498.6 435.2l1.4-5M500.1 435.1l1.7-5M501.6 435l1.9-5M503 434.9l2.2-5.1M504.3 434.7l2.4-5M505.3 435l2.9-5.5M506.5 434.9l3-5.5M507.5 434.7l3.3-5.5M508.7 434.2l3.1-5M509.5 434.1l3.3-5M510.2 434.1l3.7-5.6M511.2 433.6l3.4-5.1M511.6 433.8l3.9-5.8M512.2 433.5l3.7-5.4M512.8 433.3l3.7-5.6M513.2 433.1l3.8-5.8M513.4 432.9l3.8-5.9M513.8 432.3l3.2-5.2M513.7 432.1l2.4-3.9M516.6 427.3l0.3-0.5M513.5 431.9l0.3-0.5M491 435.9l19.9-1.8M468.4 433l0.1 0.7M481.9 435.8l5-1.1 3.6-0.6 3.5-0.4 9.8-0.7 7-0.8 1.4-0.1 0.9 0.2 0.3 0.4-0.2 0.5M466.8 430.8l0.5 1.4 0.5 0.6 1.4 1.1 1.9 0.6 2.4 0.2 2.8-0.3 10.4-1.9 5.6-0.8 12.4-0.9 9-1 1.3 0.3 0 0.3-0.5 0.4M464.9 427.9l0.5 1.3 1.2 1.2 1.8 0.8 1.1 0.3 1.3 0.1 2.8 0 7.3-0.9M516.9 427.5l-0.2 0.1" stroke="#0eaeba"/>
<path d="M463.3 424.8l-2-2.9M464.6 427.4l-3.5-5.4M464.8 428.1l-3.8-6M464.8 428.2l-3.4-5.5M465.1 428.3l-3.4-5.6M465.8 428.8l-3.3-5.6M466.3 428.8l-2.9-5.2M467.3 429.1l-2.8-5.1M468.5 429.4l-2.7-5.1M469.8 429.6l-2.5-5.1M471.2 429.7l-2.3-5M473 430.2l-2.4-5.5M474.6 430.1l-2.1-5.3M476.5 430.2l-1.8-4.9M478.4 430.5l-1.7-5.3M480.3 430.2l-1.3-4.7M482.4 430.5l-1.2-5.2M484.4 430.7l-1-5.3M486.4 430.4l-0.7-5.2M488.4 430.7l-0.4-5.1M490.4 430.4l-0.1-4.9M492.4 430.7l0.2-5.4M494.3 430.6l0.6-5.4M496.2 430.5l0.9-4.9M498.1 430.3l1.1-4.8M500 430.2l1.4-4.8M501.8 430.1l1.6-4.8M503.5 430l1.9-4.9M505.2 429.8l2.1-4.8M506.7 429.7l2.4-4.8M508.2 429.5l2.5-4.8M509.5 429.4l2.8-4.9M510.8 429.2l2.9-5M511.8 429.2l3.5-5.6M512.8 429.1l3.7-5.7M513.9 428.5l3.5-5.2M514.6 428.5l3.6-5.3M515.5 428l3.7-5.4M515.9 428.1l3.8-5.5M516.5 427.7l3.8-5.6M517 427.3l3.5-5.3M517.2 427l3.5-5.5M517 427.1l3.6-5.8M516.9 426.8l0.5-0.9M518.2 424.5l0.9-1.3M464.9 427.6l0 0.3M480.9 430.7l9.5-1.3 15.4-1 9.7-1.2 1.1 0 0.2 0 0.1 0.3M462.6 423.9l0.3 1.2 0.4 0.6 1.3 1.1 0.9 0.4 2.2 0.7 4.4 0.3 3.6-0.2 14.6-1.4 16.8-1.1 4.9-0.6 6.2-0.9 1 0-0.7 0.1" stroke="#09abbf"/>
<path d="M461.3 421.9l-4.1-5.8M461.1 422l-3.8-5.4M461 422.1l-3.8-5.4M461.4 422.7l-3.7-5.5M461.7 422.7l-3.3-5M462.5 423.2l-3.6-5.5M463.4 423.6l-3.4-5.5M464.5 424l-3.2-5.5M465.8 424.3l-3.1-5.6M467.3 424.5l-3-5.5M468.9 424.7l-2.8-5.5M470.6 424.7l-2.5-5.4M472.5 424.8l-2.1-4.9M474.7 425.3l-2.1-5.4M476.7 425.2l-1.8-5.3M479 425.5l-1.6-5.1M481.2 425.3l-1.3-4.9M483.4 425.4l-1-5.1M485.7 425.2l-0.7-5M488 425.6l-0.3-4.9M490.3 425.5l0-4.9M492.6 425.3l0.3-4.8M494.9 425.2l0.5-4.8M497.1 425.6l0.9-5.3M499.2 425.5l1.3-5.3M501.4 425.4l1.6-5.3M503.4 425.3l2-5.4M505.4 425.1l2.2-5.3M507.3 425l2.5-5.4M509.1 424.9l2.6-5.2M510.7 424.7l3-5.2M512.3 424.5l3.1-5.3M513.7 424.2l3.4-5.2M515.3 423.6l3.6-5.3M516.5 423.4l3.7-5.4M517.4 423.3l3.7-5.2M518.2 423.2l4.2-5.8M519.2 422.6l3.9-5.4M519.7 422.6l4-5.6M520.3 422.1l3.8-5.2M520.5 422l4.1-5.8M520.7 421.5l3.8-5.5M520.6 421.3l2.1-3.1M524.3 415.9l0.3-0.5M460 420l0.3 1.1 0.4 0.6 1.5 1 0.9 0.4 2.5 0.7 1.4 0.2 5.3 0.2 29.9-1.5 6.4-0.5 8.3-1 4.4-0.9 0.5-0.2-0.3-0.1M459.2 418.1l2.4 0.8 1.4 0.3 5.8 0.6" stroke="#06a8c4"/>
<path d="M457.2 416.1l-0.7-0.9M455.8 414.3l-0.3-0.5M454.8 412.9l-0.4-0.4M453.4 411.1l-0.4-0.4M457.3 416.6l-4.2-5.4M457.2 416.7l-4.2-5.4M457.7 417.2l-4.1-5.5M458.4 417.7l-4.1-5.5M458.9 417.7l-3.6-5.1M460 418.1l-3.5-5.1M461.3 418.5l-3.4-5.1M462.7 418.7l-3.2-4.9M464.3 419l-3-4.9M466.1 419.2l-2.8-4.9M468.1 419.3l-2.6-4.8M470.4 419.9l-2.6-5.3M472.6 419.9l-2.4-5.2M474.9 419.9l-2.1-5.1M477.4 420.4l-1.7-5M479.9 420.4l-1.4-5M482.4 420.3l-1.1-4.9M485 420.2l-0.8-4.8M487.7 420.7l-0.5-5.3M490.3 420.6l-0.1-5.3M492.9 420.5l0.2-5.2M495.4 420.4l0.7-5.2M498 420.3l0.9-4.7M500.5 420.2l1.3-4.7M503 420.1l1.5-4.7M505.4 419.9l1.8-4.7M507.6 419.8l2.2-4.8M509.8 419.6l2.5-4.8M511.7 419.7l3-5.2M513.7 419.5l3.1-5.2M515.4 419.2l3.5-5.2M517.1 419l3.7-5.3M518.9 418.3l3.6-4.9M520.2 418l3.8-4.9M521.1 418.1l4.1-5.3M522.4 417.4l3.9-4.9M523.1 417.2l4.4-5.5M523.7 417l4.5-5.6M524.1 416.9l4.5-5.8M524.6 416.2l4.2-5.4M524.5 416l4.2-5.4M456.9 415.6l0 0.5 0.3 0.6 0.5 0.5 1.5 0.9M468.8 419.8l6.1 0.1 7.4-0.1 15.9-0.5 9.9-0.6 6.4-0.6 6.4-1.1 3.5-0.9 0.5-0.4-0.3-0.3M453.4 411.7l1.3 0.9 0.9 0.5 4.2 1.1 5.9 0.8 9 0.4" stroke="#06a4c9"/>
<path d="M453 410.7l-2.2-2.6M450.1 407.3l-1.9-2.2M453.1 411.2l-4.8-5.6M453 411.3l-4.4-5.2M453.6 411.7l-4.8-5.5M454.3 412.2l-4.7-5.5M455.3 412.6l-4.6-5.5M456.5 413l-4.4-5.5M457.9 413.4l-4.2-5.5M459.5 413.8l-4-5.5M461.3 414.1l-3.8-5.5M463.3 414.3l-3.5-5.4M465.5 414.5l-3.3-5.3M467.8 414.6l-3-5.2M470.2 414.7l-2.6-5.1M472.8 414.8l-2-4.6M475.7 415.4l-1.9-5.1M478.5 415.4l-1.6-5M481.3 415.4l-1.2-4.9M484.2 415.4l-0.8-4.9M487.2 415.4l-0.5-4.8M490.2 415.3l-0.1-4.7M493.1 415.3l0.3-4.8M496.1 415.2l0.7-4.8M498.9 415.6l1.2-5.2M501.8 415.5l1.5-5.3M504.5 415.4l2-5.3M507.2 415.2l2.3-5.3M509.8 415l2.7-5.3M512.3 414.8l3-5.3M514.7 414.5l3.3-5.3M516.8 414.3l3.7-5.4M518.9 414l3.9-5.4M520.8 413.7l4.2-5.4M522.5 413.4l4.4-5.5M524 413.1l4.6-5.5M525.2 412.8l4.8-5.6M526.3 412.5l4.9-5.7M527.5 411.7l4.7-5.3M528.2 411.4l4.7-5.4M528.6 411.1l4.8-5.4M528.8 410.8l4.8-5.5M528.7 410.6l3-3.5M532.4 406.2l1.1-1.3M453 410.7l0.1 0.5 0.3 0.5M474.7 415.4l9.5 0 11.9-0.2 8.6-0.4 7.9-0.5 6.6-0.8 5.1-0.9 2.4-0.6 1.5-0.6 0.6-0.6-0.1-0.2M449.2 406.6l1.9 0.9 1.4 0.5 3.4 0.7 6.6 0.9 6.5 0.5" stroke="#06a0cd"/>
<path d="M447.4 404.3l-0.9-0.9M445.7 402.6l-0.4-0.5M444 400.9l-0.4-0.5M448.3 405.6l-5.4-5.5M448.6 406.1l-5.4-5.5M448.8 406.2l-4.9-5.1M449.6 406.7l-4.8-5.1M450.7 407.1l-5-5.4M452.1 407.5l-4.9-5.3M453.7 407.9l-4.7-5.3M455.5 408.3l-4.4-5.2M457.5 408.6l-4.1-5.1M459.8 408.9l-3.8-5.1M462.2 409.2l-3.5-5M464.8 409.4l-3.1-4.9M467.6 409.6l-2.8-4.9M470.8 410.2l-2.7-5.2M473.8 410.3l-2.3-5.1M476.9 410.4l-1.8-5M480.1 410.5l-1.4-5M483.4 410.5l-1-4.9M486.7 410.6l-0.5-5M490.1 410.6l-0.1-5M493.4 410.5l0.3-4.9M496.8 410.4l0.7-4.9M500.1 410.4l1.2-5M503.3 410.2l1.6-4.9M506.5 410.1l2-4.9M509.5 409.9l2.5-5M512.5 409.7l2.9-5M515.3 409.5l3-4.7M518 409.2l3.3-4.7M520.5 408.9l3.6-4.7M522.8 408.6l4-4.8M525 408.3l4.2-4.9M526.9 407.9l4.5-5M528.6 407.6l4.7-5.1M530 407.2l4.9-5.1M531.2 406.8l5.2-5.2M532.2 406.4l5.3-5.3M532.9 406l5.4-5.3M533.4 405.7l5.4-5.5M533.6 405.3l5.4-5.5M533.5 404.9l0.4-0.4M534.8 403.6l0.8-0.9M536.4 401.9l0.5-0.4M448.2 405.1l0.1 0.5 0.3 0.5 0.6 0.5M469 410.1l11.1 0.4 10 0.1 13.2-0.4 9.2-0.5 8-0.8 4.5-0.6 3.6-0.7 2.6-0.8 1.7-0.8 0.7-0.7-0.1-0.4" stroke="#079cd0"/>
<path d="M441.1 397.9l-0.9-0.8M438 395.2l-0.5-0.4M442.9 400.1l-6.2-5.6M443.2 400.6l-6.1-5.5M443.9 401.1l-6-5.4M444.8 401.6l-5.8-5.4M445.7 401.7l-5.6-5.2M447.2 402.2l-5.4-5.2M449 402.6l-5-5M451.1 403.1l-4.8-5M453.4 403.5l-4.4-4.8M456 403.8l-4.2-4.7M458.7 404.2l-4-5M461.7 404.5l-3.7-5M464.8 404.7l-3.2-4.7M468.1 405l-2.7-4.6M471.5 405.2l-2.3-4.5M475.1 405.4l-2.1-4.9M478.7 405.5l-1.6-4.8M482.4 405.6l-1-4.7M486.2 405.6l-0.6-4.6M490 405.6l-0.2-4.6M493.7 405.6l0.4-4.6M497.5 405.5l0.8-4.6M501.3 405.4l1.3-4.7M504.9 405.3l1.8-4.8M508.5 405.2l2.3-4.9M512 404.9l2.5-4.5M515.4 404.7l2.9-4.5M518.3 404.8l3.7-5.1M521.3 404.5l4.2-5.3M524.1 404.2l4.6-5.4M526.8 403.8l4.6-5.1M529.2 403.4l4.9-5.1M531.4 402.9l5.3-5.2M533.3 402.5l5.6-5.3M534.9 402.1l5.6-5.2M536.4 401.6l5.6-5.2M537.5 401.1l5.9-5.3M538.3 400.7l6-5.5M538.8 400.2l6.1-5.5M539 399.8l6.2-5.6M442 399.3l0.4 0.5 0.7 0.5 0.9 0.5 2.8 1 3.9 0.8 7.7 1.1 6.1 0.6 10.4 0.5 7.4 0.2 11.5 0.1 11.3-0.3 7.2-0.4 6.6-0.5 8.6-1 4.6-0.8 5.1-1.3 1.9-0.9 0.5-0.5 0.3-0.5-0.1-0.5" stroke="#0a96d1"/>
<path d="M436.7 394.5l-3.1-2.7-3.8-2.9M437.1 395.1l-3-2.7-3.8-2.9M437.9 395.7l-3-2.7-3.7-2.8M439 396.2l-3-2.7-3.8-2.8M440.1 396.5l-2.6-2.4-3.7-2.9M441.8 397l-2.5-2.4-3.3-2.5M444 397.6l-2.6-2.4-3.1-2.6M446.3 398.1l-2.5-2.4-3.1-2.7M449 398.7l-2.4-2.6-3.1-2.7M451.8 399.1l-2.3-2.6-2.5-2.4M454.7 399.2l-1.9-2.3-2.5-2.5M458 399.5l-1.7-2.2-2.4-2.6M461.6 400l-1.6-2.4-1.9-2.3M465.4 400.4l-1.5-2.5-1.8-2.4M469.2 400.7l-1.3-2.6-1.5-2.4M473 400.5l-2.2-4.7M477.1 400.7l-1.8-4.9M481.4 400.9l-1.3-5M485.6 401l-0.7-4.6M489.8 401l-0.1-4.6M494.1 401l0.4-4.6M498.3 400.9l1-4.6M502.6 400.7l1.3-4.3M506.7 400.5l1.8-4.3M510.8 400.3l2.5-4.7M514.5 400.4l1.4-2.5 1.7-2.4M518.3 400.2l1.6-2.5 1.8-2.3M522 399.7l1.7-2.4 2.3-2.6M525.5 399.2l1.8-2.2 2.4-2.5M528.7 398.8l2-2.2 2.4-2.4M531.4 398.7l2.4-2.5 2.5-2.3M534.1 398.3l2.5-2.6 2.7-2.3M536.7 397.7l2.5-2.5 3.2-2.6M538.9 397.2l2.6-2.5 3.2-2.5M540.5 396.9l3-2.7 3.1-2.5M542 396.4l3.1-2.7 3.3-2.5M543.4 395.8l3-2.7 3.7-2.8M544.3 395.2l3.1-2.6 3.7-2.9M544.9 394.7l3.1-2.7 3.8-2.9M545.2 394.2l3.1-2.8M550.2 390l1.9-1.5M433.6 391.8l0.5 0.6 0.8 0.6 1.1 0.5 3.3 1.1 4.5 1.1 5.7 0.8 6.8 0.8 11.6 0.8 8.5 0.4 13.4 0.2 13.4-0.2 8.6-0.3 11.9-0.9 7-0.7 5.9-0.9 6.9-1.5 1.6-0.5 2.3-1.1 0.6-0.6 0.3-0.6" stroke="#0f90d2"/>
<path d="M539.3 377.7l0.8-0.9M534.7 378.3l1.5-1.9M530.4 378.3l1.6-2.3M526.4 377.6l1.2-2M521.9 377.4l1.1-2.1M517.2 377.1l1-2.1M512.6 376.5l0.8-2.2M507.8 375.7l0.4-1.6M502.7 375l0.3-1.1M429.8 388.9l-7.1-5.4M430.3 389.5l-7.1-5.3M431.2 390.2l-7-5.3M432.2 390.7l-6.6-5.1M433.8 391.2l-6.5-5M436 392.1l-6.5-5.2M438.3 392.6l-6.3-5.1M440.7 393l-5.7-4.9M443.5 393.4l-5.3-4.7M447 394.1l-5.6-5.2M450.3 394.4l-5-5M453.9 394.7l-4.4-4.9M458.1 395.3l-4.2-5.1M462.1 395.5l-3.5-4.9M466.4 395.7l-3-4.8M470.8 395.8l-2.3-4.6M475.3 395.8l-1.7-4.4M480.1 395.9l-1.2-4.3M484.9 396.4l-0.7-4.7M489.7 396.4l-0.1-4.7M494.5 396.4l0.4-4.7M499.3 396.3l1-4.7M503.9 396.4l1.7-4.9M508.5 396.2l2.3-4.9M513.3 395.6l2.6-4.6M517.6 395.5l3.2-4.8M521.7 395.4l3.9-5M526 394.7l4.1-4.7M529.7 394.5l4.7-5M533.1 394.2l5-4.8M536.3 393.9l5.5-5M539.3 393.4l5.9-5.1M542.4 392.6l5.9-4.9M544.7 392.2l6.4-5.1M546.6 391.7l6.8-5.3M548.4 391.2l7-5.4M550.1 390.3l6.9-5.2M551.1 389.7l7-5.3M551.8 389.1l7.1-5.4M552.1 388.5l1.4-1.1M556.8 384.9l1.9-1.5" stroke="#138ad3"/>
<path d="M547.7 377l6.3-5.4M543.6 377.4l6.5-6.2M540.1 376.8l6.2-6.4M536.2 376.4l5.9-6.7M532 376l5.2-6.5M527.6 375.6l4.8-6.8M523 375.3l4-6.6M518.2 375l3.5-6.8M513.4 374.3l2.8-6.6M508.2 374.1l2.2-6.7M503 373.9l1.4-6.3M497.6 373.8l0.8-6.3M492.3 372.6l0.1-5.2M486.6 370.9l-0.2-3.4M480.8 369.8l-0.4-2.3M474.8 368.8l-0.4-1.1M463.1 368.6l-0.2-0.5M458 369.6l-0.5-1M453.3 370.6l-1.3-1.9M449.2 372.1l-2.2-2.8M445 373.1l-3-3.6M441.3 374.1l-3.7-3.9M437.4 374.6l-3.8-3.6M433.9 375.2l-4.3-3.9M430.3 375.5l-4-3.4M427 375.8l-3.8-3M423.2 375.4l-2.9-2.1M420.2 375.5l-1.9-1.3M417.1 375.3l-0.5-0.4M422.7 383.5l-3.4-2.3M423.2 384.2l-8.4-5.4M424.2 384.9l-8.5-5.4M425.6 385.6l-8.4-5.4M427.3 386.2l-7.8-5.1M429.5 386.9l-0.9-0.7-6.9-4.5M432 387.5l-0.8-0.7-6.4-4.2M435 388.1l-0.9-0.7-6.5-4.4M438.2 388.7l-0.8-0.8-5.8-4.1M441.4 388.9l-6-4.7M445.3 389.4l-5.5-4.6M449.5 389.8l-5.2-4.7M453.9 390.2l-4.6-4.6M458.6 390.6l-3.8-4.3M463.4 390.9l-3.5-4.7M468.5 391.2l-2.8-4.4M473.6 391.4l-2.2-4.6M478.9 391.6l-1.5-4.4M484.2 391.7l-0.9-4.6M489.6 391.7l-0.2-4.5M494.9 391.7l0.5-4.6M500.3 391.6l1.2-4.5M505.6 391.5l1.7-4.4M510.8 391.3l2.5-4.7M515.9 391l3.2-4.7M520.8 390.7l3.7-4.5M525.6 390.4l4.1-4.4M530.1 390l4.7-4.5M534.4 389.5l5.3-4.5M538.1 389.4l0.8-0.8 5.1-4M541.8 388.9l0.9-0.8 5.8-4.3M545.2 388.3l0.9-0.7 6.3-4.4M548.3 387.7l0.9-0.7 6.4-4.3M551.1 387.1l7.4-5M553.4 386.4l8-5.1M555.4 385.8l8-5.1M557 385.1l8.4-5.4M558.1 384.4l8.6-5.4M558.9 383.7l8.4-5.4M560.2 375.4l2.4-1.8M556 376.1l4.2-3.2M551.6 376.9l5.5-4.5M547.7 377l-10.8-1.5-13.4-1.2-15.1-0.8-14.5-0.3M421.8 382.8l0.5 0.7 1 0.7 1.3 0.7 4 1.3 5.5 1.2 6.9 1.1 8.1 0.9 14 1 10.3 0.5 16.1 0.3 16.2-0.3 10.4-0.4 9.8-0.6 8.9-0.8 7.9-1 9.3-1.7 4.3-1.3 2.8-1.4 0.7-0.7M549.5 377.4l-1.8-0.4" stroke="#1484d4"/>
<path d="M554 371.6l7.2-6.3M550.1 371.2l7-6.5M546.3 370.4l6.3-6.3M542.1 369.7l5.6-6.2M537.2 369.5l5.3-6.5M532.4 368.8l4.6-6.2M527 368.7l4.1-6.5M521.7 368.2l3.6-6.9M516.2 367.7l2.8-6.6M510.4 367.4l2.2-6.6M504.4 367.6l1.6-6.9M498.4 367.5l0.9-6.9M492.4 367.4l0.2-6.9M486.4 367.5l-0.6-7M480.4 367.5l-1.3-6.9M474.4 367.7l-1.9-6.9M468.5 367.6l-2.5-6.6M462.9 368.1l-3.3-6.9M457.5 368.6l-3.8-6.6M452 368.7l-4.3-6.3M447 369.3l-5-6.5M442 369.5l-5.4-6.2M437.6 370.2l-6-6.4M433.6 371l-6.7-6.6M429.6 371.3l-7-6.2M426.3 372.1l-7.6-6.3M423.2 372.8l-7.9-6.3M420.3 373.3l-7.5-5.7M418.3 374.2l-8-5.8M416.6 374.9l-8.3-5.7M414.3 375l-7.4-4.9M411 374.2l-5-3.3M408.1 373.4l-2.5-1.6M413.2 377.4l-3.5-2.2M406.2 373l-0.5-0.3M414.8 378.8l-8.4-5.3M415.7 379.5l-8.1-5.1M417.2 380.2l-7.9-4.9M419.5 381.1l-8.5-5.3M421.7 381.7l-7.9-5.1M424.8 382.6l-7.8-5.2M427.6 383l-6.9-4.8M431.6 383.8l-6.8-4.8M435.4 384.2l-6.1-4.6M439.8 384.8l-6-4.9M444.3 385.1l-5.2-4.6M449.3 385.6l-4.6-4.5M454.8 386.3l-4.3-4.7M459.9 386.2l-3.3-4.2M465.7 386.8l-2.8-4.4M471.4 386.8l-2-4.1M477.4 387.2l-1.7-4.8M483.3 387.1l-0.8-4.6M489.4 387.2l-0.2-4.6M495.4 387.1l0.6-4.5M501.5 387.1l1.2-4.6M507.3 387.1l2.1-4.8M513.3 386.6l2.4-4.1M519.1 386.3l3-4.2M524.5 386.2l3.8-4.5M529.7 386l4.5-4.7M534.8 385.5l5.2-4.8M539.7 385l5.7-4.9M544 384.6l6.1-4.7M548.5 383.8l6.3-4.6M552.4 383.2l6.7-4.7M555.6 382.7l7.4-5M558.5 382.1l7.9-5.2M561.4 381.3l8-5.2M563.4 380.7l8.5-5.4M565.4 379.7l8-5M566.7 379l8.2-5.1M567.3 378.3l8.5-5.3M572.5 372.4l2.9-2M568.9 373.2l5.4-3.7M564.9 374.1l7.7-5.4M562.6 373.6l8.2-6M560.2 372.9l7.9-6.1M557.1 372.4l7.8-6.4" stroke="#137fd6"/>
<path d="M561.2 365.3l1.4-1.1 5.2-3.7M557.1 364.7l1.3-1.2 5.2-3.9M552.6 364.1l1.3-1.3 5.4-4.4M547.7 363.5l1.2-1.3 6-5.4M542.5 363l1.1-1.4 5.5-5.4M537 362.6l1-1.5 4.9-5.5M531.1 362.2l1-1.5 4.4-5.7M525.3 361.3l4.2-6.5M519 361.1l3.5-6.8M512.6 360.8l2.6-6.6M506 360.7l1.9-6.8M499.3 360.6l1.1-7M492.6 360.5l0.2-6.5M485.8 360.5l-0.6-7M479.1 360.6l-1.4-6.7M472.5 360.8l-2.2-6.6M466 361l-3-6.5M459.6 361.2l-3.8-6.6M453.7 362l-0.9-1.5-3.3-4.6M447.7 362.4l-1-1.4-3.3-4.1M442 362.8l-1.1-1.4-3.6-3.8M436.6 363.3l-1.1-1.3-4.3-4M431.6 363.8l-1.2-1.2-5.3-4.5M426.9 364.4l-1.3-1.2-6.8-5.2M422.6 365.1l-1.4-1.2-7-5.1M418.7 365.8l-1.4-1.2-7.4-4.9M415.3 366.5l-1.4-1.1-7.9-5M412.8 367.6l-1.9-1.4-8.1-4.8M410.3 368.4l-1.9-1.4-8.3-4.7M408.3 369.2l-1.9-1.3-8.4-4.6M406.9 370.1l-2-1.3-8.9-4.7M406 370.9l-2-1.3-9.1-4.6M405.6 371.8l-2-1.3-9-4.4M405.7 372.7l-2-1.3-8.6-4.2M406.4 373.5l-2-1.2-8.6-4.1M407.6 374.4l-2-1.2-8.5-4.1M409.3 375.3l-2-1.3-8.6-4.1M411 375.8l-1.4-0.9-8.5-4.1M413.8 376.6l-1.5-0.9-6.8-3.3M417 377.4l-1.5-0.9-5.7-2.9M420.7 378.2l-1.5-1-5.2-2.7M424.8 379l-1.4-1.1-5.2-2.7M429.3 379.6l-1.4-1-5.4-3.1M433.8 379.9l-0.9-0.7-6-3.6M439.1 380.5l-0.9-0.7-5.3-3.5M444.7 381.1l-0.9-0.8-4.7-3.5M450.5 381.6l-0.8-0.9-4.4-3.6M456.6 382l-0.7-0.9-3.5-3.3M462.9 382.4l-0.6-1-3.1-3.5M469.4 382.7l-0.6-1-2.2-3.4M475.7 382.4l-1.9-4.2M482.5 382.5l-1.1-3.9M489.2 382.6l-0.2-4.1M496 382.6l0.6-4.2M502.7 382.5l1.4-3.9M509.4 382.3l2.1-3.9M515.7 382.5l0.6-1 2.5-3.2M522.1 382.1l0.6-0.9 3.3-3.4M528.3 381.7l0.7-0.9 3.3-2.8M534.2 381.3l0.9-0.9 3.3-2.5M540 380.7l0.9-0.8 3.6-2.5M545.4 380.1l0.9-0.7 4.3-2.6M550.1 379.9l1.3-1.1 5.3-3M554.8 379.2l1.4-1 6.8-3.8M559.1 378.5l1.5-1 6.8-3.6M563 377.7l1.5-1 7.2-3.6M566.4 376.9l1.5-0.9 7.9-3.9M569.4 376.1l1.5-0.9 8-3.9M571.9 375.3l1.5-1 8.1-3.9M573.4 374.7l2-1.2 8.6-4.1M574.9 373.9l2-1.3 8.5-4.1M586.3 367.6l0.6-0.3M580.9 369.5l5.9-2.9M576.6 370.9l1.5-0.9 8.9-4.5M575.4 370.4l2-1.3 8.9-4.6M574.3 369.5l1.9-1.3 8.7-4.7M572.6 368.7l1.9-1.4 8.7-4.8M570.8 367.6l1.4-1.1 8.5-4.9M568.1 366.8l1.4-1.1 6.8-4.2M564.9 366l1.4-1.1 5.7-3.7M562.6 364.2l-8.7-1.4-5-0.6-10.9-1.1-12.1-0.8-12.9-0.6-13.5-0.3-13.7 0-13.6 0.2-13.1 0.6-12.4 0.8-16.3 1.6-9.2 1.3-7.3 1.5-5.5 1.6-2 0.9-1.5 0.9-0.9 0.8-0.4 0.9 0.1 0.9 0.7 0.9 1.2 0.9 1.7 0.8 2.3 0.9 2.7 0.8 6.9 1.5 8.7 1.4 10.3 1.2 11.5 0.9 12.6 0.7 13.2 0.4 20.5 0.2 20.3-0.5 12.7-0.7 11.9-0.9 10.5-1.1 9.2-1.3 7.3-1.5 5.5-1.7 2-0.8 1.8-1.2M578.1 370l-0.7-0.9-1.2-0.9-1.7-0.9-5-1.6-6.9-1.5" stroke="#117bd9"/>
<path d="M549.1 356.2l1.3-1.3M542.9 355.6l2.7-3M536.5 355l4-5.2M529.5 354.8l4.5-6.9M522.5 354.3l3.6-6.8M515.2 354.2l2.9-7.1M507.9 353.9l1.9-6.8M500.4 353.6l1.1-7.1M492.8 354l0.2-7.1M485.2 353.5l-0.6-6.5M477.7 353.9l-1.2-5.6M470.3 354.2l-1.1-3.3M463 354.5l-0.7-1.6M414.2 358.8l-1.9-1.3M409.9 359.7l-4.5-3M406 360.4l-7.9-4.9M402.8 361.4l-10.1-6M400.1 362.3l-10.9-6.2M398 363.3l-11.1-6M396 364.1l-11-5.8M394.9 365l-11.1-5.7M394.6 366.1l-11.1-5.6M395.1 367.2l-11.3-5.5M395.8 368.2l-9.1-4.4M397.1 369.1l-5.3-2.5M398.7 369.9l-2.1-1M432.9 376.3l-1.5-0.9M439.1 376.8l-2.9-2M445.3 377.1l-4-3.2M452.4 377.8l-4.7-4.4M459.2 377.9l-3.5-4M466.6 378.3l-3-4.3M473.8 378.2l-2-4.1M481.4 378.6l-1-4M489 378.5l-0.2-4M496.6 378.4l0.7-4.1M504.1 378.6l1.2-3.3M511.5 378.4l1.1-1.9M518.8 378.3l0.7-1M567.4 373.9l2.1-1.1M571.7 373.1l4.7-2.4M575.8 372.1l7.9-3.9M578.9 371.3l10.6-5.1M581.5 370.4l10.8-5.1M584 369.4l10.7-5.1M585.4 368.5l11.3-5.4M586.9 367.3l11.1-5.4M586.8 366.6l11.3-5.6M587 365.5l11-5.6M586.3 364.5l8.8-4.6M584.9 363.5l5.1-2.7M583.2 362.5l2-1.1" stroke="#0e76dc"/>
<path d="M534 347.9l1-1.5M526.1 347.5l2.8-5.2M518.1 347.1l2.9-7.1M509.8 347.1l2.1-7.4M501.5 346.5l1.1-6.9M493 346.9l0.2-5.4M484.6 347l-0.2-1.7M392.7 355.4l-2.5-1.5M389.2 356.1l-7.8-4.4M386.9 357.3l-11-5.9M385 358.3l-11.1-5.8M383.8 359.3l-11.2-5.6M383.5 360.5l-8.4-4.2M383.8 361.7l-2.6-1.3M447.7 373.4l-0.9-0.8M455.7 373.9l-2.8-3.1M463.6 374l-2.6-3.8-0.4-0.4M471.8 374.1l-1.7-3.7-0.3-0.4M480.4 374.6l-1.3-4.5M488.8 374.5l-0.2-2.9M497.3 374.3l0.1-0.6M589.5 366.2l2.1-1.1M592.3 365.3l8.1-3.9M594.7 364.3l11.2-5.3M596.7 363.1l11.2-5.3M598 361.9l11.2-5.3M598.1 361l8.6-4.2M598 359.9l2.6-1.3M526.6 340.7l-14.9-0.5-15.3-0.2M378.2 350.8l-1.7 0.8-2 1.1-1.3 1.2-0.4 0.8M455.2 370l14.9 0.4 15.3 0.2M603.6 359.9l1.7-0.8 2-1.1 1.3-1.2 0.4-0.8" stroke="#0971de"/>
<path d="M521 340l1-1.9M511.9 339.7l2.3-6.2M502.6 339.6l0.4-1.9M375.9 351.4l-4.3-1.7M373.9 352.5l-13.5-5M372.6 353.7l-4.4-1.6M460.6 369.8l-0.8-0.7M469.8 370l-2.2-2.7M479.1 370.1l-0.3-0.6M605.9 359l4.3-1.4M607.9 357.8l13.5-4.5M609.2 356.6l4.4-1.5" stroke="#046ce0"/>
</g>
<path d="M474.8 441.6l0.4 0.1 0.3 0 0.4 0.1 0.4 0 0.4 0 0.5 0 0.4 0 0.5-0.1 0.5 0 0.5-0.1 0.5-0.1 0.5-0.1 0.6-0.2 0.5-0.1 0.6-0.2 0.6-0.1 0.5-0.2 0.6-0.2 0.6-0.1 0.7-0.2 0.6-0.2 0.6-0.1 0.6-0.2 0.7-0.2 0.6-0.1 0.7-0.1 0.6-0.2 0.7-0.1 0.6-0.1 0.7-0.1 0.6-0.1 0.7 0 0.6-0.1 0.7-0.1 0.6 0 0.7-0.1 0.6 0 0.6-0.1 0.7 0 0.6-0.1 0.6 0 0.6 0 0.6-0.1 0.6 0 0.5-0.1 0.6 0 0.5-0.1 0.6 0 0.5-0.1 0.5 0 0.5-0.1 0.4 0 0.5-0.1 0.4 0 0.4-0.1 0.4 0 0.4-0.1 0.4 0 0.3-0.1 0.4 0 0.3 0 0.3 0 0.2 0 0.3 0 0.2 0 0.2 0 0.2 0 0.2 0.1 0.1 0.1 0.1 0 0.1 0.1 0.1 0.1 0 0.1 0 0.1 0 0.1 0 0.1 0 0.2" stroke="#1422ee" stroke-width="1.4" stroke-dasharray="1.4 0.9" fill="none"/>
<path d="M360.4 295.3l0 172.3 107.2 19.8 153.8-14M357.1 468l3.3-0.4M357.1 449.3l3.3-0.4M357.1 430.6l3.3-0.4M357.1 411.9l3.3-0.4M357.1 393.3l3.3-0.5M357.1 374.6l3.3-0.5M357.1 355.9l3.3-0.5M357.1 337.2l3.3-0.4M357.1 318.5l3.3-0.4M357.1 299.8l3.3-0.4M360.4 467.6l0 4.4M414 477.5l0 4.4M467.6 487.4l0 4.4M544.5 480.4l0 4.4M621.4 473.4l0 4.4" stroke="#303030" stroke-width="0.9" fill="none"/>
<g class="tk"><text x="353.8" y="468.8" text-anchor="end">-5</text><text x="353.8" y="450.1" text-anchor="end">0</text><text x="353.8" y="431.4" text-anchor="end">5</text><text x="353.8" y="412.7" text-anchor="end">10</text><text x="353.8" y="394" text-anchor="end">15</text><text x="353.8" y="375.3" text-anchor="end">20</text><text x="353.8" y="356.6" text-anchor="end">25</text><text x="353.8" y="338" text-anchor="end">30</text><text x="353.8" y="319.3" text-anchor="end">35</text><text x="353.8" y="300.6" text-anchor="end">40</text><text x="358.4" y="479.6" text-anchor="middle">5</text><text x="411.8" y="489.5" text-anchor="middle">0</text><text x="416.6" y="500.1" text-anchor="middle" class="al">Im(ζ)</text><text x="468" y="499.8" text-anchor="middle">-5-5</text><text x="546" y="492.3" text-anchor="middle">0</text><text x="531.1" y="500.6" text-anchor="middle" class="al">Re(ζ)</text><text x="623" y="485" text-anchor="middle">5</text><text transform="translate(342.4 380.6) rotate(-90)" text-anchor="middle" class="zl" textLength="83" lengthAdjust="spacingAndGlyphs">F(ζ)=2πJ R(ζ,ζ)-K(ζ); J=7</text></g>
<text class="cap" x="478.8" y="527.3" text-anchor="middle">(d) <tspan class="it">F</tspan>(<tspan class="it">ζ</tspan>; 7)</text></g>
</svg>
</body></html>
